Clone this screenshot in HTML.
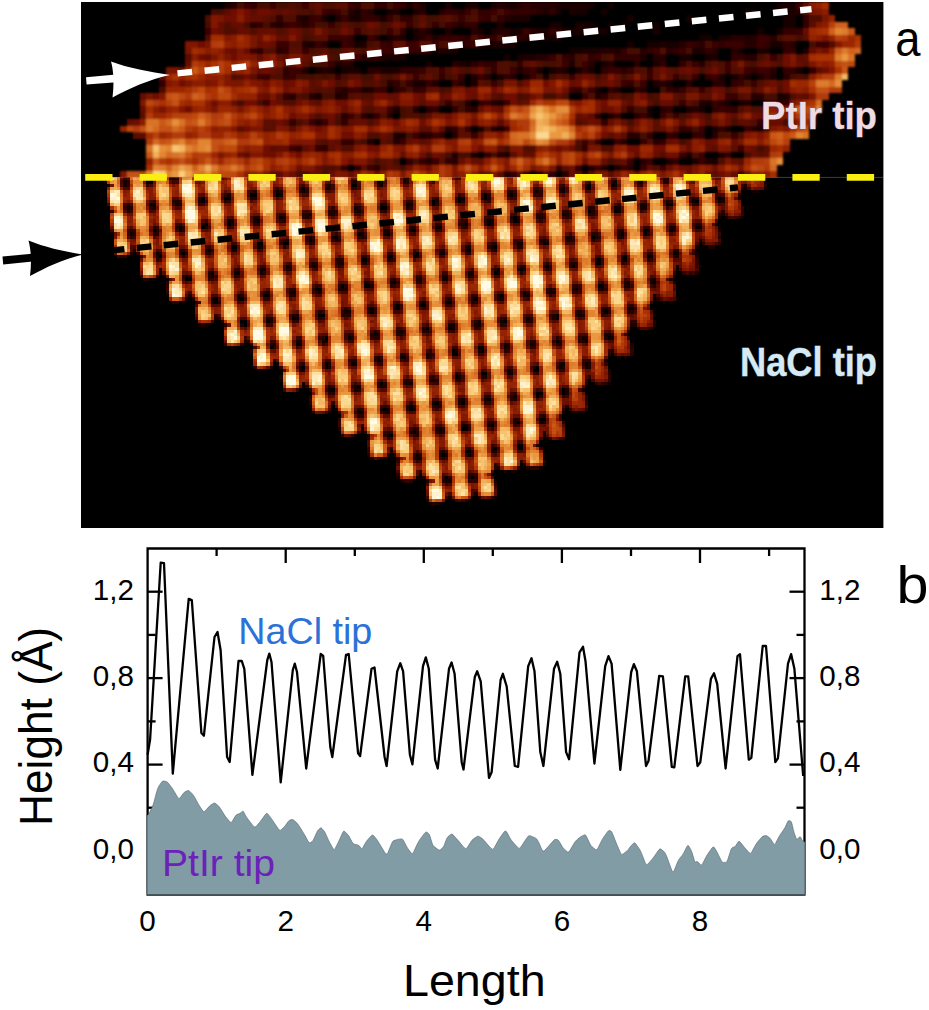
<!DOCTYPE html><html><head><meta charset="utf-8"><title>fig</title>
<style>html,body{margin:0;padding:0;background:#fff}svg{display:block}text{font-family:"Liberation Sans",sans-serif}</style></head><body>
<svg width="929" height="1010" viewBox="0 0 929 1010">
<rect width="929" height="1010" fill="#fff"/>
<rect x="81" y="2" width="802.4" height="526" fill="#000"/>
<defs><filter id="bl" x="-5%" y="-10%" width="110%" height="120%"><feGaussianBlur stdDeviation="1.1"/></filter><clipPath id="cp"><rect x="81" y="2" width="802.4" height="175.4"/></clipPath></defs>
<g clip-path="url(#cp)"><g filter="url(#bl)">
<g transform="translate(81 2) scale(6.5)" shape-rendering="crispEdges" fill="none" stroke-width="1">
<path stroke="#130100" d="M22 0.5h1M50 0.5h1M59 0.5h1M66 0.5h1M78 0.5h1M81 0.5h1M107 0.5h1M109 0.5h1M42 1.5h1M47 1.5h1M73 1.5h1M76 1.5h2M80 1.5h1M102 1.5h2M107 1.5h2M37 2.5h1M42 2.5h1M46 2.5h1M84 2.5h1M93 2.5h1M108 2.5h2M72 3.5h2M76 3.5h3M81 3.5h1M83 3.5h1M88 3.5h1M108 3.5h2M53 4.5h1M61 4.5h1M66 4.5h1M75 4.5h1M78 4.5h3M88 4.5h1M104 4.5h1M107 4.5h1M47 5.5h1M51 5.5h1M70 5.5h3M95 5.5h2M98 5.5h2M35 6.5h1M42 6.5h1M62 6.5h1M65 6.5h2M84 6.5h1M87 6.5h2M90 6.5h2M106 6.5h2M54 7.5h1M75 7.5h2M101 7.5h1M105 7.5h1M47 8.5h1M49 8.5h1M65 8.5h1M67 8.5h1M92 8.5h2M96 8.5h1M39 9.5h1M53 9.5h1M59 9.5h1M80 9.5h1M36 10.5h1M38 10.5h1M40 10.5h1M42 10.5h1M72 10.5h1M74 10.5h1M76 10.5h1M78 10.5h1M110 10.5h1M64 11.5h1M68 11.5h1M71 11.5h1M100 11.5h1M102 11.5h1M104 11.5h1M106 11.5h1M51 12.5h2M90 12.5h1M43 13.5h1M79 13.5h1M36 14.5h1M64 15.5h1M96 15.5h1M99 15.5h1M101 15.5h1M48 16.5h1M87 16.5h1M95 16.5h1M44 17.5h1M87 17.5h1M64 19.5h1M99 19.5h1M104 19.5h1M48 20.5h1M60 23.5h1M93 23.5h1M97 24.5h1M57 27.5h2M61 27.5h1M93 27.5h1"/>
<path stroke="#1d0200" d="M52 0.5h1M56 0.5h1M60 0.5h1M63 0.5h1M65 0.5h1M73 0.5h5M108 0.5h1M48 1.5h1M51 1.5h1M71 1.5h1M75 1.5h1M109 1.5h1M34 2.5h1M39 2.5h1M41 2.5h1M66 2.5h3M30 3.5h1M58 3.5h1M64 3.5h1M51 4.5h1M56 4.5h1M63 4.5h1M67 4.5h1M70 4.5h2M74 4.5h1M76 4.5h2M49 5.5h1M54 5.5h1M66 5.5h1M69 5.5h1M73 5.5h1M102 5.5h1M34 6.5h1M43 6.5h1M63 6.5h2M89 6.5h1M55 7.5h3M77 7.5h3M82 7.5h1M94 7.5h2M104 7.5h1M111 7.5h1M46 8.5h1M48 8.5h1M68 8.5h2M86 8.5h1M97 8.5h1M41 9.5h1M58 9.5h1M75 9.5h1M88 9.5h1M34 10.5h1M41 10.5h1M46 10.5h3M67 10.5h1M70 10.5h1M60 11.5h1M66 11.5h1M98 11.5h1M54 12.5h1M60 12.5h1M88 12.5h1M44 13.5h1M82 13.5h1M86 13.5h1M39 14.5h1M79 14.5h1M107 14.5h2M59 15.5h1M63 15.5h1M95 15.5h1M102 15.5h1M51 16.5h1M93 16.5h1M81 17.5h1M36 18.5h1M61 19.5h1M97 19.5h1M49 20.5h1M52 20.5h1M44 21.5h1M57 23.5h1M65 23.5h1M98 23.5h1M53 24.5h1M90 24.5h1M94 24.5h1M96 24.5h1M78 25.5h1M80 25.5h1M82 25.5h1M65 26.5h1M70 26.5h1M62 27.5h1M65 27.5h1M94 27.5h1"/>
<path stroke="#270300" d="M23 0.5h1M64 0.5h1M67 0.5h1M69 0.5h4M41 1.5h1M44 1.5h1M52 1.5h1M55 1.5h1M58 1.5h1M70 1.5h1M110 1.5h1M33 2.5h1M65 2.5h1M26 3.5h1M29 3.5h1M34 3.5h1M52 4.5h1M60 4.5h1M64 4.5h2M69 4.5h1M73 4.5h1M45 5.5h1M48 5.5h1M52 5.5h1M59 5.5h1M68 5.5h1M100 5.5h2M103 5.5h1M106 5.5h1M37 6.5h1M58 6.5h1M61 6.5h1M92 6.5h1M95 6.5h1M102 6.5h2M109 6.5h1M27 7.5h1M30 7.5h1M80 7.5h2M86 7.5h1M90 7.5h1M97 7.5h1M100 7.5h1M43 8.5h1M70 8.5h2M75 8.5h1M88 8.5h2M102 8.5h2M40 9.5h1M57 9.5h1M60 9.5h1M78 9.5h1M81 9.5h1M85 9.5h1M95 9.5h1M31 10.5h1M37 10.5h1M44 10.5h2M73 10.5h1M83 10.5h1M106 10.5h1M62 11.5h1M108 11.5h1M47 12.5h1M58 12.5h1M89 12.5h1M93 12.5h1M97 12.5h2M40 13.5h1M48 13.5h1M91 13.5h1M32 14.5h1M35 14.5h1M40 14.5h1M103 14.5h2M98 15.5h1M107 15.5h1M53 16.5h1M60 16.5h1M89 16.5h1M94 16.5h1M40 17.5h1M43 17.5h1M47 17.5h1M79 17.5h1M85 17.5h1M56 19.5h1M63 19.5h1M103 19.5h1M53 20.5h1M57 20.5h1M84 20.5h2M91 20.5h1M97 20.5h1M48 21.5h1M83 21.5h1M88 21.5h1M64 23.5h1M57 24.5h1M86 24.5h1M42 25.5h1M45 25.5h1M84 25.5h1M74 26.5h1M77 26.5h1M96 27.5h1M100 27.5h1"/>
<path stroke="#300300" d="M26 0.5h1M42 0.5h1M45 0.5h2M49 0.5h1M51 0.5h1M68 0.5h1M38 1.5h1M43 1.5h1M56 1.5h2M61 1.5h2M66 1.5h4M72 1.5h1M30 2.5h1M35 2.5h1M43 2.5h3M49 2.5h2M62 2.5h1M64 2.5h1M111 2.5h1M27 3.5h1M31 3.5h1M33 3.5h1M54 3.5h1M57 3.5h1M59 3.5h2M111 3.5h1M49 4.5h1M72 4.5h1M108 4.5h2M41 5.5h1M55 5.5h2M58 5.5h1M62 5.5h2M65 5.5h1M67 5.5h1M41 6.5h1M47 6.5h1M59 6.5h1M94 6.5h1M98 6.5h1M105 6.5h1M108 6.5h1M31 7.5h1M51 7.5h1M53 7.5h1M83 7.5h1M87 7.5h1M91 7.5h1M96 7.5h1M108 7.5h2M44 8.5h2M74 8.5h1M78 8.5h1M82 8.5h4M100 8.5h2M62 9.5h2M67 9.5h1M89 9.5h1M92 9.5h1M49 10.5h3M63 10.5h1M68 10.5h1M77 10.5h1M80 10.5h1M87 10.5h1M103 10.5h1M108 10.5h2M112 10.5h1M31 11.5h1M55 11.5h1M65 11.5h1M96 11.5h1M101 11.5h1M105 11.5h1M12 12.5h1M48 12.5h1M50 12.5h1M53 12.5h1M84 12.5h1M100 12.5h1M39 13.5h1M51 13.5h1M76 13.5h1M81 13.5h1M85 13.5h1M90 13.5h1M31 14.5h1M80 14.5h1M56 15.5h1M61 15.5h1M108 15.5h1M54 16.5h1M57 16.5h1M59 16.5h1M84 16.5h1M90 16.5h1M97 16.5h1M99 16.5h2M45 17.5h1M82 17.5h1M32 18.5h1M40 18.5h1M80 18.5h1M104 18.5h1M57 19.5h1M92 19.5h1M98 19.5h1M55 20.5h1M87 20.5h1M90 20.5h1M94 20.5h2M40 21.5h2M79 21.5h1M89 21.5h1M33 22.5h1M36 22.5h2M77 22.5h1M62 23.5h1M99 23.5h1M50 24.5h1M52 24.5h1M56 24.5h1M91 24.5h1M40 25.5h1M76 25.5h1M66 26.5h1M68 26.5h1M72 26.5h1M66 27.5h1"/>
<path stroke="#3a0400" d="M25 0.5h1M29 0.5h1M34 0.5h1M41 0.5h1M48 0.5h1M110 0.5h1M37 1.5h1M39 1.5h1M59 1.5h1M63 1.5h1M65 1.5h1M36 2.5h1M40 2.5h1M47 2.5h1M58 2.5h1M61 2.5h1M32 3.5h1M35 3.5h1M38 3.5h1M50 3.5h1M56 3.5h1M19 4.5h1M42 4.5h1M47 4.5h1M68 4.5h1M110 4.5h1M38 5.5h3M44 5.5h1M53 5.5h1M57 5.5h1M61 5.5h1M104 5.5h2M30 6.5h2M36 6.5h1M40 6.5h1M46 6.5h1M50 6.5h2M54 6.5h1M60 6.5h1M93 6.5h1M97 6.5h1M99 6.5h3M104 6.5h1M113 6.5h2M26 7.5h1M34 7.5h1M46 7.5h2M50 7.5h1M52 7.5h1M88 7.5h1M92 7.5h1M42 8.5h1M72 8.5h1M79 8.5h1M106 8.5h1M38 9.5h1M61 9.5h1M74 9.5h1M77 9.5h1M94 9.5h1M99 9.5h1M32 10.5h2M52 10.5h1M55 10.5h1M66 10.5h1M69 10.5h1M81 10.5h2M84 10.5h1M99 10.5h1M102 10.5h1M104 10.5h2M27 11.5h2M32 11.5h1M39 11.5h1M51 11.5h1M58 11.5h1M61 11.5h1M69 11.5h1M75 11.5h1M87 11.5h1M91 11.5h1M94 11.5h1M97 11.5h1M57 12.5h1M63 12.5h1M83 12.5h1M86 12.5h1M101 12.5h1M103 12.5h1M41 13.5h2M45 13.5h2M49 13.5h1M52 13.5h1M75 13.5h1M78 13.5h1M92 13.5h1M95 13.5h1M77 14.5h1M99 14.5h2M28 15.5h1M62 15.5h1M65 15.5h1M92 15.5h1M97 15.5h1M105 15.5h2M47 16.5h1M98 16.5h1M41 17.5h1M86 17.5h1M89 17.5h1M91 17.5h1M35 18.5h1M37 18.5h1M59 19.5h1M65 19.5h1M93 19.5h1M95 19.5h1M102 19.5h1M51 20.5h1M54 20.5h1M60 20.5h1M100 20.5h1M49 21.5h1M77 21.5h1M82 21.5h1M86 21.5h1M32 22.5h1M101 22.5h1M92 23.5h1M95 23.5h1M54 24.5h1M84 24.5h1M87 24.5h1M95 24.5h1M44 25.5h1M73 25.5h1M79 25.5h1M83 25.5h1M86 25.5h1M89 25.5h1M101 26.5h1M53 27.5h1M60 27.5h1M99 27.5h1M102 27.5h1"/>
<path stroke="#450700" d="M24 0.5h1M27 0.5h2M30 0.5h2M33 0.5h1M47 0.5h1M20 1.5h2M35 1.5h1M40 1.5h1M60 1.5h1M64 1.5h1M48 2.5h1M51 2.5h1M53 2.5h2M57 2.5h1M59 2.5h1M63 2.5h1M19 3.5h1M25 3.5h1M28 3.5h1M36 3.5h2M39 3.5h1M42 3.5h1M46 3.5h1M51 3.5h1M53 3.5h1M55 3.5h1M46 4.5h1M34 5.5h1M60 5.5h1M64 5.5h1M107 5.5h1M110 5.5h1M44 6.5h1M55 6.5h1M96 6.5h1M112 6.5h1M35 7.5h1M38 7.5h2M43 7.5h1M48 7.5h1M84 7.5h2M93 7.5h1M39 8.5h1M76 8.5h1M80 8.5h1M104 8.5h1M107 8.5h1M35 9.5h3M66 9.5h1M71 9.5h2M76 9.5h1M93 9.5h1M96 9.5h1M103 9.5h1M59 10.5h1M62 10.5h1M95 10.5h1M33 11.5h3M37 11.5h1M40 11.5h1M43 11.5h2M47 11.5h1M56 11.5h1M70 11.5h1M72 11.5h1M79 11.5h1M83 11.5h1M92 11.5h1M109 11.5h1M111 11.5h1M46 12.5h1M49 12.5h1M64 12.5h1M102 12.5h1M12 13.5h1M50 13.5h1M55 13.5h1M89 13.5h1M99 13.5h1M34 14.5h1M37 14.5h2M67 14.5h1M71 14.5h2M83 14.5h1M87 14.5h1M105 14.5h2M24 15.5h1M27 15.5h1M58 15.5h1M88 15.5h1M94 15.5h1M49 16.5h1M58 16.5h1M85 16.5h2M49 17.5h1M52 17.5h1M92 17.5h1M96 17.5h1M33 18.5h1M39 18.5h1M84 18.5h1M100 18.5h1M108 18.5h1M94 19.5h1M105 19.5h1M50 20.5h1M86 20.5h1M43 21.5h1M92 21.5h1M65 22.5h1M76 22.5h1M104 22.5h1M53 23.5h1M56 23.5h1M58 23.5h2M63 23.5h1M94 23.5h1M102 23.5h1M45 24.5h1M48 24.5h1M51 24.5h1M81 24.5h1M49 25.5h1M33 26.5h2M37 26.5h1M64 27.5h1M89 27.5h1M95 27.5h1"/>
<path stroke="#4f0900" d="M32 0.5h1M37 0.5h2M43 0.5h2M33 1.5h2M111 1.5h1M19 2.5h1M29 2.5h1M31 2.5h2M55 2.5h1M60 2.5h1M112 2.5h2M22 3.5h1M41 3.5h1M43 3.5h1M47 3.5h1M22 4.5h2M26 4.5h1M30 4.5h1M34 4.5h1M38 4.5h2M43 4.5h1M45 4.5h1M48 4.5h1M19 5.5h1M35 5.5h1M32 6.5h2M45 6.5h1M53 6.5h1M56 6.5h2M115 6.5h1M28 7.5h2M36 7.5h1M42 7.5h1M49 7.5h1M89 7.5h1M38 8.5h1M73 8.5h1M77 8.5h1M81 8.5h1M64 9.5h2M70 9.5h1M73 9.5h1M98 9.5h1M102 9.5h1M107 9.5h1M53 10.5h2M56 10.5h1M58 10.5h1M64 10.5h2M85 10.5h2M91 10.5h1M98 10.5h1M100 10.5h1M23 11.5h1M29 11.5h2M36 11.5h1M38 11.5h1M46 11.5h1M52 11.5h1M54 11.5h1M57 11.5h1M74 11.5h1M93 11.5h1M110 11.5h1M39 12.5h1M43 12.5h2M62 12.5h1M67 12.5h1M85 12.5h1M104 12.5h1M36 13.5h1M38 13.5h1M56 13.5h1M77 13.5h1M93 13.5h1M96 13.5h1M103 13.5h1M107 13.5h1M33 14.5h1M41 14.5h1M43 14.5h2M64 14.5h1M68 14.5h1M74 14.5h1M78 14.5h1M81 14.5h1M84 14.5h1M88 14.5h1M92 14.5h1M101 14.5h1M109 14.5h1M31 15.5h2M55 15.5h1M57 15.5h1M91 15.5h1M44 16.5h1M50 16.5h1M83 16.5h1M101 16.5h1M103 16.5h2M36 17.5h1M39 17.5h1M42 17.5h1M46 17.5h1M50 17.5h2M90 17.5h1M93 17.5h1M44 18.5h1M76 18.5h1M96 18.5h1M103 18.5h1M105 18.5h1M62 19.5h1M44 20.5h2M98 20.5h2M101 20.5h1M37 21.5h1M42 21.5h1M47 21.5h1M76 21.5h1M87 21.5h1M40 22.5h2M68 22.5h2M80 22.5h2M89 23.5h1M98 24.5h1M37 25.5h2M46 25.5h1M88 25.5h1M71 26.5h1M76 26.5h1M78 26.5h1M54 27.5h1M56 27.5h1M59 27.5h1M63 27.5h1M69 27.5h1"/>
<path stroke="#5a0c00" d="M35 0.5h1M39 0.5h2M111 0.5h1M22 1.5h1M26 1.5h1M30 1.5h1M32 1.5h1M36 1.5h1M28 2.5h1M52 2.5h1M56 2.5h1M40 3.5h1M49 3.5h1M112 3.5h1M31 4.5h1M35 4.5h1M41 4.5h1M44 4.5h1M36 5.5h2M108 5.5h2M111 5.5h1M48 6.5h2M52 6.5h1M32 7.5h2M37 7.5h1M40 7.5h1M16 8.5h1M31 8.5h1M35 8.5h1M40 8.5h2M105 8.5h1M110 8.5h1M31 9.5h1M34 9.5h1M68 9.5h1M97 9.5h1M100 9.5h1M106 9.5h1M111 9.5h1M30 10.5h1M60 10.5h1M88 10.5h1M90 10.5h1M94 10.5h1M96 10.5h1M101 10.5h1M113 10.5h1M12 11.5h1M24 11.5h1M26 11.5h1M41 11.5h2M48 11.5h1M50 11.5h1M73 11.5h1M76 11.5h1M80 11.5h1M84 11.5h1M86 11.5h1M88 11.5h1M90 11.5h1M35 12.5h1M40 12.5h1M45 12.5h1M61 12.5h1M79 12.5h1M82 12.5h1M107 12.5h1M35 13.5h1M37 13.5h1M53 13.5h1M94 13.5h1M100 13.5h1M30 14.5h1M42 14.5h1M63 14.5h1M82 14.5h1M91 14.5h1M95 14.5h2M102 14.5h1M111 14.5h1M36 15.5h1M52 15.5h1M67 15.5h1M84 15.5h1M87 15.5h1M93 15.5h1M43 16.5h1M9 17.5h1M53 17.5h1M78 17.5h1M95 17.5h1M100 17.5h1M28 18.5h2M31 18.5h1M34 18.5h1M41 18.5h1M64 18.5h1M77 18.5h1M88 18.5h1M92 18.5h1M101 18.5h2M24 19.5h1M28 19.5h2M32 19.5h1M52 19.5h2M55 19.5h1M58 19.5h1M88 19.5h1M91 19.5h1M8 20.5h2M47 20.5h1M58 20.5h2M81 20.5h1M83 20.5h1M36 21.5h1M39 21.5h1M46 21.5h1M52 21.5h1M78 21.5h1M93 21.5h1M29 22.5h1M34 22.5h1M38 22.5h1M64 22.5h1M97 22.5h1M100 22.5h1M105 22.5h1M25 23.5h1M66 23.5h1M104 23.5h1M46 24.5h1M55 24.5h1M82 24.5h1M101 24.5h1M39 25.5h1M43 25.5h1M48 25.5h1M74 25.5h1M87 25.5h1M29 26.5h2M64 26.5h1M67 26.5h1M81 26.5h1M97 26.5h1M55 27.5h1M90 27.5h1M92 27.5h1"/>
<path stroke="#650f00" d="M36 0.5h1M29 1.5h1M31 1.5h1M26 2.5h2M21 3.5h1M23 3.5h2M45 3.5h1M52 3.5h1M21 4.5h1M24 4.5h2M27 4.5h3M33 4.5h1M37 4.5h1M111 4.5h1M30 5.5h2M33 5.5h1M27 6.5h1M29 6.5h1M23 7.5h1M25 7.5h1M41 7.5h1M44 7.5h2M112 7.5h1M19 8.5h1M27 8.5h1M30 8.5h1M34 8.5h1M36 8.5h1M111 8.5h1M16 9.5h1M32 9.5h1M69 9.5h1M104 9.5h1M110 9.5h1M15 10.5h1M27 10.5h1M29 10.5h1M57 10.5h1M92 10.5h1M53 11.5h1M78 11.5h1M82 11.5h1M31 12.5h1M36 12.5h1M75 12.5h1M80 12.5h1M105 12.5h1M54 13.5h1M59 13.5h1M98 13.5h1M104 13.5h1M9 14.5h1M28 14.5h1M47 14.5h2M52 14.5h1M55 14.5h1M60 14.5h1M73 14.5h1M110 14.5h1M23 15.5h1M30 15.5h1M35 15.5h1M44 15.5h1M48 15.5h1M68 15.5h1M89 15.5h2M9 16.5h1M40 16.5h1M45 16.5h2M61 16.5h1M64 16.5h1M80 16.5h1M102 16.5h1M35 17.5h1M37 17.5h1M76 17.5h1M104 17.5h1M7 18.5h1M38 18.5h1M42 18.5h2M45 18.5h1M79 18.5h1M81 18.5h1M83 18.5h1M97 18.5h1M99 18.5h1M106 18.5h2M84 19.5h1M89 19.5h1M46 20.5h1M61 20.5h1M38 21.5h1M50 21.5h1M53 21.5h1M90 21.5h1M96 21.5h1M100 21.5h1M30 22.5h2M93 22.5h1M96 22.5h1M103 22.5h1M49 23.5h1M55 23.5h1M68 23.5h2M85 23.5h1M88 23.5h1M103 23.5h1M105 23.5h1M44 24.5h1M47 24.5h1M58 24.5h1M60 24.5h2M80 24.5h1M83 24.5h1M100 24.5h1M36 25.5h1M47 25.5h1M90 25.5h1M93 25.5h1M36 26.5h1M38 26.5h1M41 26.5h1M61 26.5h2M75 26.5h1M93 26.5h1M100 26.5h1M102 26.5h1"/>
<path stroke="#6f1100" d="M23 1.5h1M25 1.5h1M27 1.5h2M22 2.5h2M25 2.5h1M44 3.5h1M48 3.5h1M20 4.5h1M32 4.5h1M40 4.5h1M27 5.5h1M18 6.5h1M28 6.5h1M22 7.5h1M114 7.5h1M18 8.5h1M23 8.5h1M108 8.5h1M105 9.5h1M108 9.5h1M28 10.5h1M61 10.5h1M89 10.5h1M93 10.5h1M97 10.5h1M114 10.5h1M25 11.5h1M45 11.5h1M77 11.5h1M15 12.5h1M28 12.5h1M32 12.5h1M38 12.5h1M42 12.5h1M68 12.5h1M71 12.5h1M76 12.5h1M81 12.5h1M106 12.5h1M108 12.5h1M31 13.5h1M34 13.5h1M60 13.5h1M63 13.5h1M74 13.5h1M97 13.5h1M108 13.5h1M11 14.5h1M27 14.5h1M45 14.5h2M51 14.5h1M56 14.5h1M59 14.5h1M65 14.5h2M69 14.5h1M86 14.5h1M98 14.5h1M20 15.5h1M25 15.5h2M29 15.5h1M33 15.5h1M39 15.5h2M43 15.5h1M51 15.5h1M53 15.5h2M66 15.5h1M80 15.5h1M83 15.5h1M16 16.5h1M63 16.5h1M81 16.5h1M32 17.5h1M38 17.5h1M56 17.5h1M77 17.5h1M94 17.5h1M99 17.5h1M103 17.5h1M8 18.5h1M30 18.5h1M48 18.5h1M52 18.5h1M60 18.5h1M78 18.5h1M85 18.5h1M95 18.5h1M109 18.5h1M25 19.5h1M36 19.5h1M40 20.5h2M80 20.5h1M82 20.5h1M51 21.5h1M91 21.5h1M97 21.5h1M28 22.5h1M35 22.5h1M39 22.5h1M44 22.5h2M61 22.5h1M73 22.5h1M75 22.5h1M84 22.5h2M88 22.5h2M102 22.5h1M24 23.5h1M28 23.5h2M33 23.5h1M52 23.5h1M54 23.5h1M90 23.5h2M41 24.5h1M77 24.5h1M33 25.5h1M50 25.5h1M53 25.5h1M75 25.5h1M92 25.5h1M97 25.5h1M32 26.5h1M35 26.5h1M45 26.5h1M85 26.5h1M96 26.5h1M98 26.5h1M67 27.5h2M70 27.5h1M85 27.5h1M91 27.5h1"/>
<path stroke="#7a1400" d="M112 1.5h1M21 2.5h1M114 2.5h1M36 4.5h1M26 5.5h1M114 5.5h1M19 6.5h1M26 6.5h1M16 7.5h1M24 7.5h1M113 7.5h1M20 8.5h1M22 8.5h1M26 8.5h1M28 8.5h1M32 8.5h2M37 8.5h1M30 9.5h1M33 9.5h1M101 9.5h1M109 9.5h1M112 9.5h1M13 10.5h2M26 10.5h1M49 11.5h1M89 11.5h1M16 12.5h1M19 12.5h1M23 12.5h2M27 12.5h1M37 12.5h1M41 12.5h1M65 12.5h2M78 12.5h1M32 13.5h1M57 13.5h1M71 13.5h2M101 13.5h2M106 13.5h1M10 14.5h1M29 14.5h1M62 14.5h1M70 14.5h1M85 14.5h1M93 14.5h2M97 14.5h1M112 14.5h1M34 15.5h1M47 15.5h1M79 15.5h1M109 15.5h1M12 16.5h1M20 16.5h1M24 16.5h1M41 16.5h1M79 16.5h1M82 16.5h1M33 17.5h1M54 17.5h2M60 17.5h1M97 17.5h1M101 17.5h1M56 18.5h1M82 18.5h1M87 18.5h1M89 18.5h1M98 18.5h1M26 19.5h2M31 19.5h1M33 19.5h1M37 19.5h1M40 19.5h1M48 19.5h1M85 19.5h1M87 19.5h1M90 19.5h1M104 20.5h1M33 21.5h1M101 21.5h1M49 22.5h1M66 22.5h1M72 22.5h1M74 22.5h1M78 22.5h2M92 22.5h1M99 22.5h1M21 23.5h1M67 23.5h1M81 23.5h1M99 24.5h1M57 25.5h1M69 25.5h1M72 25.5h1M94 25.5h1M101 25.5h1M28 26.5h1M31 26.5h1M40 26.5h1M57 26.5h1M80 26.5h1M82 26.5h1M89 26.5h1M99 26.5h1M49 27.5h2M52 27.5h1M73 27.5h1M81 27.5h1M86 27.5h1M88 27.5h1"/>
<path stroke="#821901" d="M24 1.5h1M113 1.5h1M20 2.5h1M20 3.5h1M113 3.5h1M22 5.5h1M29 5.5h1M32 5.5h1M16 6.5h2M116 6.5h1M24 8.5h2M109 8.5h1M115 10.5h1M22 11.5h1M81 11.5h1M85 11.5h1M13 12.5h1M20 12.5h1M22 12.5h1M26 12.5h1M30 12.5h1M34 12.5h1M72 12.5h1M28 13.5h1M33 13.5h1M58 13.5h1M64 13.5h1M67 13.5h1M12 14.5h1M89 14.5h2M9 15.5h1M37 15.5h1M49 15.5h2M76 15.5h1M85 15.5h1M15 16.5h1M28 16.5h1M32 16.5h1M36 16.5h1M39 16.5h1M62 16.5h1M105 16.5h1M107 16.5h2M34 17.5h1M57 17.5h1M108 17.5h1M47 18.5h1M63 18.5h1M65 18.5h1M91 18.5h1M93 18.5h1M112 18.5h1M23 19.5h1M30 19.5h1M35 19.5h1M41 19.5h1M44 19.5h1M49 19.5h1M51 19.5h1M54 19.5h1M80 19.5h1M106 19.5h1M108 19.5h1M36 20.5h2M43 20.5h1M64 20.5h1M102 20.5h1M32 21.5h1M34 21.5h2M56 21.5h2M95 21.5h1M42 22.5h1M48 22.5h1M53 22.5h1M57 22.5h1M60 22.5h1M67 22.5h1M98 22.5h1M26 23.5h2M30 23.5h1M32 23.5h1M37 23.5h1M45 23.5h1M84 23.5h1M37 24.5h1M40 24.5h1M42 24.5h2M59 24.5h1M65 24.5h1M34 25.5h2M52 25.5h1M65 25.5h1M91 25.5h1M6 26.5h1M39 26.5h1M42 26.5h1M49 26.5h1M63 26.5h1M79 26.5h1M94 26.5h1M25 27.5h2M29 27.5h1M33 27.5h1M51 27.5h1M103 27.5h1"/>
<path stroke="#8b1e02" d="M112 0.5h1M114 1.5h1M24 2.5h1M114 3.5h1M23 5.5h1M113 5.5h1M23 6.5h1M19 7.5h1M21 7.5h1M17 8.5h1M29 8.5h1M27 9.5h1M114 9.5h1M23 10.5h1M19 11.5h2M112 11.5h1M14 12.5h1M17 12.5h2M29 12.5h1M33 12.5h1M74 12.5h1M27 13.5h1M68 13.5h1M73 13.5h1M105 13.5h1M109 13.5h1M111 13.5h1M49 14.5h2M58 14.5h1M61 14.5h1M19 15.5h1M21 15.5h2M38 15.5h1M41 15.5h1M45 15.5h1M75 15.5h1M86 15.5h1M110 15.5h1M11 16.5h1M19 16.5h1M31 16.5h1M37 16.5h1M42 16.5h1M106 16.5h1M28 17.5h1M64 17.5h1M98 17.5h1M9 18.5h1M25 18.5h1M27 18.5h1M46 18.5h1M49 18.5h1M53 18.5h1M57 18.5h1M59 18.5h1M61 18.5h1M86 18.5h1M110 18.5h1M20 19.5h1M50 19.5h1M107 19.5h1M42 20.5h1M103 20.5h1M54 21.5h1M60 21.5h1M94 21.5h1M104 21.5h1M25 22.5h1M43 22.5h1M52 22.5h1M62 22.5h2M70 22.5h1M82 22.5h1M94 22.5h1M40 23.5h2M44 23.5h1M48 23.5h1M50 23.5h1M77 23.5h1M87 23.5h1M62 24.5h1M29 25.5h1M61 25.5h1M70 25.5h1M96 25.5h1M98 25.5h1M25 26.5h1M46 26.5h1M53 26.5h1M58 26.5h1M60 26.5h1M84 26.5h1M92 26.5h1M105 26.5h1M21 27.5h1M30 27.5h1M41 27.5h1M45 27.5h1M74 27.5h1M77 27.5h1M82 27.5h1M87 27.5h1"/>
<path stroke="#932303" d="M113 0.5h1M115 2.5h1M25 5.5h1M28 5.5h1M112 5.5h1M115 5.5h1M22 6.5h1M25 6.5h1M20 7.5h1M115 7.5h1M21 8.5h1M23 9.5h1M26 9.5h1M28 9.5h2M113 9.5h1M115 9.5h1M16 10.5h1M24 10.5h1M15 11.5h1M21 11.5h1M25 12.5h1M77 12.5h1M30 13.5h1M110 13.5h1M24 14.5h3M57 14.5h1M81 15.5h2M13 16.5h1M17 16.5h1M23 16.5h1M25 16.5h1M27 16.5h1M29 16.5h1M33 16.5h1M35 16.5h1M38 16.5h1M29 17.5h1M31 17.5h1M59 17.5h1M102 17.5h1M105 17.5h1M107 17.5h1M24 18.5h1M62 18.5h1M94 18.5h1M6 19.5h1M21 19.5h2M34 19.5h1M39 19.5h1M45 19.5h1M81 19.5h1M83 19.5h1M86 19.5h1M16 20.5h1M24 20.5h1M28 20.5h1M32 20.5h1M39 20.5h1M62 20.5h2M79 20.5h1M105 20.5h1M28 21.5h1M61 21.5h1M98 21.5h1M26 22.5h2M46 22.5h1M56 22.5h1M71 22.5h1M83 22.5h1M95 22.5h1M108 22.5h1M22 23.5h1M34 23.5h1M36 23.5h1M51 23.5h1M73 23.5h1M80 23.5h1M86 23.5h1M10 24.5h1M33 24.5h1M38 24.5h1M64 24.5h1M73 24.5h1M78 24.5h2M32 25.5h1M51 25.5h1M54 25.5h1M95 25.5h1M26 26.5h1M44 26.5h1M86 26.5h1M88 26.5h1M90 26.5h1M95 26.5h1M103 26.5h2M22 27.5h1M27 27.5h2M34 27.5h1M37 27.5h1M42 27.5h1M46 27.5h1M71 27.5h1M78 27.5h1"/>
<path stroke="#9b2804" d="M112 4.5h1M118 5.5h1M24 6.5h1M117 6.5h2M18 7.5h1M19 9.5h1M25 10.5h1M13 11.5h1M18 11.5h1M21 12.5h1M69 12.5h2M110 12.5h2M13 13.5h3M23 13.5h1M61 13.5h2M66 13.5h1M53 14.5h1M16 15.5h1M42 15.5h1M46 15.5h1M69 15.5h1M77 15.5h1M14 16.5h1M18 16.5h1M21 16.5h2M76 16.5h1M11 17.5h2M58 17.5h1M109 17.5h1M26 18.5h1M51 18.5h1M55 18.5h1M75 18.5h1M90 18.5h1M111 18.5h1M47 19.5h1M66 19.5h1M12 20.5h1M17 20.5h1M20 20.5h2M25 20.5h1M29 20.5h1M33 20.5h1M29 21.5h2M55 21.5h1M75 21.5h1M99 21.5h1M24 22.5h1M86 22.5h2M106 22.5h1M20 23.5h1M23 23.5h1M31 23.5h1M35 23.5h1M21 24.5h1M25 24.5h1M29 24.5h1M36 24.5h1M76 24.5h1M102 24.5h1M30 25.5h1M66 25.5h1M71 25.5h1M100 25.5h1M27 26.5h1M54 26.5h1M83 26.5h1M23 27.5h2M31 27.5h2M48 27.5h1M104 27.5h2"/>
<path stroke="#a42d05" d="M114 0.5h1M113 4.5h1M20 5.5h2M24 5.5h1M17 7.5h1M112 8.5h1M24 9.5h1M19 10.5h1M22 10.5h1M16 11.5h1M73 12.5h1M109 12.5h1M16 13.5h1M19 13.5h1M24 13.5h1M29 13.5h1M65 13.5h1M70 13.5h1M23 14.5h1M54 14.5h1M15 15.5h1M78 15.5h1M111 15.5h1M10 16.5h1M26 16.5h1M34 16.5h1M65 16.5h1M78 16.5h1M24 17.5h1M27 17.5h1M30 17.5h1M61 17.5h1M106 17.5h1M50 18.5h1M66 18.5h1M38 19.5h1M42 19.5h2M76 19.5h1M109 19.5h1M10 20.5h1M13 20.5h1M27 20.5h1M38 20.5h1M65 20.5h1M77 20.5h1M31 21.5h1M64 21.5h1M102 21.5h2M105 21.5h1M47 22.5h1M50 22.5h1M58 22.5h2M90 22.5h2M107 22.5h1M38 23.5h1M42 23.5h1M46 23.5h2M72 23.5h1M76 23.5h1M82 23.5h1M17 24.5h1M39 24.5h1M69 24.5h1M56 25.5h1M68 25.5h1M43 26.5h1M50 26.5h1M56 26.5h1M59 26.5h1M106 26.5h1M18 27.5h1M38 27.5h1M72 27.5h1M84 27.5h1"/>
<path stroke="#ac3206" d="M114 4.5h1M119 5.5h1M113 8.5h3M18 9.5h1M20 9.5h1M22 9.5h1M116 10.5h1M14 11.5h1M17 11.5h1M113 11.5h1M20 13.5h1M25 13.5h1M69 13.5h1M112 13.5h1M20 14.5h1M12 15.5h1M17 15.5h2M71 15.5h2M112 15.5h1M30 16.5h1M77 16.5h1M109 16.5h1M13 17.5h1M63 17.5h1M75 17.5h1M23 18.5h1M54 18.5h1M58 18.5h1M17 19.5h1M19 19.5h1M46 19.5h1M67 19.5h1M23 20.5h1M31 20.5h1M34 20.5h2M39 23.5h1M43 23.5h1M70 23.5h1M13 24.5h1M28 24.5h1M32 24.5h1M34 24.5h1M63 24.5h1M10 25.5h1M28 25.5h1M31 25.5h1M58 25.5h1M60 25.5h1M62 25.5h1M64 25.5h1M99 25.5h1M102 25.5h1M24 26.5h1M48 26.5h1M52 26.5h1M87 26.5h1M91 26.5h1M6 27.5h1M17 27.5h1M20 27.5h1M36 27.5h1M47 27.5h1M83 27.5h1"/>
<path stroke="#b23a09" d="M117 5.5h1M20 6.5h1M119 6.5h1M17 9.5h1M20 10.5h1M17 13.5h1M26 13.5h1M115 13.5h2M16 14.5h1M19 14.5h1M113 14.5h2M11 15.5h1M10 17.5h1M20 17.5h1M23 17.5h1M25 17.5h1M110 17.5h3M67 18.5h2M8 19.5h1M16 19.5h1M68 19.5h1M77 19.5h1M79 19.5h1M82 19.5h1M14 20.5h2M18 20.5h2M22 20.5h1M30 20.5h1M76 20.5h1M10 21.5h1M24 21.5h2M58 21.5h1M65 21.5h1M73 21.5h2M51 22.5h1M54 22.5h2M17 23.5h1M78 23.5h1M83 23.5h1M106 23.5h1M12 24.5h1M16 24.5h1M20 24.5h1M24 24.5h1M30 24.5h1M68 24.5h1M103 24.5h2M25 25.5h1M55 25.5h1M105 25.5h1M47 26.5h1M55 26.5h1M19 27.5h1M35 27.5h1M40 27.5h1M44 27.5h1M75 27.5h2M80 27.5h1M106 27.5h1"/>
<path stroke="#b8410d" d="M115 3.5h1M116 5.5h1M21 6.5h1M21 9.5h1M25 9.5h1M18 10.5h1M21 10.5h1M114 11.5h2M112 12.5h1M22 13.5h1M13 15.5h1M70 15.5h1M67 16.5h1M75 16.5h1M14 17.5h3M21 17.5h1M65 17.5h1M20 18.5h1M18 19.5h1M110 19.5h1M11 20.5h1M26 20.5h1M78 20.5h1M59 21.5h1M108 21.5h1M21 22.5h1M18 23.5h2M71 23.5h1M74 23.5h1M107 23.5h1M14 24.5h1M18 24.5h1M22 24.5h1M26 24.5h1M31 24.5h1M35 24.5h1M66 24.5h1M74 24.5h1M105 24.5h1"/>
<path stroke="#be4910" d="M116 9.5h1M118 9.5h1M18 13.5h1M15 14.5h1M21 14.5h2M10 15.5h1M73 15.5h2M111 16.5h2M17 17.5h1M26 17.5h1M62 17.5h1M21 18.5h1M7 19.5h1M108 20.5h1M26 21.5h1M68 21.5h1M106 21.5h1M22 22.5h2M75 23.5h1M79 23.5h1M23 24.5h1M27 24.5h1M72 24.5h1M75 24.5h1M26 25.5h1M67 25.5h1M104 25.5h1M9 26.5h1M21 26.5h3M51 26.5h1M39 27.5h1M43 27.5h1M79 27.5h1"/>
<path stroke="#c45113" d="M117 9.5h1M21 13.5h1M113 13.5h2M13 14.5h1M14 15.5h1M66 16.5h1M68 16.5h1M19 17.5h1M16 18.5h1M22 18.5h1M74 18.5h1M9 19.5h1M12 19.5h2M78 19.5h1M111 19.5h1M12 21.5h1M20 21.5h2M27 21.5h1M62 21.5h1M72 21.5h1M20 22.5h1M15 24.5h1M59 25.5h1M103 25.5h1M7 26.5h2"/>
<path stroke="#ca5817" d="M118 4.5h1M17 10.5h1M117 10.5h1M14 14.5h1M18 14.5h1M22 17.5h1M12 18.5h1M17 18.5h1M19 18.5h1M15 19.5h1M106 20.5h1M109 20.5h1M13 21.5h1M16 21.5h1M63 21.5h1M107 21.5h1M10 23.5h1M16 23.5h1M11 24.5h1M19 24.5h1M70 24.5h1M21 25.5h1M27 25.5h1M63 25.5h1M14 27.5h1M16 27.5h1"/>
<path stroke="#d0601a" d="M116 3.5h2M115 4.5h1M116 7.5h1M118 7.5h1M17 14.5h1M110 16.5h1M18 17.5h1M68 17.5h1M73 18.5h1M107 20.5h1M17 21.5h1M22 21.5h1M66 21.5h1M69 21.5h1M67 24.5h1M13 25.5h1M17 25.5h1M22 25.5h1M24 25.5h1M20 26.5h1M13 27.5h1"/>
<path stroke="#d46920" d="M119 7.5h1M115 12.5h1M113 15.5h1M67 17.5h1M74 17.5h1M13 18.5h1M69 18.5h1M11 19.5h1M14 19.5h1M75 19.5h1M66 20.5h1M11 21.5h1M23 21.5h1M67 21.5h1M13 23.5h1M106 25.5h1"/>
<path stroke="#d97327" d="M118 8.5h1M72 16.5h1M10 18.5h2M15 18.5h1M69 19.5h1M67 20.5h2M111 20.5h1M14 21.5h1M10 22.5h1M17 22.5h1M14 23.5h1M71 24.5h1M106 24.5h1M18 26.5h1M15 27.5h1"/>
<path stroke="#dd7c2d" d="M117 4.5h1M117 7.5h1M116 8.5h1M116 11.5h1M113 12.5h2M66 17.5h1M73 17.5h1M18 18.5h1M72 18.5h1M10 19.5h1M15 23.5h1M12 25.5h1M20 25.5h1M23 25.5h1M17 26.5h1M10 27.5h1"/>
<path stroke="#e18533" d="M116 4.5h1M113 16.5h1M75 20.5h1M110 20.5h1M15 21.5h1M18 21.5h2M71 21.5h1M13 22.5h1M16 22.5h1M18 22.5h1M12 23.5h1M11 25.5h1M14 25.5h1M18 25.5h1M10 26.5h1M13 26.5h1M9 27.5h1"/>
<path stroke="#e68f3a" d="M116 12.5h1M69 16.5h1M71 16.5h1M73 16.5h2M14 18.5h1M74 19.5h1M69 20.5h1M70 21.5h1M12 22.5h1M19 22.5h1M107 24.5h1M16 25.5h1M19 26.5h1M12 27.5h1"/>
<path stroke="#ea9840" d="M117 8.5h1M72 17.5h1M73 19.5h1M72 20.5h2M14 26.5h1M7 27.5h1"/>
<path stroke="#eda34c" d="M69 17.5h1M71 18.5h1M15 25.5h1M16 26.5h1M8 27.5h1M11 27.5h1"/>
<path stroke="#f1ae58" d="M70 16.5h1M71 17.5h1M70 18.5h1M72 19.5h1M74 20.5h1M11 23.5h1M19 25.5h1"/>
<path stroke="#f4b864" d="M117 11.5h1M70 19.5h1M15 22.5h1"/>
<path stroke="#f7c370" d="M70 17.5h1M71 19.5h1M11 22.5h1M14 22.5h1"/>
<path stroke="#face7c" d="M12 26.5h1M15 26.5h1"/>
<path stroke="#fcd78f" d="M70 20.5h2M11 26.5h1"/>
</g>
</g></g>
<g transform="translate(81 177) scale(3.25)" shape-rendering="crispEdges" fill="none" stroke-width="1">
<path stroke="#130100" d="M28 0.5h1M171 0.5h2M180 0.5h1M7 1.5h1M13 1.5h1M92 1.5h1M99 1.5h1M164 1.5h1M172 1.5h1M210 1.5h1M8 2.5h1M13 2.5h1M92 2.5h1M164 2.5h1M148 3.5h1M155 3.5h1M204 3.5h1M210 3.5h1M60 4.5h1M68 4.5h1M140 4.5h1M148 4.5h1M206 4.5h3M45 5.5h1M61 5.5h1M188 6.5h1M197 6.5h1M202 6.5h1M188 7.5h1M196 7.5h1M29 8.5h1M92 8.5h1M101 8.5h1M172 8.5h2M14 9.5h1M22 9.5h1M84 9.5h1M164 9.5h2M172 9.5h2M85 10.5h1M165 10.5h1M70 11.5h1M148 11.5h1M53 12.5h1M196 12.5h1M198 12.5h1M203 12.5h1M46 13.5h1M53 13.5h1M126 13.5h1M134 13.5h1M126 14.5h1M109 15.5h1M181 15.5h2M196 15.5h1M93 16.5h2M174 16.5h1M196 16.5h1M15 17.5h1M86 17.5h1M93 17.5h1M70 18.5h1M77 18.5h1M149 18.5h2M142 19.5h1M134 20.5h2M143 20.5h1M55 21.5h1M119 21.5h1M126 21.5h1M189 21.5h1M46 22.5h1M23 23.5h1M110 23.5h2M183 23.5h1M189 23.5h1M94 24.5h1M103 24.5h1M94 25.5h1M158 25.5h1M166 25.5h1M80 26.5h1M71 27.5h1M135 27.5h1M190 27.5h1M55 28.5h2M183 28.5h1M24 29.5h1M47 29.5h1M55 29.5h1M119 29.5h2M128 29.5h1M40 30.5h1M111 30.5h2M119 30.5h1M182 30.5h1M21 31.5h2M104 31.5h1M111 31.5h2M176 31.5h1M87 32.5h1M95 32.5h1M175 32.5h1M168 33.5h1M80 34.5h1M144 34.5h1M152 34.5h1M160 34.5h1M64 35.5h1M73 35.5h1M144 35.5h2M26 36.5h1M48 36.5h1M136 36.5h2M176 36.5h1M32 37.5h1M40 37.5h1M48 37.5h1M129 37.5h1M183 37.5h1M31 38.5h1M105 38.5h1M179 38.5h1M181 38.5h1M104 39.5h1M88 40.5h1M168 40.5h1M81 41.5h2M146 42.5h1M153 42.5h1M176 42.5h1M57 43.5h2M66 43.5h1M146 43.5h1M122 44.5h1M129 44.5h1M36 45.5h1M38 45.5h1M113 45.5h2M122 45.5h1M114 46.5h1M98 47.5h1M90 48.5h1M161 48.5h2M83 49.5h1M154 49.5h1M163 49.5h1M66 50.5h2M74 50.5h2M155 50.5h1M59 51.5h1M130 51.5h2M138 51.5h1M46 52.5h1M130 52.5h1M52 53.5h1M115 53.5h1M122 53.5h1M52 54.5h1M106 54.5h1M91 55.5h1M98 55.5h1M165 55.5h1M167 55.5h1M161 56.5h1M60 57.5h1M84 57.5h1M147 57.5h2M67 58.5h1M155 58.5h1M54 59.5h1M67 59.5h2M131 60.5h2M116 61.5h1M61 62.5h1M107 62.5h2M68 63.5h1M101 63.5h1M162 63.5h1M92 64.5h1M76 65.5h1M84 65.5h1M154 65.5h1M133 67.5h1M117 68.5h1M124 68.5h1M108 69.5h1M70 70.5h1M78 71.5h1M94 71.5h1M102 71.5h1M76 72.5h1M86 72.5h1M94 72.5h1M148 72.5h1M151 72.5h1M153 72.5h2M141 75.5h1M117 76.5h2M125 76.5h1M86 77.5h1M110 78.5h1M84 79.5h1M94 79.5h1M142 79.5h1M143 80.5h1M126 83.5h1M126 84.5h1M88 85.5h1M103 85.5h1M112 85.5h1M119 85.5h1M142 85.5h1M89 86.5h1M93 86.5h1M103 86.5h1M128 89.5h1M141 89.5h1M132 90.5h2M97 92.5h1M103 92.5h1M98 93.5h1M112 93.5h2M127 93.5h1M113 98.5h1M127 98.5h1M106 99.5h1M107 100.5h1M110 100.5h1"/>
<path stroke="#1d0200" d="M21 0.5h1M27 0.5h1M35 0.5h1M99 0.5h2M107 0.5h2M179 0.5h1M187 0.5h2M84 1.5h1M171 1.5h1M179 1.5h1M76 2.5h1M91 2.5h1M155 2.5h1M204 2.5h1M76 3.5h1M147 3.5h1M203 3.5h1M61 4.5h1M132 4.5h1M139 4.5h1M147 4.5h1M131 5.5h1M202 5.5h1M52 6.5h2M125 6.5h1M29 7.5h1M36 7.5h1M44 7.5h1M109 7.5h1M117 7.5h1M180 7.5h1M197 7.5h1M15 9.5h1M85 9.5h1M100 9.5h1M156 9.5h1M14 10.5h1M77 10.5h1M84 10.5h1M157 10.5h1M69 11.5h1M76 11.5h2M140 11.5h2M149 11.5h1M197 11.5h1M54 12.5h1M62 12.5h1M69 12.5h1M132 12.5h1M134 12.5h1M141 12.5h1M118 13.5h1M37 14.5h1M46 14.5h1M117 14.5h1M189 14.5h2M29 15.5h1M31 15.5h1M38 15.5h1M101 15.5h2M23 16.5h1M165 16.5h2M182 16.5h1M165 17.5h1M86 18.5h1M158 18.5h1M165 18.5h2M63 19.5h1M71 19.5h1M78 19.5h1M141 19.5h1M149 19.5h2M190 19.5h1M70 20.5h1M118 21.5h1M134 21.5h2M193 21.5h2M16 22.5h1M38 22.5h1M47 22.5h1M110 22.5h2M127 22.5h1M183 22.5h1M15 23.5h1M24 23.5h1M30 23.5h1M102 23.5h1M23 24.5h1M166 24.5h1M182 24.5h2M189 24.5h1M78 25.5h2M95 25.5h1M174 25.5h1M71 26.5h1M79 26.5h1M87 26.5h1M150 26.5h3M64 27.5h1M72 27.5h1M142 27.5h1M24 28.5h1M63 28.5h2M136 28.5h1M143 28.5h1M39 29.5h1M189 29.5h1M33 30.5h1M39 30.5h1M47 30.5h1M120 30.5h1M96 31.5h1M103 31.5h1M175 31.5h1M181 31.5h1M88 32.5h1M104 32.5h1M167 32.5h1M182 32.5h1M89 33.5h1M167 33.5h1M79 34.5h1M81 34.5h1M159 34.5h1M57 35.5h1M33 36.5h1M49 36.5h1M64 36.5h2M128 36.5h1M34 37.5h1M113 37.5h1M120 37.5h1M128 37.5h1M177 37.5h1M35 38.5h1M40 38.5h1M104 38.5h1M120 38.5h1M96 40.5h1M160 40.5h2M153 41.5h1M65 42.5h2M145 42.5h1M154 42.5h1M41 43.5h1M73 43.5h1M138 43.5h1M145 43.5h1M58 44.5h1M137 44.5h1M176 44.5h1M37 45.5h1M49 45.5h1M121 45.5h1M169 45.5h2M176 45.5h1M105 46.5h1M171 46.5h1M175 46.5h1M90 47.5h1M97 47.5h1M105 47.5h2M89 48.5h1M91 48.5h1M98 48.5h1M155 49.5h1M161 49.5h1M50 50.5h1M139 50.5h1M147 50.5h1M154 50.5h1M52 51.5h1M58 51.5h1M139 51.5h1M147 51.5h1M169 51.5h1M131 52.5h1M163 53.5h1M98 54.5h1M107 54.5h1M106 55.5h1M83 56.5h2M92 56.5h1M76 57.5h1M156 57.5h1M58 58.5h1M76 58.5h1M139 58.5h1M148 58.5h1M156 58.5h1M132 59.5h1M162 59.5h1M115 60.5h1M61 61.5h1M123 61.5h2M100 62.5h1M116 62.5h1M100 63.5h1M76 64.5h1M84 64.5h1M93 64.5h1M70 65.5h1M85 65.5h1M149 65.5h1M149 66.5h1M70 67.5h1M132 67.5h1M116 68.5h1M133 68.5h1M116 69.5h1M100 70.5h1M109 70.5h2M149 70.5h1M85 71.5h1M92 71.5h1M71 72.5h1M93 72.5h1M152 72.5h1M142 73.5h1M133 74.5h1M126 75.5h1M133 75.5h1M142 75.5h1M79 77.5h1M102 77.5h1M109 77.5h1M111 77.5h1M94 78.5h1M101 78.5h1M142 78.5h1M88 79.5h1M88 80.5h1M140 82.5h1M95 84.5h1M111 84.5h1M127 84.5h1M96 85.5h1M104 85.5h1M110 85.5h1M92 86.5h1M97 86.5h1M102 86.5h1M136 88.5h1M142 88.5h1M137 89.5h1M130 90.5h1M105 92.5h1M119 92.5h1M106 93.5h1M121 97.5h1M122 98.5h1M109 100.5h1"/>
<path stroke="#270300" d="M29 0.5h1M91 0.5h1M210 0.5h1M14 1.5h1M83 1.5h1M100 1.5h1M163 1.5h1M180 1.5h1M14 2.5h1M75 2.5h1M210 2.5h1M67 3.5h1M83 3.5h1M53 4.5h1M67 4.5h1M69 4.5h1M131 4.5h1M125 5.5h1M133 5.5h1M36 6.5h1M109 6.5h1M123 6.5h1M189 6.5h1M195 6.5h1M28 7.5h1M181 7.5h1M14 8.5h1M30 8.5h1M93 8.5h1M109 8.5h1M189 8.5h1M21 9.5h1M101 9.5h1M157 9.5h1M76 10.5h1M78 10.5h1M93 10.5h1M148 10.5h2M197 10.5h1M203 10.5h1M68 11.5h1M156 11.5h2M140 12.5h1M149 12.5h1M202 12.5h1M62 13.5h1M124 13.5h1M30 14.5h1M54 14.5h1M109 14.5h2M22 15.5h1M117 15.5h2M15 16.5h1M31 16.5h1M109 16.5h1M16 17.5h1M22 17.5h2M157 17.5h2M174 17.5h1M85 18.5h1M196 18.5h1M62 19.5h1M79 19.5h1M151 19.5h1M157 19.5h1M126 20.5h2M62 21.5h1M30 22.5h2M126 22.5h1M182 22.5h1M17 23.5h1M32 23.5h1M38 23.5h2M119 23.5h1M174 23.5h2M31 24.5h1M86 24.5h2M23 25.5h1M80 25.5h1M72 26.5h1M86 26.5h1M143 26.5h1M79 27.5h1M136 27.5h1M144 27.5h1M150 27.5h1M48 28.5h1M127 28.5h1M134 28.5h1M56 29.5h1M135 29.5h1M187 29.5h1M23 30.5h1M31 30.5h1M103 30.5h2M19 31.5h2M26 32.5h1M79 33.5h1M81 33.5h1M95 33.5h1M152 33.5h1M176 33.5h1M64 34.5h2M145 34.5h1M151 34.5h1M72 35.5h1M137 35.5h1M143 35.5h1M152 35.5h1M120 36.5h1M144 36.5h1M28 38.5h2M42 38.5h1M121 38.5h1M96 39.5h1M169 39.5h1M81 40.5h1M73 41.5h1M88 41.5h1M152 41.5h1M160 41.5h1M162 41.5h1M168 41.5h2M80 42.5h3M152 42.5h1M42 43.5h1M130 43.5h1M43 44.5h1M121 44.5h1M138 44.5h1M44 45.5h1M129 45.5h1M121 46.5h1M168 47.5h1M82 48.5h1M97 48.5h1M74 49.5h1M90 49.5h2M146 49.5h1M51 50.5h1M138 50.5h1M146 51.5h1M59 52.5h1M138 52.5h2M169 52.5h1M107 53.5h1M130 53.5h1M99 54.5h1M162 54.5h1M169 54.5h1M90 55.5h1M107 55.5h1M59 56.5h1M90 56.5h1M68 57.5h1M53 58.5h1M162 60.5h1M108 61.5h1M99 62.5h1M109 62.5h1M115 62.5h1M91 63.5h1M93 63.5h1M99 63.5h1M155 63.5h1M161 63.5h1M69 64.5h1M76 66.5h2M125 67.5h1M141 67.5h1M155 67.5h1M132 68.5h1M155 68.5h1M70 69.5h1M77 69.5h1M102 70.5h1M108 70.5h1M86 71.5h1M100 71.5h1M155 71.5h1M79 72.5h1M85 73.5h2M134 74.5h1M125 75.5h1M86 76.5h1M87 78.5h1M103 78.5h1M109 78.5h1M111 78.5h1M80 79.5h1M103 79.5h1M94 80.5h1M119 83.5h1M110 84.5h1M94 85.5h1M111 86.5h1M135 87.5h1M127 89.5h1M104 90.5h1M97 91.5h1M119 91.5h2M113 92.5h1M121 92.5h1M99 93.5h1M101 93.5h1M111 93.5h1M118 99.5h1M108 100.5h1"/>
<path stroke="#300300" d="M36 0.5h1M92 0.5h1M115 0.5h1M20 2.5h1M148 2.5h1M172 2.5h1M203 2.5h1M60 3.5h1M69 3.5h1M84 3.5h1M139 3.5h2M59 4.5h1M141 4.5h1M44 5.5h1M116 5.5h1M123 5.5h1M139 5.5h3M195 5.5h1M115 6.5h1M132 6.5h1M22 7.5h1M30 7.5h1M45 7.5h1M100 7.5h2M125 7.5h1M36 8.5h1M165 8.5h1M188 8.5h1M13 9.5h1M77 9.5h1M180 9.5h1M203 9.5h1M9 10.5h1M92 10.5h1M61 11.5h2M196 11.5h1M203 11.5h1M68 12.5h1M70 12.5h1M125 12.5h1M142 12.5h1M61 13.5h1M117 13.5h1M132 13.5h1M141 13.5h1M53 14.5h1M116 14.5h1M124 14.5h1M23 15.5h1M45 15.5h1M173 15.5h2M16 16.5h1M110 16.5h1M78 17.5h1M15 18.5h1M69 18.5h1M71 18.5h1M79 18.5h1M87 18.5h1M151 18.5h1M159 18.5h1M69 19.5h1M77 19.5h1M143 19.5h1M61 20.5h1M71 20.5h1M141 20.5h1M191 20.5h1M196 20.5h1M39 21.5h1M125 21.5h1M40 22.5h1M94 23.5h2M118 23.5h1M12 24.5h2M18 24.5h1M88 25.5h1M175 25.5h1M189 25.5h1M78 26.5h1M166 26.5h1M189 26.5h1M70 27.5h1M152 27.5h1M47 28.5h1M144 28.5h1M182 29.5h1M185 29.5h1M18 30.5h1M41 30.5h1M48 30.5h1M39 31.5h2M95 31.5h1M97 32.5h1M103 32.5h1M160 32.5h1M26 33.5h1M72 33.5h1M96 33.5h1M151 33.5h1M71 34.5h1M143 34.5h1M153 34.5h1M161 34.5h1M26 35.5h1M56 35.5h1M151 35.5h1M121 36.5h1M56 37.5h2M112 37.5h1M175 38.5h1M112 39.5h2M90 40.5h1M105 40.5h1M170 40.5h1M80 41.5h1M90 41.5h1M41 42.5h1M144 42.5h1M160 42.5h1M74 43.5h1M129 43.5h1M65 44.5h2M169 44.5h2M130 45.5h1M97 46.5h1M122 46.5h1M99 47.5h1M114 47.5h1M83 48.5h1M163 48.5h1M167 48.5h1M73 49.5h1M89 49.5h1M153 49.5h1M168 49.5h1M145 50.5h1M153 50.5h1M44 51.5h1M49 51.5h1M74 51.5h1M115 52.5h1M131 53.5h1M162 53.5h1M169 53.5h1M108 54.5h1M92 55.5h1M82 56.5h1M99 56.5h1M155 56.5h2M91 57.5h2M154 57.5h1M161 57.5h1M61 58.5h1M147 59.5h2M116 60.5h1M140 60.5h1M107 61.5h1M156 61.5h1M162 61.5h1M101 62.5h1M162 62.5h1M158 63.5h1M160 63.5h1M77 64.5h1M83 64.5h1M91 64.5h1M133 66.5h1M124 67.5h1M148 67.5h1M70 68.5h1M101 69.5h1M110 69.5h1M124 69.5h2M155 69.5h1M93 70.5h1M148 71.5h1M150 71.5h1M141 73.5h1M79 74.5h1M148 75.5h1M133 76.5h1M103 77.5h1M119 77.5h1M126 77.5h1M93 78.5h1M95 78.5h1M93 79.5h1M102 79.5h1M144 80.5h1M148 80.5h1M126 82.5h1M88 83.5h1M95 83.5h1M141 83.5h1M88 84.5h1M120 84.5h1M102 85.5h1M118 85.5h1M120 85.5h1M97 87.5h1M103 87.5h1M142 87.5h1M127 88.5h1M134 89.5h1M138 89.5h3M121 91.5h1M111 92.5h1M119 93.5h3M127 94.5h1M126 98.5h1"/>
<path stroke="#3a0400" d="M13 0.5h1M116 0.5h1M28 1.5h1M108 1.5h1M156 1.5h1M68 2.5h1M77 2.5h1M147 2.5h1M171 2.5h1M77 3.5h1M163 3.5h2M205 3.5h1M52 4.5h1M133 4.5h1M59 5.5h1M196 5.5h1M108 6.5h1M133 6.5h1M187 6.5h1M38 7.5h1M115 7.5h1M124 7.5h1M187 7.5h1M8 8.5h1M13 8.5h1M28 8.5h1M37 8.5h1M15 10.5h1M69 10.5h1M86 10.5h1M172 10.5h1M78 11.5h1M85 11.5h1M133 11.5h1M142 11.5h1M150 11.5h1M124 12.5h1M126 12.5h1M148 12.5h1M150 12.5h1M199 12.5h1M201 12.5h1M38 13.5h1M29 14.5h1M46 15.5h1M9 16.5h1M14 16.5h1M29 16.5h1M86 16.5h1M189 16.5h2M14 17.5h1M102 17.5h1M150 17.5h1M196 17.5h1M16 18.5h1M61 19.5h1M133 19.5h3M158 19.5h1M46 20.5h2M133 20.5h1M38 21.5h1M54 22.5h2M102 22.5h1M188 23.5h1M11 24.5h1M110 24.5h2M159 24.5h1M24 25.5h1M96 25.5h1M160 25.5h1M64 26.5h1M70 26.5h1M160 26.5h1M167 26.5h1M55 27.5h2M80 27.5h1M189 27.5h1M72 28.5h1M120 28.5h1M184 28.5h1M111 29.5h2M188 29.5h1M127 30.5h2M31 31.5h1M167 31.5h1M89 32.5h1M73 33.5h1M153 33.5h1M161 33.5h1M169 33.5h1M175 33.5h1M26 34.5h1M71 35.5h1M153 35.5h1M137 37.5h1M97 38.5h1M98 39.5h1M168 39.5h1M98 40.5h1M162 40.5h1M74 41.5h1M96 41.5h2M154 41.5h1M137 42.5h1M161 42.5h1M35 43.5h1M153 43.5h1M57 45.5h2M106 45.5h1M98 46.5h1M174 46.5h1M91 47.5h1M107 47.5h1M113 47.5h1M81 48.5h1M99 48.5h1M50 49.5h1M66 49.5h2M81 49.5h1M58 50.5h2M82 50.5h2M66 52.5h1M114 52.5h1M122 54.5h2M100 55.5h1M75 56.5h2M98 56.5h1M100 56.5h1M154 56.5h1M67 57.5h1M132 58.5h1M146 58.5h1M123 59.5h1M139 60.5h1M117 61.5h1M155 62.5h1M84 63.5h1M108 63.5h2M62 65.5h1M66 65.5h1M75 65.5h1M140 65.5h1M132 66.5h1M149 67.5h1M92 70.5h1M94 70.5h1M117 70.5h1M109 71.5h1M75 72.5h1M84 72.5h1M92 72.5h1M147 73.5h1M147 74.5h1M79 75.5h1M79 76.5h1M110 76.5h1M119 76.5h1M134 76.5h1M101 77.5h1M85 78.5h1M83 79.5h1M95 80.5h1M147 80.5h1M134 81.5h1M118 83.5h1M128 83.5h1M112 84.5h1M135 84.5h1M91 86.5h1M110 86.5h1M112 86.5h1M100 93.5h1M112 94.5h1M106 98.5h1M112 98.5h1M115 99.5h1M117 99.5h1"/>
<path stroke="#450700" d="M12 1.5h1M29 1.5h1M93 1.5h1M21 2.5h1M85 2.5h1M13 3.5h2M85 3.5h1M141 3.5h1M149 3.5h1M51 4.5h1M76 4.5h1M149 4.5h1M155 4.5h2M51 5.5h1M68 5.5h2M117 5.5h1M197 5.5h1M60 6.5h1M131 6.5h1M21 7.5h1M173 7.5h1M179 7.5h1M195 7.5h1M15 8.5h1M84 8.5h1M164 8.5h1M196 8.5h1M29 9.5h1M94 9.5h1M21 10.5h1M68 10.5h1M150 10.5h1M158 10.5h1M60 11.5h1M84 11.5h1M132 11.5h1M158 11.5h1M198 11.5h1M46 12.5h1M60 12.5h1M200 12.5h1M116 13.5h1M195 13.5h1M133 14.5h2M181 14.5h1M188 14.5h1M39 15.5h1M93 15.5h2M85 16.5h1M77 17.5h1M87 17.5h1M95 17.5h1M101 17.5h1M159 17.5h1M181 17.5h1M94 18.5h1M142 18.5h1M55 19.5h1M159 19.5h1M196 19.5h1M125 20.5h1M149 20.5h3M189 20.5h1M195 20.5h1M16 21.5h1M63 21.5h1M23 22.5h1M32 22.5h1M188 22.5h1M40 23.5h1M32 24.5h1M104 24.5h1M158 24.5h1M102 25.5h1M150 25.5h2M63 26.5h1M88 26.5h1M142 26.5h1M62 27.5h1M78 27.5h1M134 27.5h1M158 27.5h2M62 28.5h1M71 28.5h1M126 28.5h1M189 28.5h1M136 29.5h1M186 29.5h1M175 30.5h1M41 31.5h1M168 31.5h1M32 32.5h1M159 32.5h1M177 32.5h1M97 33.5h1M88 34.5h2M167 34.5h2M182 34.5h1M33 35.5h1M49 35.5h1M80 35.5h2M135 35.5h1M40 36.5h2M73 36.5h1M145 36.5h1M177 36.5h1M42 37.5h1M50 37.5h1M136 37.5h1M178 37.5h1M182 37.5h1M36 38.5h1M48 38.5h2M96 38.5h1M35 39.5h1M89 39.5h1M80 40.5h1M82 40.5h1M104 40.5h1M170 41.5h1M64 42.5h1M72 42.5h1M138 42.5h1M49 43.5h2M81 43.5h1M136 43.5h1M144 43.5h1M40 44.5h1M172 46.5h2M89 47.5h1M162 47.5h1M106 48.5h1M153 48.5h3M98 49.5h1M147 49.5h1M162 50.5h2M75 51.5h1M123 51.5h1M53 52.5h1M106 53.5h1M164 54.5h1M108 55.5h1M82 57.5h1M146 57.5h1M131 58.5h1M138 58.5h1M154 58.5h1M124 59.5h1M131 61.5h1M92 62.5h1M117 62.5h1M157 62.5h1M107 63.5h1M159 63.5h1M100 64.5h1M141 65.5h1M147 65.5h1M153 65.5h1M147 66.5h1M108 68.5h2M140 68.5h1M118 69.5h1M116 70.5h1M155 70.5h1M101 72.5h1M117 75.5h1M127 75.5h1M109 76.5h1M127 76.5h1M125 77.5h1M110 79.5h1M141 80.5h1M135 81.5h1M127 82.5h1M103 84.5h1M134 84.5h1M127 85.5h1M104 87.5h1M97 90.5h1M126 90.5h1M106 94.5h1M113 94.5h1M127 95.5h1M120 96.5h1M113 97.5h1M120 97.5h1M116 99.5h1"/>
<path stroke="#4f0900" d="M7 0.5h1M14 0.5h1M43 0.5h1M163 0.5h1M178 0.5h1M186 0.5h1M76 1.5h1M85 1.5h1M107 1.5h1M155 1.5h1M12 2.5h1M67 2.5h1M99 2.5h2M59 3.5h1M61 3.5h1M75 4.5h1M37 5.5h1M148 5.5h1M28 6.5h2M43 6.5h1M52 7.5h1M93 7.5h1M85 8.5h1M116 8.5h2M197 8.5h1M30 9.5h1M76 9.5h1M86 9.5h1M181 9.5h1M13 10.5h1M22 10.5h1M70 10.5h1M141 10.5h1M166 10.5h1M173 10.5h1M45 12.5h1M52 12.5h1M77 12.5h1M157 12.5h1M37 13.5h1M60 13.5h1M140 13.5h1M142 13.5h1M189 13.5h2M182 14.5h1M194 14.5h1M15 15.5h1M126 15.5h1M188 15.5h1M38 16.5h1M79 17.5h1M167 17.5h1M14 18.5h1M22 18.5h1M93 18.5h1M141 18.5h1M191 19.5h1M69 20.5h1M119 20.5h1M15 21.5h1M53 21.5h1M133 21.5h1M15 22.5h1M24 22.5h1M103 22.5h1M109 22.5h1M117 22.5h1M167 23.5h1M30 24.5h1M79 24.5h1M88 24.5h1M96 24.5h1M168 25.5h1M182 25.5h2M144 26.5h1M127 27.5h1M40 28.5h1M54 28.5h1M142 28.5h1M63 29.5h1M118 29.5h1M55 30.5h1M176 30.5h1M87 31.5h2M97 31.5h1M119 31.5h1M180 31.5h1M79 32.5h2M112 32.5h1M169 32.5h1M71 33.5h1M182 33.5h1M57 34.5h1M63 34.5h1M87 34.5h1M55 35.5h1M63 35.5h1M128 35.5h2M32 36.5h1M55 36.5h1M72 36.5h1M127 36.5h1M135 36.5h1M64 37.5h1M105 37.5h1M127 37.5h1M181 37.5h1M114 38.5h1M129 38.5h1M40 39.5h2M88 39.5h1M106 39.5h1M120 39.5h1M106 40.5h1M72 41.5h1M98 41.5h1M175 41.5h1M42 42.5h1M57 42.5h1M89 42.5h2M136 42.5h1M162 42.5h1M64 43.5h1M154 43.5h1M73 44.5h1M128 44.5h1M136 44.5h1M145 44.5h1M51 45.5h1M105 45.5h1M115 45.5h1M50 46.5h1M107 46.5h1M115 46.5h1M161 47.5h1M74 48.5h2M73 50.5h1M137 50.5h1M122 51.5h1M129 51.5h1M137 51.5h1M145 51.5h1M155 51.5h1M67 52.5h1M147 52.5h1M124 53.5h1M100 54.5h1M116 54.5h1M114 55.5h2M74 57.5h1M140 57.5h1M66 58.5h1M74 58.5h1M83 58.5h2M130 59.5h1M100 61.5h1M109 61.5h1M132 61.5h1M155 61.5h1M123 62.5h1M85 63.5h1M75 64.5h1M101 64.5h1M148 64.5h2M154 64.5h1M83 65.5h1M92 65.5h2M139 66.5h1M76 67.5h1M116 67.5h2M118 68.5h1M126 68.5h1M148 70.5h1M76 71.5h1M84 71.5h1M108 71.5h1M102 72.5h1M125 74.5h2M140 74.5h1M118 75.5h1M148 76.5h1M101 79.5h1M143 79.5h1M88 81.5h1M88 82.5h1M128 84.5h1M90 86.5h1M97 88.5h1M128 88.5h1M103 90.5h1M119 90.5h1M103 91.5h1M111 91.5h1M126 92.5h1M121 96.5h1"/>
<path stroke="#5a0c00" d="M83 0.5h1M106 0.5h1M164 0.5h1M195 0.5h2M27 1.5h1M75 1.5h1M188 1.5h1M93 2.5h1M165 2.5h1M91 3.5h1M157 3.5h1M209 3.5h1M44 4.5h1M77 4.5h1M123 4.5h2M36 5.5h1M43 5.5h1M38 6.5h1M61 6.5h1M180 6.5h1M201 6.5h1M92 7.5h1M107 7.5h1M172 7.5h1M20 8.5h1M179 8.5h1M109 9.5h1M166 9.5h1M197 9.5h1M196 10.5h1M86 11.5h1M164 11.5h2M52 13.5h1M109 13.5h2M31 14.5h1M39 14.5h1M47 14.5h1M101 14.5h1M108 15.5h1M125 15.5h1M180 15.5h1M195 15.5h1M21 16.5h1M37 16.5h1M95 16.5h1M103 16.5h1M158 16.5h1M30 17.5h1M149 17.5h1M175 17.5h1M182 17.5h1M63 18.5h1M173 18.5h1M190 18.5h1M54 19.5h1M85 19.5h2M53 20.5h1M118 20.5h1M194 20.5h1M40 21.5h1M48 21.5h1M111 21.5h1M117 21.5h1M142 21.5h1M134 22.5h1M22 23.5h1M46 23.5h2M104 23.5h1M112 23.5h1M181 23.5h1M184 23.5h1M39 24.5h1M168 24.5h1M70 25.5h2M152 25.5h1M176 25.5h1M184 25.5h1M168 26.5h1M48 27.5h1M160 27.5h1M184 27.5h1M119 28.5h1M151 28.5h2M182 28.5h1M25 29.5h1M32 29.5h1M41 29.5h1M49 29.5h1M64 29.5h1M126 29.5h1M49 30.5h1M56 30.5h1M27 31.5h1M105 31.5h1M113 31.5h1M120 31.5h1M33 32.5h1M81 32.5h1M105 32.5h1M111 32.5h1M144 33.5h1M177 33.5h1M136 34.5h1M176 34.5h1M79 35.5h1M160 35.5h1M112 36.5h2M182 36.5h1M119 37.5h1M180 37.5h1M106 38.5h1M128 38.5h1M42 39.5h1M114 39.5h1M121 39.5h1M153 40.5h1M174 40.5h1M66 41.5h1M145 41.5h2M35 42.5h1M58 42.5h1M169 42.5h1M72 43.5h1M128 43.5h1M51 44.5h1M59 44.5h1M74 44.5h1M113 44.5h2M120 44.5h1M146 44.5h1M120 45.5h1M123 45.5h1M137 45.5h2M99 46.5h1M81 47.5h2M73 48.5h1M105 48.5h1M107 48.5h1M145 49.5h1M65 50.5h1M90 50.5h1M154 51.5h1M129 52.5h1M146 52.5h1M163 52.5h1M59 53.5h1M116 53.5h1M166 54.5h1M168 54.5h1M83 55.5h2M161 55.5h1M90 57.5h1M139 57.5h1M57 58.5h1M62 59.5h1M75 59.5h2M138 59.5h1M155 59.5h2M125 60.5h1M125 61.5h1M91 62.5h1M83 63.5h1M116 63.5h1M84 66.5h1M124 66.5h2M77 67.5h1M131 67.5h1M100 69.5h1M126 69.5h1M132 69.5h1M110 71.5h1M154 71.5h1M74 72.5h1M93 73.5h2M143 74.5h1M135 75.5h1M102 76.5h1M142 76.5h1M94 77.5h1M117 78.5h2M82 79.5h1M111 79.5h1M102 80.5h1M146 80.5h1M94 83.5h1M120 83.5h1M136 83.5h1M136 84.5h1M126 85.5h1M102 87.5h1M112 91.5h1M127 96.5h1M127 97.5h1M125 98.5h1"/>
<path stroke="#650f00" d="M12 0.5h1M19 0.5h1M37 0.5h1M44 0.5h1M84 0.5h1M98 0.5h1M114 0.5h1M170 0.5h1M36 1.5h1M162 1.5h1M170 1.5h1M187 1.5h1M140 2.5h1M157 2.5h1M131 3.5h1M207 3.5h2M125 4.5h1M67 5.5h1M115 5.5h1M147 5.5h1M188 5.5h1M46 6.5h1M51 6.5h1M181 6.5h1M53 7.5h1M99 7.5h1M123 7.5h1M38 8.5h1M45 8.5h1M99 8.5h1M107 8.5h1M157 8.5h1M171 8.5h1M108 9.5h1M149 9.5h1M158 9.5h1M163 9.5h1M94 10.5h1M100 10.5h1M14 11.5h2M53 11.5h2M125 11.5h1M202 11.5h1M118 12.5h1M156 12.5h1M149 13.5h1M188 13.5h1M22 14.5h1M44 14.5h1M61 14.5h1M102 14.5h1M132 14.5h1M14 15.5h1M21 15.5h1M116 15.5h1M165 15.5h2M191 15.5h1M24 16.5h1M39 16.5h1M117 16.5h1M157 16.5h1M172 16.5h1M175 16.5h1M180 16.5h1M10 17.5h1M31 17.5h1M23 18.5h1M62 18.5h1M143 18.5h1M167 18.5h1M174 18.5h1M87 19.5h1M165 19.5h1M189 19.5h1M78 20.5h1M192 20.5h2M30 21.5h2M45 21.5h1M56 21.5h1M70 21.5h1M110 21.5h1M143 21.5h1M48 22.5h1M125 22.5h1M174 22.5h2M10 23.5h1M87 23.5h1M109 23.5h1M166 23.5h1M173 23.5h1M187 23.5h1M22 24.5h1M173 24.5h1M176 24.5h1M184 24.5h1M18 25.5h1M72 25.5h1M103 25.5h1M143 25.5h1M62 26.5h1M95 26.5h1M135 26.5h1M175 26.5h1M184 26.5h1M54 27.5h1M87 27.5h1M128 27.5h1M39 28.5h1M79 28.5h1M31 29.5h1M46 29.5h1M54 29.5h1M57 29.5h1M104 29.5h1M144 29.5h1M95 30.5h2M110 30.5h1M113 30.5h1M118 30.5h1M47 31.5h2M174 31.5h1M177 31.5h1M31 32.5h1M40 32.5h1M152 32.5h1M104 33.5h1M169 34.5h1M175 34.5h1M177 34.5h1M48 35.5h1M159 35.5h1M161 35.5h1M182 35.5h1M50 36.5h1M152 36.5h1M65 37.5h1M104 37.5h1M179 37.5h1M89 38.5h1M90 39.5h1M161 39.5h1M170 39.5h1M152 40.5h1M65 41.5h1M144 41.5h1M129 42.5h2M168 42.5h1M175 42.5h1M82 43.5h1M122 43.5h1M152 43.5h1M169 43.5h1M175 43.5h1M175 45.5h1M49 46.5h1M129 46.5h2M168 46.5h1M83 47.5h1M115 47.5h1M51 49.5h1M99 49.5h1M81 50.5h1M130 50.5h1M161 50.5h1M65 51.5h1M163 51.5h1M60 52.5h1M107 52.5h1M121 52.5h1M124 52.5h1M137 52.5h1M58 53.5h1M91 54.5h1M130 54.5h1M167 54.5h1M116 55.5h1M154 55.5h2M60 56.5h1M107 56.5h1M147 56.5h2M117 60.5h1M133 60.5h1M155 60.5h2M93 62.5h1M124 62.5h1M161 62.5h1M76 63.5h1M99 64.5h1M147 64.5h1M139 65.5h1M85 66.5h1M154 66.5h1M139 67.5h1M134 68.5h1M141 68.5h1M93 69.5h1M102 69.5h1M149 69.5h1M78 70.5h1M85 70.5h1M118 70.5h1M125 70.5h1M150 70.5h1M151 71.5h1M153 71.5h1M73 72.5h1M100 72.5h1M84 73.5h1M133 73.5h2M143 75.5h1M111 76.5h1M141 76.5h1M93 77.5h1M95 77.5h1M127 77.5h1M81 79.5h1M103 80.5h1M94 81.5h1M136 82.5h1M110 83.5h2M111 87.5h1M136 87.5h1M120 90.5h1M106 97.5h1M112 97.5h1M123 98.5h1"/>
<path stroke="#6f1100" d="M90 0.5h1M109 0.5h1M124 0.5h1M203 0.5h2M22 1.5h1M35 1.5h1M90 1.5h1M101 1.5h1M115 1.5h1M173 1.5h1M204 1.5h1M9 2.5h1M59 2.5h1M69 2.5h1M139 2.5h1M205 2.5h1M52 3.5h1M92 3.5h1M132 3.5h1M45 4.5h1M83 4.5h2M196 4.5h1M202 4.5h1M187 5.5h1M100 6.5h2M140 6.5h2M20 7.5h1M132 7.5h2M165 7.5h1M202 7.5h1M44 8.5h1M94 8.5h1M102 8.5h1M124 8.5h1M174 8.5h1M187 8.5h1M23 9.5h1M28 9.5h1M78 9.5h1M91 9.5h1M148 9.5h1M188 9.5h1M101 10.5h1M140 10.5h1M93 11.5h1M134 11.5h1M76 12.5h1M78 12.5h1M85 12.5h1M117 12.5h1M158 12.5h1M44 13.5h1M47 13.5h1M55 13.5h1M69 13.5h2M62 14.5h1M108 14.5h1M119 14.5h1M180 14.5h1M9 15.5h1M53 15.5h2M103 15.5h1M172 15.5h1M77 16.5h1M87 16.5h1M100 16.5h1M111 16.5h1M118 16.5h1M188 16.5h1M191 16.5h1M195 16.5h1M109 17.5h1M189 17.5h2M61 18.5h1M95 18.5h1M189 18.5h1M191 18.5h1M16 19.5h1M126 19.5h1M166 19.5h1M79 20.5h1M157 20.5h1M61 21.5h1M150 21.5h1M158 21.5h1M95 22.5h1M135 22.5h1M181 22.5h1M55 23.5h1M86 23.5h1M96 23.5h1M126 23.5h2M25 24.5h1M40 24.5h1M78 24.5h1M80 24.5h1M160 24.5h1M181 24.5h1M31 25.5h1M56 26.5h1M94 26.5h1M174 26.5h1M182 26.5h2M47 27.5h1M86 27.5h1M88 27.5h1M167 27.5h1M182 27.5h1M57 28.5h1M80 28.5h1M150 28.5h1M187 28.5h2M18 29.5h1M33 29.5h1M134 29.5h1M143 29.5h1M176 29.5h1M105 30.5h1M121 30.5h1M159 31.5h1M72 32.5h1M151 32.5h1M161 32.5h1M181 32.5h1M103 33.5h1M56 34.5h1M135 34.5h1M137 34.5h1M32 35.5h1M88 35.5h1M127 35.5h1M177 35.5h1M47 36.5h1M58 36.5h1M63 36.5h1M119 36.5h1M143 36.5h1M114 37.5h1M122 37.5h1M56 38.5h1M80 38.5h1M111 38.5h1M119 38.5h1M122 38.5h1M168 38.5h1M80 39.5h1M160 39.5h1M174 39.5h1M73 40.5h2M112 40.5h2M88 42.5h1M170 42.5h1M59 43.5h1M121 43.5h1M170 43.5h1M56 44.5h1M106 44.5h1M144 44.5h1M45 45.5h1M65 45.5h1M97 45.5h1M171 45.5h1M174 45.5h1M89 46.5h1M112 46.5h1M163 47.5h1M146 48.5h1M97 49.5h1M106 49.5h1M138 49.5h1M44 50.5h1M91 50.5h1M131 50.5h1M57 51.5h1M73 51.5h1M115 51.5h1M162 51.5h1M168 52.5h1M99 53.5h1M108 53.5h1M138 53.5h2M90 54.5h1M124 54.5h1M165 54.5h1M82 55.5h1M123 55.5h1M67 56.5h1M74 56.5h1M66 57.5h1M99 57.5h2M138 57.5h1M69 58.5h1M82 58.5h1M130 58.5h1M161 58.5h1M116 59.5h1M133 59.5h1M146 59.5h1M67 60.5h1M107 60.5h2M122 60.5h1M147 60.5h1M99 61.5h1M157 61.5h1M69 63.5h1M115 63.5h1M67 64.5h1M91 65.5h1M132 65.5h1M75 66.5h1M150 66.5h1M134 67.5h1M123 68.5h1M148 68.5h2M133 69.5h1M148 69.5h1M76 70.5h1M84 70.5h1M124 70.5h1M117 71.5h1M72 72.5h1M141 72.5h2M85 74.5h2M110 75.5h1M132 75.5h1M85 76.5h1M143 77.5h1M148 77.5h1M119 78.5h1M126 78.5h1M143 78.5h1M109 79.5h1M93 80.5h1M145 80.5h1M95 81.5h1M118 82.5h1M139 82.5h1M94 84.5h1M96 84.5h1M102 84.5h1M104 84.5h1M128 85.5h1M118 86.5h3M112 87.5h1M104 88.5h1M97 89.5h1M107 93.5h1M111 94.5h1M106 96.5h1M114 98.5h1M124 98.5h1"/>
<path stroke="#7a1400" d="M67 0.5h1M101 0.5h1M123 0.5h1M194 0.5h1M209 0.5h1M19 1.5h1M37 1.5h1M67 1.5h2M98 1.5h1M147 1.5h1M165 1.5h1M178 1.5h1M195 1.5h1M203 1.5h1M28 2.5h1M60 2.5h1M107 2.5h1M149 2.5h1M154 2.5h1M162 2.5h1M179 2.5h2M20 3.5h1M53 3.5h1M133 3.5h1M165 3.5h1M171 3.5h1M206 3.5h1M157 4.5h1M84 5.5h1M92 5.5h1M149 5.5h1M30 6.5h1M85 6.5h1M107 6.5h1M156 6.5h1M179 6.5h1M14 7.5h1M43 7.5h1M46 7.5h1M157 7.5h1M110 8.5h1M115 8.5h1M125 8.5h1M156 8.5h1M182 8.5h1M20 9.5h1M102 9.5h1M117 9.5h1M124 9.5h1M155 9.5h1M171 9.5h1M174 9.5h1M189 9.5h1M196 9.5h1M202 9.5h1M60 10.5h2M116 10.5h1M132 10.5h1M142 10.5h1M163 10.5h1M180 10.5h1M198 10.5h1M22 11.5h1M52 11.5h1M126 11.5h1M201 11.5h1M116 12.5h1M22 13.5h1M29 13.5h1M23 14.5h1M52 14.5h1M141 14.5h1M157 14.5h1M165 14.5h1M85 15.5h2M111 15.5h1M133 15.5h1M157 15.5h1M45 16.5h1M78 16.5h1M142 16.5h1M183 16.5h1M21 17.5h1M70 17.5h1M110 17.5h1M142 17.5h1M151 17.5h1M156 17.5h1M164 17.5h1M195 17.5h1M10 18.5h1M133 18.5h2M195 18.5h1M15 19.5h1M23 19.5h1M46 19.5h1M53 19.5h1M127 19.5h1M15 20.5h1M23 20.5h1M39 20.5h1M77 20.5h1M158 20.5h1M166 20.5h1M71 21.5h1M141 21.5h1M151 21.5h1M182 21.5h1M45 22.5h1M94 22.5h1M112 22.5h1M150 22.5h1M158 22.5h2M48 23.5h1M54 23.5h1M78 23.5h1M101 23.5h1M158 23.5h2M176 23.5h1M19 24.5h1M38 24.5h1M46 24.5h1M55 24.5h1M118 24.5h1M150 24.5h2M165 24.5h1M32 25.5h1M47 25.5h1M55 25.5h1M104 25.5h1M142 25.5h1M157 25.5h1M188 25.5h1M23 26.5h1M47 26.5h1M55 26.5h1M134 26.5h1M188 26.5h1M175 27.5h1M187 27.5h2M46 28.5h1M49 28.5h1M88 28.5h1M118 28.5h1M159 28.5h1M185 28.5h1M79 29.5h2M87 29.5h2M103 29.5h1M26 30.5h1M80 30.5h1M88 30.5h1M135 30.5h1M168 30.5h1M79 31.5h1M110 31.5h1M127 31.5h1M160 31.5h1M41 32.5h1M166 32.5h1M65 33.5h1M143 33.5h1M49 34.5h1M96 34.5h1M89 35.5h1M120 35.5h2M176 35.5h1M34 36.5h1M42 36.5h1M71 36.5h1M80 36.5h2M153 36.5h1M178 36.5h1M31 37.5h1M47 37.5h1M80 37.5h2M111 37.5h1M145 37.5h1M175 37.5h1M50 38.5h1M57 38.5h1M81 38.5h1M169 38.5h1M49 39.5h1M72 39.5h1M81 39.5h1M72 40.5h1M154 40.5h1M173 40.5h1M35 41.5h1M105 41.5h1M137 41.5h1M97 42.5h1M56 43.5h1M67 43.5h1M161 43.5h2M89 44.5h1M175 44.5h1M74 45.5h1M81 45.5h1M90 46.5h1M162 46.5h1M122 47.5h1M145 48.5h1M166 48.5h1M58 49.5h1M106 50.5h2M168 50.5h1M60 51.5h1M68 51.5h1M114 51.5h1M140 51.5h1M168 51.5h1M132 52.5h1M162 52.5h1M98 53.5h1M113 53.5h1M164 53.5h1M92 54.5h1M131 54.5h1M139 54.5h1M122 55.5h1M68 56.5h1M106 56.5h1M108 56.5h1M146 56.5h1M131 57.5h1M160 57.5h1M77 58.5h1M91 58.5h2M123 58.5h2M115 59.5h1M68 60.5h1M76 60.5h1M130 60.5h1M148 60.5h1M157 60.5h1M161 60.5h1M114 61.5h1M122 61.5h1M83 62.5h2M125 62.5h1M132 62.5h1M158 62.5h3M77 63.5h1M117 63.5h1M65 65.5h1M78 65.5h1M116 65.5h2M133 65.5h1M71 66.5h1M109 67.5h1M142 67.5h1M76 68.5h1M101 68.5h1M110 68.5h1M150 69.5h1M86 70.5h1M152 71.5h1M140 73.5h1M109 74.5h1M132 74.5h1M146 74.5h1M101 75.5h1M119 75.5h1M140 75.5h1M101 76.5h1M103 76.5h1M135 76.5h1M133 77.5h2M141 77.5h2M141 78.5h1M148 78.5h1M118 79.5h1M141 79.5h1M110 80.5h1M102 81.5h1M126 81.5h2M119 82.5h1M128 82.5h1M133 82.5h1M102 83.5h1M98 86.5h1M119 87.5h1M103 88.5h1M121 90.5h1M113 91.5h1M125 91.5h1M120 94.5h1M112 95.5h2M120 95.5h1M111 99.5h1"/>
<path stroke="#821901" d="M22 0.5h1M59 0.5h1M68 0.5h1M93 0.5h1M59 1.5h1M82 1.5h1M116 1.5h1M148 1.5h1M209 1.5h1M22 2.5h1M36 2.5h1M51 2.5h2M115 2.5h2M170 2.5h1M209 2.5h1M21 3.5h1M44 3.5h1M93 3.5h1M100 3.5h1M115 3.5h1M124 3.5h1M172 3.5h1M13 4.5h1M21 4.5h1M85 4.5h1M92 4.5h1M115 4.5h1M163 4.5h2M195 4.5h1M21 5.5h1M46 5.5h1M76 5.5h2M85 5.5h1M108 5.5h2M156 5.5h1M189 5.5h1M21 6.5h2M54 6.5h1M59 6.5h1M68 6.5h1M76 6.5h2M84 6.5h1M93 6.5h1M157 6.5h1M8 7.5h1M60 7.5h1M77 7.5h1M102 7.5h1M110 7.5h1M148 7.5h1M164 7.5h1M198 7.5h1M53 8.5h1M60 8.5h1M76 8.5h2M86 8.5h1M91 8.5h1M133 8.5h1M163 8.5h1M195 8.5h1M202 8.5h1M45 9.5h1M52 9.5h1M60 9.5h1M99 9.5h1M116 9.5h1M141 9.5h1M198 9.5h1M45 10.5h1M53 10.5h1M62 10.5h1M109 10.5h1M117 10.5h1M124 10.5h2M133 10.5h1M155 10.5h1M181 10.5h1M189 10.5h1M92 11.5h1M116 11.5h2M124 11.5h1M189 11.5h1M199 11.5h1M15 12.5h1M44 12.5h1M164 12.5h2M14 13.5h2M30 13.5h1M39 13.5h1M148 13.5h1M150 13.5h1M165 13.5h2M85 14.5h2M142 14.5h1M166 14.5h1M173 14.5h2M191 14.5h1M47 15.5h1M100 15.5h1M119 15.5h1M134 15.5h1M142 15.5h1M149 15.5h1M158 15.5h1M46 16.5h1M92 16.5h1M125 16.5h2M134 16.5h1M150 16.5h1M164 16.5h1M167 16.5h1M24 17.5h1M38 17.5h1M54 17.5h1M69 17.5h1M71 17.5h1M103 17.5h1M117 17.5h1M141 17.5h1M39 18.5h1M101 18.5h2M110 18.5h1M126 18.5h1M175 18.5h1M47 19.5h1M118 19.5h1M125 19.5h1M182 19.5h1M192 19.5h1M194 19.5h2M16 20.5h1M38 20.5h1M45 20.5h1M86 20.5h1M110 20.5h2M117 20.5h1M159 20.5h1M23 21.5h1M32 21.5h1M78 21.5h1M87 21.5h1M103 21.5h1M159 21.5h1M183 21.5h1M22 22.5h1M56 22.5h1M62 22.5h1M87 22.5h1M120 22.5h1M167 22.5h1M25 23.5h1M63 23.5h1M150 23.5h1M47 24.5h1M62 24.5h1M71 24.5h1M188 24.5h1M110 25.5h1M165 25.5h1M24 26.5h1M32 26.5h1M40 26.5h1M48 26.5h1M96 26.5h1M136 26.5h1M176 26.5h1M40 27.5h1M119 27.5h1M126 27.5h1M166 27.5h1M31 28.5h1M70 28.5h1M111 28.5h1M168 28.5h1M175 28.5h1M186 28.5h1M71 29.5h1M96 29.5h1M110 29.5h1M129 29.5h1M167 29.5h1M175 29.5h1M46 30.5h1M64 30.5h1M102 30.5h1M126 30.5h1M28 31.5h1M55 31.5h1M80 31.5h1M89 31.5h1M128 31.5h1M151 31.5h1M169 31.5h1M47 32.5h1M71 32.5h1M120 32.5h1M174 32.5h1M32 33.5h1M41 33.5h1M48 33.5h1M64 33.5h1M105 33.5h1M111 33.5h2M41 34.5h1M40 35.5h2M105 35.5h1M88 36.5h1M130 36.5h1M168 36.5h1M175 36.5h1M180 36.5h1M58 37.5h1M88 37.5h1M96 37.5h1M130 37.5h1M135 37.5h1M144 37.5h1M72 38.5h1M88 38.5h1M98 38.5h1M152 38.5h1M48 39.5h1M65 39.5h1M73 39.5h1M152 39.5h1M35 40.5h1M41 40.5h1M65 40.5h1M137 40.5h1M41 41.5h1M58 41.5h1M64 41.5h1M104 41.5h1M106 41.5h1M121 41.5h1M49 42.5h2M75 42.5h1M105 42.5h1M114 42.5h1M75 43.5h1M80 43.5h1M90 43.5h1M105 43.5h1M113 43.5h1M48 44.5h1M64 44.5h1M81 44.5h1M90 44.5h1M98 44.5h1M105 44.5h1M131 44.5h1M153 44.5h1M66 45.5h1M73 45.5h1M82 45.5h1M90 45.5h1M98 45.5h1M112 45.5h1M128 45.5h1M145 45.5h1M153 45.5h1M162 45.5h1M44 46.5h1M51 46.5h1M82 46.5h1M104 46.5h1M123 46.5h1M145 46.5h1M153 46.5h1M161 46.5h1M50 47.5h1M121 47.5h1M146 47.5h1M153 47.5h2M114 48.5h1M122 48.5h1M138 48.5h1M59 49.5h1M65 49.5h1M114 49.5h1M122 49.5h1M139 49.5h1M68 50.5h1M98 50.5h1M48 51.5h1M82 51.5h2M90 51.5h1M106 51.5h2M153 51.5h1M74 52.5h2M106 52.5h1M113 52.5h1M154 52.5h1M66 53.5h2M121 53.5h1M132 53.5h1M155 53.5h1M168 53.5h1M83 54.5h1M75 55.5h1M130 55.5h2M139 55.5h1M131 56.5h1M139 56.5h1M107 57.5h1M123 57.5h1M157 57.5h1M107 58.5h1M115 58.5h2M157 58.5h1M66 59.5h1M69 59.5h1M83 59.5h2M108 59.5h1M125 59.5h1M141 59.5h1M161 59.5h1M84 60.5h1M100 60.5h1M138 60.5h1M76 61.5h1M83 61.5h1M101 61.5h1M139 61.5h1M147 61.5h1M161 61.5h1M76 62.5h1M147 62.5h1M123 63.5h1M140 63.5h1M148 63.5h1M108 64.5h1M116 64.5h2M141 64.5h1M100 65.5h2M150 65.5h1M117 66.5h1M131 66.5h1M142 66.5h1M84 67.5h1M126 67.5h1M147 67.5h1M150 67.5h1M154 67.5h1M84 68.5h1M92 68.5h2M100 68.5h1M150 68.5h1M154 68.5h1M126 70.5h1M118 71.5h1M125 71.5h1M133 71.5h1M109 72.5h1M126 72.5h1M117 73.5h2M125 73.5h2M94 74.5h1M101 74.5h1M117 74.5h2M102 75.5h1M109 75.5h1M94 76.5h1M143 76.5h1M85 77.5h1M87 77.5h1M134 78.5h1M148 79.5h1M111 80.5h1M127 80.5h1M134 80.5h1M110 81.5h2M119 81.5h1M95 82.5h1M102 82.5h2M110 82.5h2M103 83.5h1M133 83.5h1M136 85.5h1M110 87.5h1M111 88.5h1M119 88.5h1M112 89.5h1M119 89.5h2M129 89.5h1M105 91.5h1M108 93.5h1M121 94.5h1M106 95.5h1M121 95.5h1M119 98.5h1"/>
<path stroke="#8b1e02" d="M45 0.5h1M51 0.5h2M60 0.5h1M75 0.5h2M131 0.5h2M148 0.5h1M173 0.5h1M43 1.5h1M51 1.5h1M60 1.5h1M77 1.5h1M124 1.5h1M132 1.5h1M140 1.5h1M196 1.5h1M29 2.5h1M44 2.5h1M61 2.5h1M90 2.5h1M101 2.5h1M108 2.5h1M123 2.5h1M173 2.5h1M187 2.5h1M196 2.5h1M208 2.5h1M8 3.5h1M12 3.5h1M37 3.5h1M45 3.5h1M51 3.5h1M99 3.5h1M108 3.5h1M116 3.5h1M123 3.5h1M154 3.5h1M179 3.5h1M188 3.5h1M195 3.5h1M14 4.5h1M29 4.5h1M37 4.5h1M43 4.5h1M93 4.5h1M108 4.5h1M116 4.5h1M180 4.5h1M188 4.5h1M13 5.5h1M29 5.5h1M54 5.5h1M75 5.5h1M93 5.5h1M100 5.5h1M157 5.5h1M180 5.5h1M92 6.5h1M118 6.5h1M126 6.5h1M148 6.5h2M164 6.5h1M173 6.5h1M198 6.5h1M13 7.5h1M61 7.5h1M84 7.5h2M118 7.5h1M140 7.5h1M149 7.5h1M156 7.5h1M171 7.5h1M23 8.5h1M61 8.5h1M132 8.5h1M140 8.5h1M148 8.5h2M198 8.5h1M36 9.5h2M61 9.5h1M68 9.5h2M125 9.5h1M133 9.5h1M29 10.5h2M108 10.5h1M201 10.5h2M21 11.5h1M45 11.5h2M94 11.5h1M109 11.5h1M118 11.5h1M166 11.5h1M180 11.5h1M14 12.5h1M22 12.5h1M37 12.5h2M86 12.5h1M93 12.5h2M173 12.5h1M189 12.5h1M21 13.5h1M68 13.5h1M86 13.5h1M94 13.5h1M102 13.5h1M108 13.5h1M156 13.5h2M164 13.5h1M173 13.5h1M181 13.5h1M14 14.5h2M55 14.5h1M69 14.5h1M93 14.5h2M111 14.5h1M127 14.5h1M149 14.5h1M158 14.5h1M16 15.5h1M77 15.5h2M95 15.5h1M124 15.5h1M150 15.5h1M175 15.5h1M183 15.5h1M194 15.5h1M53 16.5h1M133 16.5h1M141 16.5h1M149 16.5h1M29 17.5h1M39 17.5h1M84 17.5h1M118 17.5h1M125 17.5h2M133 17.5h1M172 17.5h1M191 17.5h1M38 18.5h1M47 18.5h1M54 18.5h1M109 18.5h1M117 18.5h1M125 18.5h1M135 18.5h1M181 18.5h1M194 18.5h1M30 19.5h2M39 19.5h1M94 19.5h2M102 19.5h1M110 19.5h1M167 19.5h1M174 19.5h1M181 19.5h1M193 19.5h1M22 20.5h1M30 20.5h2M48 20.5h1M56 20.5h1M102 20.5h1M24 21.5h1M79 21.5h1M94 21.5h2M102 21.5h1M109 21.5h1M128 21.5h1M166 21.5h2M175 21.5h1M63 22.5h1M70 22.5h1M78 22.5h1M142 22.5h2M151 22.5h1M184 22.5h1M14 23.5h1M70 23.5h1M79 23.5h1M117 23.5h1M120 23.5h1M151 23.5h1M54 24.5h1M63 24.5h1M70 24.5h1M93 24.5h1M112 24.5h1M119 24.5h1M126 24.5h1M135 24.5h1M142 24.5h1M56 25.5h1M62 25.5h3M111 25.5h1M126 25.5h1M135 25.5h1M144 25.5h1M173 25.5h1M31 26.5h1M39 26.5h1M110 26.5h2M119 26.5h1M127 26.5h1M187 26.5h1M23 27.5h1M39 27.5h1M46 27.5h1M95 27.5h1M103 27.5h1M120 27.5h1M168 27.5h1M174 27.5h1M185 27.5h1M18 28.5h1M32 28.5h1M65 28.5h1M96 28.5h1M112 28.5h1M174 28.5h1M176 28.5h1M23 29.5h1M95 29.5h1M121 29.5h1M151 29.5h1M160 29.5h1M71 30.5h1M79 30.5h1M87 30.5h1M136 30.5h1M143 30.5h1M151 30.5h1M160 30.5h1M167 30.5h1M181 30.5h1M49 31.5h1M63 31.5h1M94 31.5h1M102 31.5h1M136 31.5h1M144 31.5h1M152 31.5h1M39 32.5h1M48 32.5h2M94 32.5h1M113 32.5h1M119 32.5h1M128 32.5h1M153 32.5h1M33 33.5h1M40 33.5h1M49 33.5h1M128 33.5h1M136 33.5h1M145 33.5h1M33 34.5h1M48 34.5h1M55 34.5h1M95 34.5h1M97 34.5h1M104 34.5h1M112 34.5h1M128 34.5h2M58 35.5h1M74 35.5h1M87 35.5h1M112 35.5h2M169 35.5h1M175 35.5h1M180 35.5h2M89 36.5h1M96 36.5h1M105 36.5h1M151 36.5h1M160 36.5h2M169 36.5h1M181 36.5h1M27 37.5h1M39 37.5h1M55 37.5h1M72 37.5h2M89 37.5h1M97 37.5h1M152 37.5h2M160 37.5h1M169 37.5h1M64 38.5h1M73 38.5h1M136 38.5h1M161 38.5h1M56 39.5h1M64 39.5h1M82 39.5h1M103 39.5h1M122 39.5h1M145 39.5h1M153 39.5h1M42 40.5h1M49 40.5h1M114 40.5h1M128 40.5h1M145 40.5h1M42 41.5h1M49 41.5h2M138 41.5h1M98 42.5h1M106 42.5h1M113 42.5h1M121 42.5h2M43 43.5h1M48 43.5h1M97 43.5h2M106 43.5h1M114 43.5h1M82 44.5h1M123 44.5h1M139 44.5h1M154 44.5h1M161 44.5h2M174 44.5h1M107 45.5h1M131 45.5h1M146 45.5h1M154 45.5h1M161 45.5h1M168 45.5h1M58 46.5h1M73 46.5h2M81 46.5h1M120 46.5h1M154 46.5h1M65 47.5h1M74 47.5h2M138 47.5h1M145 47.5h1M113 48.5h1M115 48.5h1M147 48.5h1M107 49.5h1M123 49.5h1M130 49.5h1M137 49.5h1M89 50.5h1M114 50.5h2M122 50.5h2M148 50.5h1M91 51.5h1M98 51.5h1M121 51.5h1M132 51.5h1M57 52.5h1M82 52.5h1M90 52.5h1M98 52.5h2M116 52.5h1M140 52.5h1M145 52.5h1M155 52.5h1M75 53.5h1M83 53.5h1M100 53.5h1M129 53.5h1M154 53.5h1M59 54.5h1M82 54.5h1M113 54.5h1M147 54.5h1M154 54.5h2M138 55.5h1M156 55.5h1M115 56.5h2M123 56.5h1M138 56.5h1M58 57.5h1M98 57.5h1M115 57.5h2M132 57.5h1M56 58.5h1M100 58.5h1M141 58.5h1M91 59.5h1M100 59.5h1M122 59.5h1M149 59.5h1M154 59.5h1M141 60.5h1M67 61.5h1M75 61.5h1M84 61.5h1M140 61.5h1M75 62.5h1M85 62.5h1M131 62.5h1M140 62.5h1M75 63.5h1M124 63.5h1M147 63.5h1M109 64.5h1M124 64.5h2M139 64.5h2M64 65.5h1M86 65.5h1M125 65.5h1M78 66.5h1M92 66.5h2M100 66.5h1M108 66.5h1M85 67.5h1M92 67.5h1M108 67.5h1M123 67.5h1M77 68.5h1M115 68.5h1M131 68.5h1M76 69.5h1M78 69.5h1M92 69.5h1M94 69.5h1M134 69.5h1M132 70.5h2M141 70.5h1M152 70.5h1M116 71.5h1M87 72.5h1M110 72.5h1M117 72.5h1M125 72.5h1M133 72.5h2M80 73.5h1M101 73.5h2M109 73.5h1M132 73.5h1M143 73.5h1M102 74.5h1M110 74.5h1M135 74.5h1M93 75.5h1M124 75.5h1M124 76.5h1M125 78.5h1M96 79.5h1M127 79.5h1M134 79.5h2M135 80.5h1M103 81.5h1M133 81.5h1M94 82.5h1M125 83.5h1M141 84.5h1M134 85.5h2M127 86.5h1M135 86.5h1M120 87.5h1M128 87.5h1M112 88.5h1M120 88.5h1M137 88.5h1M103 89.5h2M133 89.5h1M111 90.5h2M102 92.5h1M113 96.5h1"/>
<path stroke="#932303" d="M139 0.5h2M155 0.5h2M162 0.5h1M181 0.5h1M202 0.5h1M205 0.5h1M44 1.5h1M52 1.5h1M109 1.5h1M123 1.5h1M139 1.5h1M181 1.5h1M186 1.5h1M205 1.5h1M208 1.5h1M82 2.5h1M124 2.5h1M141 2.5h1M188 2.5h1M195 2.5h1M29 3.5h1M36 3.5h1M107 3.5h1M146 3.5h1M180 3.5h1M187 3.5h1M196 3.5h1M20 4.5h1M28 4.5h1M62 4.5h1M100 4.5h1M107 4.5h1M117 4.5h1M172 4.5h1M187 4.5h1M197 4.5h1M14 5.5h1M22 5.5h1M28 5.5h1M38 5.5h1M83 5.5h1M101 5.5h1M107 5.5h1M155 5.5h1M164 5.5h2M171 5.5h2M179 5.5h1M201 5.5h1M8 6.5h1M14 6.5h1M69 6.5h1M139 6.5h1M172 6.5h1M15 7.5h1M68 7.5h1M131 7.5h1M141 7.5h1M190 7.5h1M46 8.5h1M52 8.5h1M118 8.5h1M141 8.5h1M190 8.5h1M44 9.5h1M53 9.5h1M83 9.5h1M132 9.5h1M179 9.5h1M23 10.5h1M38 10.5h1M46 10.5h1M52 10.5h1M83 10.5h1M174 10.5h1M188 10.5h1M29 11.5h2M100 11.5h2M108 11.5h1M172 11.5h2M188 11.5h1M200 11.5h1M23 12.5h1M30 12.5h1M55 12.5h1M84 12.5h1M100 12.5h1M102 12.5h1M109 12.5h1M166 12.5h1M172 12.5h1M180 12.5h2M188 12.5h1M77 13.5h1M85 13.5h1M93 13.5h1M101 13.5h1M119 13.5h1M127 13.5h1M158 13.5h1M180 13.5h1M182 13.5h1M21 14.5h1M36 14.5h1M100 14.5h1M150 14.5h1M61 15.5h1M69 15.5h2M141 15.5h1M164 15.5h1M47 16.5h1M54 16.5h1M108 16.5h1M159 16.5h1M194 16.5h1M46 17.5h2M53 17.5h1M62 17.5h1M92 17.5h1M134 17.5h1M194 17.5h1M24 18.5h1M30 18.5h2M45 18.5h2M53 18.5h1M55 18.5h1M118 18.5h1M156 18.5h1M182 18.5h1M22 19.5h1M38 19.5h1M93 19.5h1M119 19.5h1M95 20.5h1M103 20.5h1M167 20.5h1M173 20.5h3M181 20.5h3M86 21.5h1M149 21.5h1M174 21.5h1M17 22.5h1M53 22.5h1M71 22.5h1M79 22.5h1M86 22.5h1M101 22.5h1M128 22.5h1M133 22.5h1M166 22.5h1M187 22.5h1M62 23.5h1M71 23.5h1M134 23.5h2M142 23.5h1M48 24.5h1M101 24.5h1M127 24.5h1M134 24.5h1M25 25.5h1M39 25.5h2M48 25.5h1M54 25.5h1M118 25.5h2M127 25.5h1M54 26.5h1M103 26.5h1M126 26.5h1M128 26.5h1M185 26.5h1M32 27.5h1M57 27.5h1M65 27.5h1M73 27.5h1M94 27.5h1M96 27.5h1M111 27.5h2M186 27.5h1M23 28.5h1M25 28.5h1M78 28.5h1M87 28.5h1M103 28.5h2M110 28.5h1M167 28.5h1M62 29.5h1M72 29.5h1M142 29.5h1M152 29.5h1M159 29.5h1M168 29.5h1M63 30.5h1M72 30.5h1M152 30.5h1M159 30.5h1M174 30.5h1M177 30.5h1M56 31.5h1M71 31.5h1M121 31.5h1M143 31.5h1M166 31.5h1M56 32.5h1M63 32.5h2M135 32.5h1M143 32.5h1M47 33.5h1M55 33.5h2M63 33.5h1M119 33.5h1M127 33.5h1M158 33.5h1M166 33.5h1M32 34.5h1M40 34.5h1M74 34.5h1M111 34.5h1M119 34.5h2M127 34.5h1M47 35.5h1M50 35.5h1M66 35.5h1M96 35.5h1M119 35.5h1M168 35.5h1M66 36.5h1M97 36.5h1M104 36.5h1M111 36.5h1M138 36.5h1M179 36.5h1M161 37.5h1M39 38.5h1M65 38.5h1M103 38.5h1M137 38.5h1M145 38.5h1M160 38.5h1M57 39.5h1M95 39.5h1M111 39.5h1M128 39.5h2M136 39.5h1M40 40.5h1M48 40.5h1M50 40.5h1M57 40.5h1M120 40.5h2M129 40.5h1M144 40.5h1M167 40.5h1M57 41.5h1M83 41.5h1M112 41.5h2M128 41.5h1M136 41.5h1M56 42.5h1M67 42.5h1M96 42.5h1M128 42.5h1M89 43.5h1M120 43.5h1M139 43.5h1M160 43.5h1M36 44.5h1M67 44.5h1M97 44.5h1M112 44.5h1M115 44.5h1M168 44.5h1M171 44.5h1M59 45.5h1M89 45.5h1M173 45.5h1M137 46.5h2M146 46.5h1M58 47.5h1M73 47.5h1M123 47.5h1M129 47.5h2M50 48.5h1M66 48.5h2M123 48.5h1M129 48.5h2M137 48.5h1M44 49.5h1M76 49.5h1M84 49.5h1M113 49.5h1M115 49.5h1M131 49.5h1M57 50.5h1M76 50.5h1M99 50.5h1M113 50.5h1M129 50.5h1M99 51.5h1M148 51.5h1M161 51.5h1M65 52.5h1M68 52.5h1M91 52.5h1M164 52.5h1M167 52.5h1M60 53.5h1M74 53.5h1M90 53.5h1M146 53.5h2M167 53.5h1M58 54.5h1M67 54.5h1M74 54.5h1M138 54.5h1M146 54.5h1M74 55.5h1M124 55.5h1M146 55.5h2M66 56.5h1M114 56.5h1M122 56.5h1M132 56.5h1M160 56.5h1M77 57.5h1M108 57.5h1M130 57.5h1M108 58.5h1M149 58.5h1M74 59.5h1M77 59.5h1M99 59.5h1M107 59.5h1M157 59.5h1M75 60.5h1M83 60.5h1M91 60.5h1M99 60.5h1M109 60.5h1M114 60.5h1M160 60.5h1M68 61.5h1M91 61.5h2M133 61.5h1M148 61.5h1M160 61.5h1M67 62.5h1M69 62.5h1M77 62.5h1M148 62.5h1M67 63.5h1M125 63.5h1M132 63.5h2M107 64.5h1M131 64.5h2M63 65.5h1M108 65.5h2M124 65.5h1M101 66.5h1M109 66.5h1M116 66.5h1M153 66.5h1M93 67.5h1M100 67.5h2M118 67.5h1M85 68.5h1M84 69.5h2M115 69.5h1M140 69.5h2M154 69.5h1M140 70.5h1M151 70.5h1M154 70.5h1M71 71.5h1M134 71.5h1M80 72.5h1M108 72.5h1M118 72.5h1M87 73.5h1M92 73.5h1M110 73.5h1M146 73.5h1M93 74.5h1M85 75.5h2M94 75.5h1M93 76.5h1M108 77.5h1M127 78.5h1M89 79.5h1M119 79.5h1M125 79.5h2M101 80.5h1M118 80.5h2M126 80.5h1M118 81.5h1M125 82.5h1M112 83.5h1M125 84.5h1M99 86.5h1M126 86.5h1M128 86.5h1M134 86.5h1M136 86.5h1M127 87.5h1M134 88.5h1M111 89.5h1M119 94.5h1M112 96.5h1"/>
<path stroke="#9b2804" d="M85 0.5h1M122 0.5h1M147 0.5h1M189 0.5h1M131 1.5h1M154 1.5h1M157 1.5h1M202 1.5h1M207 1.5h1M27 2.5h1M37 2.5h1M43 2.5h1M131 2.5h2M146 2.5h1M28 3.5h1M43 3.5h1M66 3.5h1M101 3.5h1M162 3.5h1M202 3.5h1M36 4.5h1M91 4.5h1M99 4.5h1M109 4.5h1M171 4.5h1M179 4.5h1M91 5.5h1M99 5.5h1M163 5.5h1M13 6.5h1M155 6.5h1M163 6.5h1M165 6.5h1M69 7.5h1M76 7.5h1M91 7.5h1M94 7.5h1M126 7.5h1M155 7.5h1M163 7.5h1M182 7.5h1M68 8.5h2M155 8.5h1M166 8.5h1M38 9.5h1M46 9.5h1M110 9.5h1M140 9.5h1M150 9.5h1M201 9.5h1M37 10.5h1M54 10.5h1M102 10.5h1M118 10.5h1M199 10.5h1M13 11.5h1M37 11.5h2M44 11.5h1M102 11.5h1M110 11.5h1M155 11.5h1M181 11.5h1M21 12.5h1M29 12.5h1M63 12.5h1M92 12.5h1M101 12.5h1M108 12.5h1M110 12.5h1M190 12.5h1M23 13.5h1M78 13.5h1M92 13.5h1M135 13.5h1M9 14.5h1M60 14.5h1M70 14.5h1M77 14.5h2M140 14.5h1M24 15.5h1M36 15.5h1M62 15.5h1M92 15.5h1M61 16.5h2M69 16.5h2M119 16.5h1M37 17.5h1M45 17.5h1M61 17.5h1M111 17.5h1M143 17.5h1M183 17.5h1M103 18.5h1M148 18.5h1M164 18.5h1M192 18.5h1M14 19.5h1M101 19.5h1M109 19.5h1M111 19.5h1M117 19.5h1M173 19.5h1M175 19.5h1M87 20.5h1M94 20.5h1M109 20.5h1M22 21.5h1M120 21.5h1M173 21.5h1M181 21.5h1M188 21.5h1M37 22.5h1M104 22.5h1M157 22.5h1M173 22.5h1M56 23.5h1M143 23.5h1M168 23.5h1M85 24.5h1M109 24.5h1M143 24.5h1M187 24.5h1M30 25.5h1M46 25.5h1M134 25.5h1M46 26.5h1M102 26.5h1M149 26.5h1M157 26.5h1M24 27.5h1M31 27.5h1M104 27.5h1M118 27.5h1M176 27.5h1M41 28.5h1M95 28.5h1M129 28.5h1M158 28.5h1M160 28.5h1M38 29.5h1M113 29.5h1M174 29.5h1M129 30.5h1M144 30.5h1M64 31.5h1M72 31.5h1M81 31.5h1M135 31.5h1M55 32.5h1M73 32.5h1M86 32.5h1M127 32.5h1M136 32.5h1M144 32.5h1M57 33.5h1M113 33.5h1M120 33.5h2M135 33.5h1M181 33.5h1M47 34.5h1M103 34.5h1M105 34.5h1M113 34.5h1M121 34.5h1M181 34.5h1M97 35.5h1M104 35.5h1M167 35.5h1M178 35.5h1M35 37.5h1M106 37.5h1M168 37.5h1M58 38.5h1M90 38.5h1M130 38.5h1M144 38.5h1M153 38.5h1M50 39.5h1M66 39.5h1M137 39.5h1M144 39.5h1M162 39.5h1M58 40.5h1M64 40.5h1M66 40.5h1M87 40.5h1M122 40.5h1M136 40.5h1M159 40.5h1M75 41.5h1M114 41.5h1M120 41.5h1M122 41.5h1M129 41.5h1M159 41.5h1M51 43.5h1M88 43.5h1M168 43.5h1M39 44.5h1M48 45.5h1M104 45.5h1M172 45.5h1M57 46.5h1M65 46.5h3M83 46.5h1M91 46.5h1M51 47.5h1M66 47.5h1M96 47.5h1M104 47.5h1M137 47.5h1M51 48.5h1M58 48.5h2M65 48.5h1M121 48.5h1M105 49.5h1M164 49.5h1M167 49.5h1M60 50.5h1M97 50.5h1M105 50.5h1M121 50.5h1M140 50.5h1M47 51.5h1M76 51.5h1M83 52.5h1M108 52.5h1M161 52.5h1M82 53.5h1M91 53.5h1M161 53.5h1M60 54.5h1M66 54.5h1M75 54.5h1M105 54.5h1M121 54.5h1M132 54.5h1M59 55.5h2M67 55.5h1M76 55.5h1M148 55.5h1M124 56.5h1M130 56.5h1M140 56.5h1M53 57.5h1M114 57.5h1M124 57.5h1M149 57.5h1M99 58.5h1M133 58.5h1M160 58.5h1M92 59.5h1M160 59.5h1M92 60.5h1M93 61.5h1M159 61.5h1M68 62.5h1M114 62.5h1M139 62.5h1M131 63.5h1M139 63.5h1M149 63.5h1M115 64.5h1M123 64.5h1M133 64.5h1M131 65.5h1M83 66.5h1M123 66.5h1M134 66.5h1M115 67.5h1M153 67.5h1M142 68.5h1M153 68.5h1M107 69.5h1M153 69.5h1M134 70.5h1M153 70.5h1M126 71.5h1M132 71.5h1M140 71.5h3M95 72.5h1M140 72.5h1M100 73.5h1M124 74.5h1M127 74.5h1M116 76.5h1M132 76.5h1M116 77.5h1M104 78.5h1M133 78.5h1M104 79.5h1M117 79.5h1M144 79.5h1M140 81.5h1M104 83.5h1M117 84.5h1M93 85.5h1M97 85.5h1M105 86.5h1M118 87.5h1M134 87.5h1M102 88.5h1M141 88.5h1M113 90.5h1M122 97.5h1"/>
<path stroke="#a42d05" d="M61 0.5h1M82 0.5h1M208 0.5h1M106 1.5h1M35 2.5h1M53 2.5h1M74 2.5h1M98 2.5h1M202 2.5h1M206 2.5h2M22 3.5h1M82 3.5h1M117 3.5h1M125 3.5h1M22 4.5h1M54 4.5h1M101 4.5h1M138 4.5h1M165 4.5h1M189 4.5h1M20 5.5h1M62 5.5h1M173 5.5h1M181 5.5h1M20 6.5h1M35 6.5h1M83 6.5h1M91 6.5h1M99 6.5h1M110 6.5h1M147 6.5h1M171 6.5h1M190 6.5h1M23 7.5h1M35 7.5h1M54 7.5h1M201 7.5h1M78 8.5h1M123 8.5h1M201 8.5h1M9 9.5h1M70 9.5h1M126 9.5h1M182 9.5h1M36 10.5h1M44 10.5h1M91 10.5h1M126 10.5h1M147 10.5h1M171 10.5h1M200 10.5h1M23 11.5h1M147 11.5h1M174 11.5h1M195 11.5h1M174 12.5h1M195 12.5h1M63 13.5h1M84 13.5h1M172 13.5h1M174 13.5h1M92 14.5h1M164 14.5h1M172 14.5h1M44 15.5h1M132 15.5h1M193 15.5h1M116 16.5h1M11 17.5h1M55 17.5h1M63 17.5h1M100 17.5h1M180 17.5h1M37 18.5h1M76 18.5h1M111 18.5h1M119 18.5h1M127 18.5h1M193 18.5h1M24 19.5h1M72 19.5h1M103 19.5h1M148 19.5h1M156 19.5h1M24 20.5h1M40 20.5h1M64 20.5h1M93 20.5h1M128 20.5h1M136 20.5h1M165 20.5h1M37 21.5h1M157 21.5h1M165 21.5h1M10 22.5h1M165 22.5h1M37 23.5h1M88 23.5h1M93 23.5h1M165 23.5h1M56 24.5h1M72 24.5h1M152 24.5h1M157 24.5h1M22 25.5h1M38 25.5h1M85 25.5h1M181 25.5h1M187 25.5h1M18 26.5h1M73 26.5h1M81 26.5h1M104 26.5h1M118 26.5h1M120 26.5h1M186 26.5h1M18 27.5h1M25 27.5h1M102 27.5h1M110 27.5h1M94 28.5h1M137 28.5h1M102 29.5h1M22 30.5h1M38 30.5h1M54 30.5h1M57 30.5h1M57 31.5h1M118 31.5h1M161 31.5h1M57 32.5h1M102 32.5h1M180 32.5h1M82 33.5h1M137 33.5h1M174 33.5h1M180 33.5h1M82 34.5h1M180 34.5h1M111 35.5h1M179 35.5h1M79 36.5h1M159 36.5h1M167 36.5h1M66 37.5h1M127 38.5h1M58 39.5h1M74 39.5h1M87 39.5h1M167 39.5h1M56 40.5h1M146 40.5h1M130 41.5h1M167 41.5h1M174 41.5h1M83 42.5h1M112 42.5h1M120 42.5h1M147 42.5h1M171 43.5h1M174 43.5h1M38 44.5h1M72 44.5h1M173 44.5h1M99 45.5h1M136 45.5h1M59 46.5h1M75 46.5h1M131 46.5h1M49 47.5h1M112 47.5h1M155 47.5h1M49 48.5h1M139 48.5h1M160 48.5h1M121 49.5h1M129 49.5h1M49 50.5h1M52 50.5h1M156 50.5h1M167 50.5h1M45 51.5h1M81 51.5h1M113 51.5h1M167 51.5h1M54 52.5h1M148 52.5h1M105 53.5h1M140 53.5h1M165 53.5h2M76 54.5h1M140 54.5h1M161 54.5h1M58 55.5h1M66 55.5h1M68 55.5h1M97 55.5h1M132 55.5h1M69 57.5h1M85 57.5h1M122 57.5h1M55 58.5h1M90 58.5h1M122 58.5h1M117 59.5h1M69 60.5h1M146 60.5h1M154 60.5h1M77 61.5h1M85 61.5h1M130 61.5h1M141 61.5h1M158 61.5h1M106 62.5h1M133 62.5h1M141 62.5h1M149 62.5h1M141 63.5h1M62 64.5h1M78 64.5h1M71 65.5h1M99 65.5h1M115 65.5h1M75 67.5h1M78 68.5h1M94 68.5h1M102 68.5h1M139 68.5h1M123 69.5h1M142 69.5h1M151 69.5h2M142 70.5h1M87 71.5h1M95 71.5h1M124 71.5h1M116 72.5h1M124 72.5h1M132 72.5h1M147 72.5h1M111 75.5h1M147 75.5h1M95 76.5h1M147 76.5h1M135 77.5h1M80 78.5h1M135 78.5h1M89 80.5h1M96 80.5h1M109 80.5h1M125 80.5h1M133 80.5h1M93 81.5h1M136 81.5h1M104 82.5h1M120 82.5h1M133 84.5h1M89 85.5h1M117 85.5h1M126 87.5h1M98 92.5h1M106 92.5h1M118 92.5h1M111 95.5h1"/>
<path stroke="#ac3206" d="M34 0.5h1M66 0.5h1M117 0.5h1M165 0.5h1M53 1.5h1M61 1.5h1M15 2.5h1M19 2.5h1M45 2.5h1M66 2.5h1M109 2.5h1M117 2.5h1M74 3.5h1M109 3.5h1M138 3.5h1M189 3.5h1M130 4.5h1M8 5.5h1M126 5.5h1M62 6.5h1M67 6.5h1M75 6.5h1M200 6.5h1M51 7.5h1M83 7.5h1M62 8.5h1M83 8.5h1M158 8.5h1M54 9.5h1M147 9.5h1M195 9.5h1M20 10.5h1M28 10.5h1M75 10.5h1M110 10.5h1M134 10.5h1M139 11.5h1M147 12.5h1M182 12.5h1M31 13.5h1M36 13.5h1M100 13.5h1M16 14.5h1M148 14.5h1M156 14.5h1M55 15.5h1M140 15.5h1M156 15.5h1M55 16.5h1M63 16.5h1M79 16.5h1M84 16.5h1M156 16.5h1M193 17.5h1M84 18.5h1M183 18.5h1M45 19.5h1M64 19.5h1M152 19.5h1M183 19.5h1M72 20.5h1M85 20.5h1M101 20.5h1M10 21.5h1M69 21.5h1M85 21.5h1M136 21.5h1M61 22.5h1M149 22.5h1M45 23.5h1M157 23.5h1M64 24.5h1M185 24.5h2M77 25.5h1M93 25.5h1M112 25.5h1M128 25.5h1M149 25.5h1M25 26.5h1M38 26.5h1M77 26.5h1M112 26.5h1M73 28.5h1M86 28.5h1M166 28.5h1M105 29.5h1M158 29.5h1M166 29.5h1M94 30.5h1M97 30.5h1M134 30.5h1M34 31.5h1M86 31.5h1M121 32.5h1M158 32.5h1M178 32.5h1M31 33.5h1M39 33.5h1M86 33.5h1M129 33.5h1M39 34.5h1M66 34.5h1M78 34.5h1M158 34.5h1M95 35.5h1M138 35.5h1M39 36.5h1M74 36.5h1M95 36.5h1M122 36.5h1M63 37.5h1M87 37.5h1M143 37.5h1M66 38.5h1M74 38.5h1M82 38.5h1M95 38.5h1M119 39.5h1M130 39.5h1M95 40.5h1M40 41.5h1M87 41.5h1M173 41.5h1M104 42.5h1M155 42.5h1M174 42.5h1M96 43.5h1M104 43.5h1M112 43.5h1M131 43.5h1M147 43.5h1M173 43.5h1M37 44.5h1M75 44.5h1M80 44.5h1M152 44.5h1M56 45.5h1M67 45.5h1M75 45.5h1M83 45.5h1M139 45.5h1M144 45.5h1M57 47.5h1M59 47.5h1M67 47.5h1M88 47.5h1M131 47.5h1M160 47.5h1M167 47.5h1M57 48.5h1M88 48.5h1M96 48.5h1M131 48.5h1M57 49.5h1M68 49.5h1M164 50.5h1M97 51.5h1M124 51.5h1M164 51.5h1M105 52.5h1M153 52.5h1M92 53.5h1M137 53.5h1M68 54.5h1M84 54.5h1M148 54.5h1M140 55.5h1M53 56.5h1M58 56.5h1M85 56.5h1M93 56.5h1M157 56.5h1M106 57.5h1M153 57.5h1M54 58.5h1M98 58.5h1M114 59.5h1M159 60.5h1M69 61.5h1M106 61.5h1M149 61.5h1M94 63.5h1M154 63.5h1M86 64.5h1M94 64.5h1M123 65.5h1M142 65.5h1M126 66.5h1M78 67.5h1M147 68.5h1M86 69.5h1M99 70.5h1M107 70.5h1M103 71.5h1M81 72.5h1M95 75.5h1M116 75.5h1M87 76.5h1M108 76.5h1M96 78.5h1M100 78.5h1M144 78.5h1M133 79.5h1M146 79.5h1M101 81.5h1M109 81.5h1M125 81.5h1M96 83.5h1M117 83.5h1M113 85.5h1M105 87.5h1M126 89.5h1M105 90.5h1M118 91.5h1M114 92.5h1M114 93.5h1M107 99.5h1"/>
<path stroke="#b23a09" d="M26 0.5h1M30 0.5h1M53 0.5h1M138 0.5h1M45 1.5h1M69 1.5h1M74 1.5h1M114 1.5h1M117 1.5h1M149 1.5h1M194 1.5h1M206 1.5h1M173 3.5h1M181 3.5h1M58 4.5h1M66 4.5h1M146 4.5h1M173 4.5h1M35 5.5h1M118 5.5h1M130 5.5h1M134 5.5h1M200 5.5h1M174 7.5h1M54 8.5h1M126 8.5h1M147 8.5h1M62 9.5h1M107 9.5h1M118 9.5h1M199 9.5h2M182 10.5h1M190 10.5h1M195 10.5h1M67 11.5h1M79 11.5h1M163 11.5h1M182 11.5h1M190 11.5h1M127 12.5h1M131 12.5h1M139 12.5h1M9 13.5h1M76 13.5h1M123 13.5h1M131 13.5h1M143 13.5h1M103 14.5h1M135 14.5h1M193 14.5h1M28 15.5h1M52 15.5h1M84 15.5h1M87 15.5h1M127 15.5h1M192 15.5h1M148 16.5h1M192 16.5h2M17 17.5h1M119 17.5h1M127 17.5h1M148 17.5h1M192 17.5h1M29 18.5h1M160 18.5h1M56 19.5h1M80 19.5h1M140 19.5h1M37 20.5h1M144 20.5h1M64 21.5h1M77 21.5h1M93 21.5h1M112 21.5h1M64 23.5h1M80 23.5h1M85 23.5h1M125 23.5h1M128 23.5h1M149 23.5h1M128 24.5h1M144 24.5h1M120 25.5h1M186 25.5h1M165 26.5h1M81 27.5h1M149 27.5h1M33 28.5h1M38 28.5h1M102 28.5h1M65 29.5h1M70 29.5h1M86 29.5h1M94 29.5h1M137 29.5h1M150 29.5h1M73 30.5h1M81 30.5h1M38 31.5h1M73 31.5h1M34 32.5h1M65 32.5h1M110 32.5h1M129 32.5h1M137 32.5h1M145 32.5h1M179 32.5h1M78 33.5h1M90 33.5h1M150 33.5h1M178 33.5h1M150 34.5h1M178 34.5h1M103 35.5h1M82 36.5h1M87 36.5h1M71 37.5h1M103 37.5h1M159 37.5h1M167 37.5h1M47 38.5h1M170 38.5h1M154 39.5h1M159 39.5h1M173 39.5h1M79 40.5h1M91 40.5h1M103 40.5h1M130 40.5h1M171 40.5h1M48 41.5h1M56 41.5h1M79 41.5h1M91 41.5h1M155 41.5h1M171 41.5h1M59 42.5h1M171 42.5h1M40 43.5h1M83 43.5h1M155 43.5h1M44 44.5h1M88 44.5h1M172 44.5h1M163 46.5h1M139 47.5h1M147 47.5h1M92 48.5h1M49 49.5h1M152 49.5h1M156 49.5h1M160 49.5h1M166 49.5h1M84 50.5h1M46 51.5h1M89 51.5h1M105 51.5h1M166 51.5h1M165 52.5h2M68 53.5h1M84 53.5h1M97 54.5h1M156 54.5h1M105 55.5h1M113 55.5h1M77 56.5h1M61 57.5h1M93 57.5h1M159 57.5h1M85 58.5h1M114 58.5h1M159 58.5h1M63 59.5h1M158 59.5h2M149 60.5h1M154 61.5h1M98 62.5h1M154 62.5h1M98 63.5h1M70 64.5h1M94 65.5h1M107 65.5h1M86 66.5h1M91 66.5h1M99 66.5h1M152 66.5h1M94 67.5h1M110 67.5h1M152 67.5h1M86 68.5h1M107 68.5h1M99 69.5h1M103 70.5h1M115 70.5h1M75 71.5h1M79 71.5h1M95 73.5h1M135 73.5h1M84 74.5h1M87 74.5h1M100 74.5h1M103 74.5h1M108 74.5h1M119 74.5h1M87 75.5h1M103 75.5h1M146 75.5h1M100 77.5h1M144 77.5h1M84 78.5h1M108 78.5h1M112 78.5h1M146 78.5h1M90 79.5h1M147 79.5h1M104 80.5h1M117 80.5h1M96 81.5h1M128 81.5h1M96 82.5h1M109 82.5h1M109 83.5h1M140 83.5h1M109 84.5h1M121 84.5h1M105 85.5h1M109 85.5h1M121 85.5h1M141 85.5h1M101 86.5h1M110 88.5h1M126 88.5h1M140 88.5h1M121 89.5h1M132 89.5h1M119 95.5h1M119 96.5h1M114 97.5h1"/>
<path stroke="#b8410d" d="M42 0.5h1M69 0.5h1M146 0.5h1M206 0.5h2M8 1.5h1M66 1.5h1M189 1.5h1M125 2.5h1M178 2.5h1M35 3.5h1M62 3.5h1M70 3.5h1M78 3.5h1M197 3.5h1M8 4.5h1M35 4.5h1M70 4.5h1M181 4.5h1M30 5.5h1M122 5.5h1M194 5.5h1M198 5.5h1M15 6.5h1M27 7.5h1M67 7.5h1M147 7.5h1M199 7.5h2M27 8.5h1M131 8.5h1M200 8.5h1M16 9.5h1M134 9.5h1M187 9.5h1M190 9.5h1M10 10.5h1M16 10.5h1M67 10.5h1M9 11.5h1M36 11.5h1M71 11.5h1M75 11.5h1M47 12.5h1M71 12.5h1M123 12.5h1M135 12.5h1M143 12.5h1M16 13.5h1M28 14.5h1M76 14.5h1M148 15.5h1M167 15.5h1M140 16.5h1M143 16.5h1M76 17.5h1M135 17.5h1M188 17.5h1M92 18.5h1M172 18.5h1M76 19.5h1M144 19.5h1M32 20.5h1M132 20.5h1M140 20.5h1M17 21.5h1M101 21.5h1M25 22.5h1M64 22.5h1M80 22.5h1M93 22.5h1M141 22.5h1M176 22.5h1M33 23.5h1M72 23.5h1M152 23.5h1M160 23.5h1M185 23.5h1M33 24.5h1M120 24.5h1M136 25.5h1M185 25.5h1M85 26.5h1M153 26.5h1M38 27.5h1M49 27.5h1M141 27.5h1M145 27.5h1M153 27.5h1M121 28.5h1M145 28.5h1M78 29.5h1M181 29.5h1M65 30.5h1M89 30.5h1M158 30.5h1M166 30.5h1M180 30.5h1M65 31.5h1M129 31.5h1M153 31.5h1M74 33.5h1M94 33.5h1M58 34.5h1M34 35.5h1M39 35.5h1M42 35.5h1M82 35.5h1M146 35.5h1M154 35.5h1M103 36.5h1M114 36.5h1M146 36.5h1M30 37.5h1M74 37.5h1M79 37.5h1M82 37.5h1M90 37.5h1M138 37.5h1M79 38.5h1M87 38.5h1M135 38.5h1M174 38.5h1M146 39.5h1M83 40.5h1M138 40.5h1M151 41.5h1M163 41.5h1M40 42.5h1M48 42.5h1M143 42.5h1M173 42.5h1M172 43.5h1M83 44.5h1M104 44.5h1M147 44.5h1M160 44.5h1M91 45.5h1M147 45.5h1M48 46.5h1M96 46.5h1M128 46.5h1M147 46.5h1M155 46.5h1M44 48.5h1M84 48.5h1M100 48.5h1M164 48.5h1M92 49.5h1M148 49.5h1M166 50.5h1M156 51.5h1M76 52.5h1M100 52.5h1M76 53.5h1M97 53.5h1M148 53.5h1M153 53.5h1M153 56.5h1M159 56.5h1M158 57.5h1M62 58.5h1M106 58.5h1M82 59.5h1M77 60.5h1M106 60.5h1M158 60.5h1M106 63.5h1M153 64.5h1M107 66.5h1M115 66.5h1M86 67.5h1M151 68.5h2M131 69.5h1M147 69.5h1M99 71.5h1M108 73.5h1M116 73.5h1M124 73.5h1M95 74.5h1M144 74.5h1M144 75.5h1M144 76.5h1M146 76.5h1M104 77.5h1M124 77.5h1M147 77.5h1M88 78.5h1M147 78.5h1M145 79.5h1M104 81.5h1M112 81.5h1M112 82.5h1M113 84.5h1M101 85.5h1M125 85.5h1M109 86.5h1M113 86.5h1M105 88.5h1M118 88.5h1M105 89.5h1M124 91.5h1M110 92.5h1M122 92.5h1M125 92.5h1M126 93.5h1M114 94.5h1"/>
<path stroke="#be4910" d="M50 0.5h1M58 0.5h1M74 0.5h1M77 0.5h1M130 0.5h1M154 0.5h1M197 0.5h1M15 1.5h1M30 1.5h1M122 1.5h1M146 1.5h1M114 2.5h1M133 2.5h1M181 2.5h1M194 2.5h1M197 2.5h1M27 3.5h1M134 4.5h1M142 4.5h1M154 4.5h1M58 5.5h1M27 6.5h1M102 6.5h1M122 6.5h1M134 6.5h1M194 6.5h1M199 6.5h1M59 7.5h1M62 7.5h1M139 7.5h1M194 7.5h1M31 8.5h1M35 8.5h1M67 8.5h1M70 8.5h1M139 8.5h1M150 8.5h1M87 9.5h1M115 9.5h1M123 9.5h1M131 9.5h1M142 9.5h1M131 10.5h1M16 11.5h1M28 11.5h1M63 11.5h1M83 11.5h1M151 11.5h1M39 12.5h1M191 13.5h1M194 13.5h1M63 14.5h1M68 14.5h1M84 14.5h1M123 14.5h1M143 14.5h1M183 14.5h1M32 15.5h1M60 15.5h1M71 15.5h1M151 15.5h1M17 16.5h1M28 16.5h1M32 16.5h1M71 16.5h1M127 16.5h1M132 16.5h1M135 16.5h1M151 16.5h1M17 18.5h1M80 18.5h1M140 18.5h1M188 18.5h1M37 19.5h1M188 19.5h1M60 20.5h1M120 20.5h1M148 20.5h1M152 20.5h1M188 20.5h1M29 22.5h1M33 22.5h1M41 22.5h1M69 22.5h1M72 22.5h1M77 22.5h1M85 22.5h1M96 22.5h1M13 23.5h1M29 23.5h1M53 23.5h1M186 23.5h1M136 24.5h1M149 24.5h1M81 25.5h1M161 25.5h1M69 26.5h1M161 26.5h1M181 26.5h1M33 27.5h1M77 27.5h1M137 27.5h1M157 27.5h1M181 27.5h1M89 29.5h1M177 29.5h1M21 30.5h1M34 30.5h1M42 30.5h1M78 30.5h1M86 30.5h1M169 30.5h1M30 31.5h1M158 31.5h1M178 31.5h2M154 33.5h1M179 33.5h1M70 34.5h1M86 34.5h1M90 34.5h1M142 34.5h1M146 34.5h1M154 34.5h1M162 34.5h1M179 34.5h1M130 35.5h1M95 37.5h1M151 37.5h1M167 38.5h1M39 39.5h1M138 39.5h1M151 40.5h1M71 42.5h1M79 42.5h1M139 42.5h1M151 42.5h1M159 42.5h1M172 42.5h1M123 43.5h1M107 44.5h1M64 45.5h1M72 45.5h1M80 45.5h1M88 45.5h1M152 45.5h1M160 45.5h1M139 46.5h1M44 47.5h1M108 47.5h1M80 48.5h1M72 49.5h1M80 49.5h1M88 49.5h1M144 50.5h1M152 50.5h1M53 51.5h1M100 51.5h1M108 51.5h1M84 52.5h1M92 52.5h1M97 52.5h1M53 53.5h1M57 53.5h1M156 53.5h1M129 54.5h1M101 55.5h1M89 56.5h1M97 56.5h1M141 57.5h1M125 58.5h1M90 59.5h1M98 59.5h1M106 59.5h1M101 60.5h1M122 62.5h1M90 63.5h1M102 63.5h1M82 64.5h1M102 64.5h1M150 64.5h1M152 65.5h1M151 66.5h1M107 67.5h1M151 67.5h1M119 69.5h1M71 70.5h1M95 70.5h1M111 70.5h1M91 71.5h1M103 72.5h1M92 74.5h1M111 74.5h1M116 74.5h1M145 74.5h1M100 75.5h1M140 76.5h1M112 77.5h1M146 77.5h1M117 81.5h1M101 82.5h1M137 83.5h1M141 86.5h1M113 87.5h1M113 88.5h1M121 88.5h1M139 88.5h1M102 89.5h1M110 89.5h1M113 89.5h1M118 89.5h1M118 90.5h1M122 91.5h1M101 92.5h1M118 93.5h1M122 93.5h1M111 96.5h1"/>
<path stroke="#c45113" d="M125 1.5h1M130 1.5h1M197 1.5h1M78 2.5h1M189 2.5h1M15 3.5h1M58 3.5h1M90 3.5h1M27 4.5h1M78 4.5h1M122 4.5h1M15 5.5h1M138 5.5h1M142 5.5h1M114 6.5h1M130 6.5h1M86 7.5h1M134 7.5h1M150 7.5h1M16 8.5h1M51 8.5h1M75 8.5h1M134 8.5h1M199 8.5h1M75 9.5h1M79 10.5h1M87 10.5h1M99 10.5h1M115 10.5h1M123 10.5h1M139 10.5h1M55 11.5h1M59 11.5h1M123 11.5h1M131 11.5h1M143 11.5h1M9 12.5h1M28 12.5h1M36 12.5h1M59 12.5h1M79 12.5h1M87 13.5h1M111 13.5h1M87 14.5h1M95 14.5h1M115 14.5h1M159 14.5h1M192 14.5h1M63 15.5h1M79 15.5h1M143 15.5h1M159 15.5h1M13 16.5h1M124 16.5h1M88 17.5h1M108 17.5h1M124 17.5h1M21 18.5h1M68 18.5h1M72 18.5h1M88 18.5h1M152 18.5h1M29 19.5h1M60 19.5h1M68 19.5h1M132 19.5h1M136 19.5h1M160 19.5h1M14 20.5h1M17 20.5h1M29 20.5h1M80 20.5h1M124 20.5h1M72 21.5h1M80 21.5h1M124 21.5h1M144 21.5h1M136 22.5h1M152 22.5h1M18 23.5h1M41 23.5h1M61 23.5h1M133 23.5h1M136 23.5h1M144 23.5h1M77 24.5h1M101 25.5h1M169 25.5h1M22 26.5h1M57 26.5h1M65 26.5h1M89 26.5h1M141 26.5h1M145 26.5h1M41 27.5h1M61 27.5h1M133 27.5h1M81 28.5h1M153 28.5h1M181 28.5h1M73 29.5h1M81 29.5h1M97 29.5h1M19 30.5h1M30 30.5h1M137 30.5h1M150 30.5h1M161 30.5h1M46 31.5h1M78 31.5h1M78 32.5h1M90 32.5h1M162 33.5h1M34 34.5h1M42 34.5h1M70 35.5h1M90 35.5h1M150 35.5h1M90 36.5h1M43 37.5h1M154 37.5h1M43 38.5h1M55 38.5h1M63 38.5h1M71 38.5h1M138 38.5h1M146 38.5h1M151 38.5h1M154 38.5h1M159 38.5h1M162 38.5h1M99 40.5h1M67 41.5h1M95 41.5h1M99 41.5h1M172 41.5h1M43 42.5h1M87 42.5h1M91 42.5h1M163 42.5h1M115 43.5h1M96 44.5h1M99 44.5h1M96 45.5h1M155 45.5h1M163 45.5h1M80 46.5h1M88 46.5h1M80 47.5h1M100 47.5h1M120 47.5h1M76 48.5h1M104 48.5h1M100 49.5h1M92 51.5h1M116 51.5h1M165 51.5h1M73 52.5h1M81 52.5h1M89 52.5h1M156 52.5h1M145 53.5h1M145 54.5h1M153 54.5h1M89 55.5h1M93 55.5h1M109 55.5h1M81 56.5h1M101 56.5h1M81 57.5h1M145 57.5h1M93 58.5h1M153 58.5h1M158 58.5h1M66 60.5h1M74 60.5h1M85 60.5h1M93 60.5h1M98 61.5h1M110 61.5h1M118 61.5h1M110 62.5h1M118 62.5h1M86 63.5h1M110 63.5h1M72 65.5h1M146 65.5h1M151 65.5h1M72 66.5h1M110 66.5h1M102 67.5h1M75 68.5h1M91 70.5h1M147 70.5h1M111 71.5h1M147 71.5h1M103 73.5h1M127 73.5h1M108 75.5h1M145 75.5h1M128 76.5h1M80 77.5h1M120 77.5h1M132 77.5h1M145 77.5h1M92 78.5h1M145 78.5h1M92 79.5h1M100 79.5h1M117 82.5h1M129 84.5h1M121 86.5h1M98 87.5h1M137 87.5h1M129 88.5h1M131 89.5h1M102 90.5h1M102 91.5h1M110 91.5h1M110 93.5h1M122 95.5h1M122 96.5h1M119 97.5h1M118 98.5h1M109 99.5h2"/>
<path stroke="#ca5817" d="M125 0.5h1M26 1.5h1M58 1.5h1M94 1.5h1M133 1.5h1M138 1.5h1M58 2.5h1M106 2.5h1M122 2.5h1M186 2.5h1M170 3.5h1M194 3.5h1M12 4.5h1M46 4.5h1M74 4.5h1M150 4.5h1M194 4.5h1M27 5.5h1M70 5.5h1M114 5.5h1M86 6.5h1M186 6.5h1M70 7.5h1M75 7.5h1M78 7.5h1M158 7.5h1M186 7.5h1M43 8.5h1M59 8.5h1M142 8.5h1M31 9.5h1M59 9.5h1M139 9.5h1M59 10.5h1M159 10.5h1M179 10.5h1M159 11.5h1M171 11.5h1M13 12.5h1M31 12.5h1M119 12.5h1M151 12.5h1M59 13.5h1M71 13.5h1M115 13.5h1M139 13.5h1M79 14.5h1M40 15.5h1M76 15.5h1M135 15.5h1M116 17.5h1M132 17.5h1M140 17.5h1M160 17.5h1M32 18.5h1M144 18.5h1M10 19.5h1M17 19.5h1M32 19.5h1M40 19.5h1M84 19.5h1M164 19.5h1M10 20.5h1M156 20.5h1M14 21.5h1M104 21.5h1M132 21.5h1M152 21.5h1M160 21.5h1M88 22.5h1M144 22.5h1M160 22.5h1M168 22.5h1M186 22.5h1M77 23.5h1M141 23.5h1M117 24.5h1M177 24.5h1M89 25.5h1M109 25.5h1M141 25.5h1M153 25.5h1M30 26.5h1M33 26.5h1M41 26.5h1M173 26.5h1M133 28.5h1M42 29.5h1M50 29.5h1M145 29.5h1M169 29.5h1M50 30.5h1M142 30.5h1M153 30.5h1M42 31.5h1M126 31.5h1M137 31.5h1M142 31.5h1M145 31.5h1M27 32.5h1M82 32.5h1M106 32.5h1M118 32.5h1M150 32.5h1M170 33.5h1M166 34.5h1M78 35.5h1M134 35.5h1M142 35.5h1M106 36.5h1M51 37.5h1M98 37.5h1M162 37.5h1M43 39.5h1M79 39.5h1M91 39.5h1M99 39.5h1M127 39.5h1M171 39.5h1M111 40.5h1M172 40.5h1M43 41.5h1M71 41.5h1M167 42.5h1M91 44.5h1M155 44.5h1M116 46.5h1M144 46.5h1M152 46.5h1M160 46.5h1M92 47.5h1M152 48.5h1M156 48.5h1M144 49.5h1M165 49.5h1M80 50.5h1M132 50.5h1M84 51.5h1M136 51.5h1M109 54.5h1M137 54.5h1M53 55.5h1M121 55.5h1M153 55.5h1M149 56.5h1M85 59.5h1M93 59.5h1M101 59.5h1M109 59.5h1M82 60.5h1M90 60.5h1M98 60.5h1M138 61.5h1M146 61.5h1M102 62.5h1M130 62.5h1M62 63.5h1M78 63.5h1M82 63.5h1M114 63.5h1M98 64.5h1M110 64.5h1M82 65.5h1M110 65.5h1M118 65.5h1M134 65.5h1M94 66.5h1M118 66.5h1M83 67.5h1M91 67.5h1M99 67.5h1M111 69.5h1M83 71.5h1M83 72.5h1M91 72.5h1M143 72.5h1M145 73.5h1M92 75.5h1M128 75.5h1M100 76.5h1M120 76.5h1M145 76.5h1M108 79.5h1M112 79.5h1M128 80.5h1M136 80.5h1M120 81.5h1M93 82.5h1M93 83.5h1M101 83.5h1M105 84.5h1M101 87.5h1M121 87.5h1M130 89.5h1M110 90.5h1M99 92.5h2M124 92.5h1M114 95.5h1M114 96.5h1M111 97.5h1M126 97.5h1M117 98.5h1"/>
<path stroke="#d0601a" d="M141 0.5h1M157 0.5h1M177 0.5h1M185 0.5h1M193 0.5h1M11 1.5h1M141 1.5h1M86 2.5h1M130 2.5h1M138 2.5h1M86 3.5h1M114 3.5h1M130 3.5h1M142 3.5h1M150 3.5h1M158 3.5h1M178 3.5h1M186 3.5h1M15 4.5h1M30 4.5h1M38 4.5h1M82 4.5h1M162 4.5h1M50 5.5h1M66 5.5h1M78 5.5h1M110 5.5h1M146 5.5h1M190 5.5h1M23 6.5h1M78 6.5h1M182 6.5h1M31 7.5h1M39 7.5h1M114 7.5h1M166 7.5h1M178 7.5h1M12 8.5h1M12 9.5h1M187 10.5h1M20 11.5h1M31 11.5h1M87 11.5h1M91 11.5h1M16 12.5h1M67 12.5h1M155 12.5h1M159 12.5h1M163 12.5h1M28 13.5h1M151 13.5h1M159 13.5h1M193 13.5h1M24 14.5h1M71 14.5h1M151 14.5h1M175 14.5h1M187 14.5h1M115 15.5h1M179 15.5h1M187 15.5h1M36 16.5h1M44 16.5h1M76 16.5h1M13 17.5h1M32 17.5h1M80 17.5h1M168 17.5h1M100 18.5h1M132 18.5h1M48 19.5h1M124 19.5h1M52 20.5h1M160 20.5h1M29 21.5h1M44 21.5h1M96 21.5h1M176 21.5h1M184 21.5h1M187 21.5h1M49 22.5h1M124 22.5h1M180 23.5h1M29 24.5h1M41 24.5h1M53 24.5h1M133 24.5h1M141 24.5h1M19 25.5h1M33 25.5h1M41 25.5h1M69 25.5h1M73 25.5h1M30 27.5h1M53 27.5h1M69 27.5h1M129 27.5h1M161 27.5h1M53 28.5h1M61 28.5h1M89 28.5h1M105 28.5h1M141 28.5h1M30 29.5h1M45 29.5h1M20 30.5h1M62 30.5h1M70 30.5h1M54 31.5h1M150 31.5h1M54 32.5h1M170 32.5h1M34 33.5h1M70 33.5h1M31 34.5h1M50 34.5h1M62 34.5h1M106 35.5h1M31 36.5h1M134 36.5h1M154 36.5h1M162 36.5h1M28 37.5h2M118 37.5h1M146 37.5h1M107 38.5h1M115 38.5h1M47 39.5h1M107 39.5h1M115 39.5h1M71 40.5h1M119 40.5h1M163 40.5h1M103 41.5h1M143 41.5h1M147 41.5h1M51 42.5h1M63 42.5h1M71 43.5h1M91 43.5h1M99 43.5h1M107 43.5h1M143 43.5h1M163 44.5h1M116 45.5h1M72 46.5h1M100 46.5h1M108 46.5h1M136 46.5h1M167 46.5h1M84 47.5h1M144 47.5h1M152 47.5h1M166 47.5h1M108 48.5h1M112 48.5h1M165 48.5h1M96 49.5h1M72 50.5h1M92 50.5h1M100 50.5h1M108 50.5h1M160 50.5h1M165 50.5h1M144 51.5h1M65 53.5h1M109 53.5h1M117 53.5h1M89 54.5h1M85 55.5h1M137 55.5h1M160 55.5h1M158 56.5h1M101 57.5h1M133 57.5h1M117 58.5h1M137 58.5h1M145 58.5h1M137 59.5h1M126 61.5h1M90 62.5h1M90 64.5h1M118 64.5h1M74 65.5h1M102 66.5h1M71 67.5h1M99 68.5h1M119 68.5h1M127 68.5h1M71 69.5h1M87 70.5h1M107 71.5h1M119 72.5h1M81 73.5h1M111 73.5h1M119 73.5h1M96 77.5h1M128 77.5h1M116 78.5h1M120 78.5h1M92 80.5h1M112 80.5h1M120 80.5h1M140 80.5h1M129 83.5h1M139 83.5h1M89 84.5h1M93 84.5h1M101 84.5h1M91 85.5h2M117 86.5h1M137 86.5h1M141 87.5h1M138 88.5h1M122 94.5h1M111 98.5h1"/>
<path stroke="#d46920" d="M38 0.5h1M97 0.5h1M133 0.5h1M149 0.5h1M42 1.5h1M50 1.5h1M86 1.5h1M50 2.5h1M94 2.5h1M19 3.5h1M30 3.5h1M54 3.5h1M98 3.5h1M50 4.5h1M126 4.5h1M201 4.5h1M42 5.5h1M150 5.5h1M199 5.5h1M39 6.5h1M42 6.5h1M50 6.5h1M94 6.5h1M142 6.5h1M174 6.5h1M122 7.5h1M142 7.5h1M178 8.5h1M10 9.5h1M27 9.5h1M51 9.5h1M67 9.5h1M95 9.5h1M107 10.5h1M151 10.5h1M160 10.5h1M39 11.5h1M115 11.5h1M127 11.5h1M115 12.5h1M13 13.5h1M43 13.5h1M51 13.5h1M103 13.5h1M40 14.5h1M167 14.5h1M13 15.5h1M68 15.5h1M20 16.5h1M60 16.5h1M104 16.5h1M179 16.5h1M96 17.5h1M11 18.5h1M13 18.5h1M40 18.5h1M116 18.5h1M161 18.5h1M168 18.5h1M180 18.5h1M88 19.5h1M128 19.5h1M25 21.5h1M41 21.5h1M49 21.5h1M52 21.5h1M60 21.5h1M88 21.5h1M108 22.5h1M12 23.5h1M69 23.5h1M177 23.5h1M45 24.5h1M61 24.5h1M69 24.5h1M81 24.5h1M97 24.5h1M105 24.5h1M125 24.5h1M133 25.5h1M49 26.5h1M61 26.5h1M93 26.5h1M133 26.5h1M169 26.5h1M89 27.5h1M97 28.5h1M169 28.5h1M34 29.5h1M125 29.5h1M133 29.5h1M161 29.5h1M180 29.5h1M109 30.5h1M145 30.5h1M179 30.5h1M62 31.5h1M106 31.5h1M134 31.5h1M98 32.5h1M50 33.5h1M142 33.5h1M138 34.5h1M170 34.5h1M62 35.5h1M162 35.5h1M54 36.5h1M62 36.5h1M98 36.5h1M170 36.5h1M170 37.5h1M174 37.5h1M143 38.5h1M71 39.5h1M151 39.5h1M43 40.5h1M75 40.5h1M107 40.5h1M78 42.5h1M99 42.5h1M131 42.5h1M79 43.5h1M135 43.5h1M163 43.5h1M127 44.5h1M116 47.5h1M128 47.5h1M164 47.5h1M72 48.5h1M140 49.5h1M124 50.5h1M136 50.5h1M152 51.5h1M136 52.5h1M81 53.5h1M89 53.5h1M53 54.5h1M101 54.5h1M117 54.5h1M117 55.5h1M73 57.5h1M117 57.5h1M125 57.5h1M137 57.5h1M63 58.5h1M109 58.5h1M145 59.5h1M62 60.5h1M121 60.5h1M82 62.5h1M94 62.5h1M146 62.5h1M118 63.5h1M74 64.5h1M126 64.5h1M146 64.5h1M126 65.5h1M146 66.5h1M83 68.5h1M91 68.5h1M119 70.5h1M123 70.5h1M111 72.5h1M144 73.5h1M84 75.5h1M104 76.5h1M112 76.5h1M140 77.5h1M83 78.5h1M140 79.5h1M137 82.5h1M121 83.5h1M137 84.5h1M133 85.5h1M98 91.5h1M114 91.5h1M107 94.5h1M110 94.5h1M126 94.5h1M115 98.5h1M108 99.5h1"/>
<path stroke="#d97327" d="M15 0.5h1M94 0.5h1M34 1.5h1M97 1.5h1M11 2.5h1M30 2.5h1M70 2.5h1M158 2.5h1M166 2.5h1M94 3.5h1M106 3.5h1M122 3.5h1M63 4.5h2M12 5.5h1M55 5.5h1M57 5.5h1M94 5.5h1M154 5.5h1M186 5.5h1M70 6.5h1M119 6.5h1M121 6.5h1M150 6.5h1M158 6.5h1M98 7.5h1M106 7.5h1M119 7.5h1M24 8.5h1M95 8.5h1M19 9.5h1M43 9.5h1M159 9.5h1M162 9.5h1M12 10.5h1M95 10.5h1M154 10.5h1M161 10.5h1M167 10.5h1M47 11.5h1M51 11.5h1M119 11.5h1M135 11.5h1M51 12.5h1M56 12.5h1M87 12.5h1M194 12.5h1M56 13.5h1M120 13.5h1M128 13.5h2M167 13.5h1M187 13.5h1M32 14.5h1M43 14.5h1M48 14.5h1M107 14.5h1M120 14.5h1M122 14.5h1M52 16.5h1M88 16.5h1M163 16.5h1M168 16.5h1M171 16.5h1M176 16.5h1M18 17.5h1M161 17.5h3M56 18.5h1M60 18.5h1M64 18.5h1M96 18.5h1M124 18.5h1M154 18.5h1M163 18.5h1M52 19.5h1M153 19.5h2M68 20.5h1M112 20.5h1M57 21.5h1M116 21.5h1M168 21.5h1M14 22.5h1M43 22.5h2M116 22.5h1M180 22.5h1M185 22.5h1M11 23.5h1M21 23.5h1M105 23.5h1M108 23.5h1M179 23.5h1M21 24.5h1M26 24.5h1M37 24.5h1M89 24.5h1M161 24.5h1M169 24.5h1M180 24.5h1M45 25.5h1M53 25.5h1M97 25.5h1M177 25.5h1M165 27.5h1M169 27.5h1M173 27.5h1M45 28.5h1M50 28.5h1M52 28.5h1M113 28.5h1M125 28.5h1M177 28.5h1M52 29.5h2M58 29.5h1M117 29.5h1M153 29.5h1M43 30.5h1M106 30.5h1M117 30.5h1M178 30.5h1M107 31.5h1M109 31.5h1M42 32.5h1M50 32.5h1M162 32.5h1M173 32.5h1M42 33.5h1M66 33.5h1M83 33.5h1M98 33.5h1M102 33.5h1M110 33.5h1M75 34.5h1M77 34.5h1M94 34.5h1M106 34.5h1M134 34.5h1M174 34.5h1M31 35.5h1M54 35.5h1M114 35.5h1M122 35.5h1M158 35.5h1M174 35.5h1M27 36.5h1M118 36.5h1M46 37.5h1M38 38.5h1M51 38.5h1M118 38.5h1M173 38.5h1M36 39.5h1M83 39.5h1M135 39.5h1M143 39.5h1M172 39.5h1M127 40.5h1M59 41.5h1M78 41.5h1M119 41.5h1M77 42.5h1M115 42.5h1M135 42.5h1M68 43.5h1M76 43.5h1M151 43.5h1M119 44.5h1M135 44.5h1M143 44.5h1M52 45.5h1M119 45.5h1M124 45.5h1M56 46.5h1M72 47.5h1M101 47.5h1M103 47.5h1M144 48.5h1M148 48.5h1M60 49.5h1M108 49.5h1M64 50.5h1M116 50.5h1M125 52.5h1M128 52.5h1M73 53.5h1M112 53.5h1M125 53.5h1M81 55.5h1M145 55.5h1M157 55.5h1M159 55.5h1M69 56.5h1M105 56.5h1M109 56.5h1M117 56.5h1M145 56.5h1M89 57.5h1M65 58.5h1M81 58.5h1M101 58.5h1M129 59.5h1M118 60.5h1M126 60.5h1M129 60.5h1M82 61.5h1M90 61.5h1M121 61.5h1M122 63.5h1M66 64.5h1M142 64.5h1M151 64.5h2M102 65.5h1M74 66.5h1M138 66.5h1M135 67.5h1M71 68.5h1M111 68.5h1M75 69.5h1M83 69.5h1M91 69.5h1M103 69.5h1M127 69.5h1M139 69.5h1M75 70.5h1M79 70.5h1M83 70.5h1M73 71.5h1M127 71.5h1M99 72.5h1M127 72.5h1M146 72.5h1M131 75.5h1M84 76.5h1M92 76.5h1M107 77.5h1M99 78.5h1M107 78.5h1M132 78.5h1M140 78.5h1M120 79.5h1M132 82.5h1M138 82.5h1M138 83.5h1M129 85.5h1M129 87.5h1M123 92.5h1"/>
<path stroke="#dd7c2d" d="M11 0.5h1M18 0.5h1M25 0.5h1M105 0.5h1M169 0.5h1M201 0.5h1M23 1.5h1M89 1.5h1M95 1.5h1M102 1.5h1M161 1.5h1M166 1.5h1M38 2.5h1M62 2.5h1M79 2.5h1M81 2.5h1M38 3.5h1M63 3.5h1M65 3.5h1M201 3.5h1M57 4.5h1M65 4.5h1M86 4.5h1M94 4.5h1M110 4.5h1M114 4.5h1M158 4.5h1M178 4.5h1M186 4.5h1M86 5.5h1M12 6.5h1M55 6.5h1M58 6.5h1M193 6.5h1M111 7.5h3M120 7.5h1M130 7.5h1M191 7.5h1M26 8.5h1M39 8.5h1M98 8.5h1M111 8.5h1M162 8.5h1M170 8.5h1M186 8.5h1M79 9.5h1M89 9.5h2M161 9.5h1M167 9.5h1M31 10.5h1M39 10.5h1M63 10.5h1M71 10.5h1M152 10.5h1M162 10.5h1M179 11.5h1M187 11.5h1M57 12.5h1M75 12.5h1M91 12.5h1M111 12.5h1M129 12.5h1M171 12.5h1M48 13.5h1M57 13.5h1M79 13.5h1M95 13.5h1M122 13.5h1M147 13.5h1M183 13.5h1M13 14.5h1M42 14.5h1M51 14.5h1M128 14.5h1M131 14.5h1M20 15.5h1M25 15.5h1M107 15.5h1M112 15.5h1M120 15.5h1M123 15.5h1M25 16.5h1M40 16.5h1M68 16.5h1M96 16.5h1M112 16.5h1M20 17.5h1M25 17.5h1M40 17.5h1M44 17.5h1M68 17.5h1M152 17.5h1M155 17.5h1M176 17.5h1M48 18.5h1M108 18.5h1M155 18.5h1M21 19.5h1M120 19.5h1M146 19.5h2M172 19.5h1M180 19.5h1M21 20.5h1M59 20.5h1M76 20.5h1M88 20.5h1M96 20.5h1M104 20.5h1M164 20.5h1M43 21.5h1M50 21.5h1M58 21.5h1M140 21.5h1M113 22.5h1M26 23.5h1M172 23.5h1M178 23.5h1M153 24.5h1M164 24.5h1M170 24.5h1M172 24.5h1M61 25.5h1M83 25.5h1M105 25.5h1M117 25.5h1M125 25.5h1M154 25.5h2M45 26.5h1M74 26.5h1M76 26.5h1M84 26.5h1M97 26.5h1M109 26.5h1M155 26.5h1M85 27.5h1M30 28.5h1M58 28.5h1M161 28.5h1M26 29.5h1M44 29.5h1M51 29.5h1M45 30.5h1M114 30.5h1M70 31.5h1M98 31.5h1M108 31.5h1M170 31.5h1M173 31.5h1M30 32.5h1M38 32.5h1M46 32.5h1M92 32.5h2M126 32.5h1M142 32.5h1M171 32.5h1M62 33.5h1M76 33.5h2M91 33.5h1M106 33.5h1M84 34.5h2M98 34.5h1M110 34.5h1M114 34.5h1M76 35.5h1M98 35.5h1M46 36.5h1M51 36.5h1M59 36.5h1M126 36.5h1M142 36.5h1M174 36.5h1M36 37.5h1M38 37.5h1M45 37.5h1M59 37.5h1M110 37.5h1M115 37.5h2M126 37.5h1M37 38.5h1M110 38.5h1M117 38.5h1M123 38.5h1M55 39.5h1M63 39.5h1M85 40.5h1M115 40.5h1M135 40.5h1M143 40.5h1M155 40.5h1M166 40.5h1M63 41.5h1M77 41.5h1M84 41.5h3M68 42.5h1M76 42.5h1M119 42.5h1M123 42.5h1M63 43.5h1M119 43.5h1M127 43.5h1M159 43.5h1M47 44.5h1M60 44.5h1M111 45.5h1M117 45.5h1M167 45.5h1M110 46.5h2M124 46.5h1M76 47.5h1M165 47.5h1M68 48.5h1M128 48.5h1M52 49.5h1M104 49.5h1M116 49.5h1M149 50.5h3M64 51.5h1M72 51.5h1M128 51.5h1M141 51.5h1M120 52.5h1M133 52.5h1M119 53.5h2M93 54.5h1M104 54.5h1M111 54.5h2M129 55.5h1M73 56.5h1M113 56.5h1M133 56.5h1M141 56.5h1M65 57.5h1M109 57.5h1M150 57.5h2M73 58.5h1M150 58.5h1M121 59.5h1M134 59.5h1M120 60.5h1M134 60.5h1M74 61.5h1M120 61.5h1M62 62.5h1M78 62.5h1M138 62.5h1M153 63.5h1M90 65.5h1M138 65.5h1M127 67.5h1M130 67.5h1M143 67.5h1M121 68.5h2M95 69.5h1M98 70.5h1M127 70.5h1M131 70.5h1M74 71.5h1M119 71.5h1M135 72.5h1M83 73.5h1M131 74.5h1M120 75.5h1M80 76.5h1M123 76.5h1M130 76.5h2M92 77.5h1M105 77.5h1M82 78.5h1M105 78.5h1M97 79.5h1M99 79.5h1M128 79.5h1M136 79.5h1M90 80.5h1M138 81.5h2M89 83.5h1M124 83.5h1M132 83.5h1M97 84.5h1M122 84.5h1M140 84.5h1M106 85.5h1M115 85.5h1M137 85.5h1M106 86.5h1M125 86.5h1M129 86.5h1M122 90.5h1M123 91.5h1M117 92.5h1M118 94.5h1M116 98.5h1"/>
<path stroke="#e18533" d="M95 0.5h1M110 0.5h1M113 0.5h1M190 0.5h1M24 1.5h1M38 1.5h1M88 1.5h1M96 1.5h1M169 1.5h1M174 1.5h1M177 1.5h1M42 2.5h1M50 3.5h1M64 3.5h1M81 3.5h1M134 3.5h1M153 3.5h1M42 4.5h1M90 4.5h1M98 4.5h1M118 4.5h1M198 4.5h1M200 4.5h1M23 5.5h1M56 5.5h1M82 5.5h1M102 5.5h1M127 5.5h3M158 5.5h1M162 5.5h1M31 6.5h1M40 6.5h1M47 6.5h1M98 6.5h1M111 6.5h1M113 6.5h1M127 6.5h1M166 6.5h1M12 7.5h1M40 7.5h1M42 7.5h1M121 7.5h1M192 7.5h2M18 8.5h2M25 8.5h1M90 8.5h1M103 8.5h1M106 8.5h1M114 8.5h1M194 8.5h1M17 9.5h1M88 9.5h1M103 9.5h1M151 9.5h1M170 9.5h1M47 10.5h1M55 10.5h1M81 10.5h1M89 10.5h2M119 10.5h1M143 10.5h1M144 11.5h1M146 11.5h1M152 11.5h1M154 11.5h1M160 11.5h1M162 11.5h1M20 12.5h1M43 12.5h1M83 12.5h1M103 12.5h1M128 12.5h1M130 12.5h1M145 12.5h1M167 12.5h1M179 12.5h1M191 12.5h1M20 13.5h1M24 13.5h1M40 13.5h1M58 13.5h1M121 13.5h1M130 13.5h1M155 13.5h1M163 13.5h1M192 13.5h1M20 14.5h1M56 14.5h1M121 14.5h1M163 14.5h1M17 15.5h1M27 15.5h1M43 15.5h1M99 15.5h1M104 15.5h1M113 15.5h2M121 15.5h1M163 15.5h1M18 16.5h2M26 16.5h1M99 16.5h1M107 16.5h1M177 16.5h1M19 17.5h1M28 17.5h1M52 17.5h1M60 17.5h1M72 17.5h1M83 17.5h1M25 18.5h1M52 18.5h1M83 18.5h1M136 18.5h1M146 18.5h1M153 18.5h1M162 18.5h1M176 18.5h1M96 19.5h1M108 19.5h1M116 19.5h1M155 19.5h1M25 20.5h1M44 20.5h1M51 20.5h1M57 20.5h1M116 20.5h1M129 20.5h1M138 20.5h1M176 20.5h1M51 21.5h1M121 21.5h2M129 21.5h2M148 21.5h1M156 21.5h1M180 21.5h1M186 21.5h1M21 22.5h1M42 22.5h1M121 22.5h3M156 22.5h1M27 23.5h2M42 23.5h1M44 23.5h1M49 23.5h1M106 23.5h1M113 23.5h1M116 23.5h1M20 24.5h1M27 24.5h1M49 24.5h1M57 24.5h1M156 24.5h1M178 24.5h2M49 25.5h1M57 25.5h1M65 25.5h1M82 25.5h1M84 25.5h1M90 25.5h1M156 25.5h1M163 25.5h1M171 25.5h1M75 26.5h1M83 26.5h1M125 26.5h1M137 26.5h1M154 26.5h1M156 26.5h1M22 27.5h1M58 27.5h1M105 27.5h1M113 27.5h1M121 27.5h1M125 27.5h1M154 27.5h1M177 27.5h1M22 28.5h1M42 28.5h1M44 28.5h1M51 28.5h1M60 28.5h1M77 28.5h1M117 28.5h1M149 28.5h1M157 28.5h1M180 28.5h1M43 29.5h1M109 29.5h1M35 30.5h1M37 30.5h1M44 30.5h1M35 31.5h3M50 31.5h1M90 31.5h1M93 31.5h1M101 31.5h1M114 31.5h1M62 32.5h1M74 32.5h1M84 32.5h2M91 32.5h1M134 32.5h1M165 32.5h1M172 32.5h1M54 33.5h1M84 33.5h2M126 33.5h1M155 33.5h3M163 33.5h1M54 34.5h1M76 34.5h1M130 34.5h1M155 34.5h1M157 34.5h1M51 35.5h1M67 35.5h1M75 35.5h1M86 35.5h1M126 35.5h1M166 35.5h1M170 35.5h1M35 36.5h1M43 36.5h1M60 36.5h1M131 36.5h1M37 37.5h1M44 37.5h1M44 38.5h1M99 38.5h1M116 38.5h1M163 39.5h1M39 40.5h1M59 40.5h1M63 40.5h1M78 40.5h1M84 40.5h1M86 40.5h1M51 41.5h1M76 41.5h1M107 41.5h1M115 41.5h1M131 41.5h1M156 41.5h2M164 41.5h1M69 42.5h1M84 42.5h1M107 42.5h1M156 42.5h2M70 43.5h1M77 43.5h1M45 44.5h1M52 44.5h1M68 44.5h1M71 44.5h1M124 44.5h1M167 44.5h1M47 45.5h1M108 45.5h1M118 45.5h1M52 46.5h1M64 46.5h1M76 46.5h1M101 46.5h1M103 46.5h1M109 46.5h1M117 46.5h1M95 47.5h1M102 47.5h1M136 47.5h1M101 48.5h2M116 48.5h1M120 48.5h1M136 48.5h1M140 48.5h1M77 49.5h3M87 49.5h1M124 49.5h1M69 50.5h1M71 50.5h1M77 50.5h1M112 50.5h1M142 50.5h1M69 51.5h1M143 51.5h1M149 51.5h1M117 52.5h1M126 52.5h2M101 53.5h1M111 53.5h1M133 53.5h1M65 54.5h1M73 54.5h1M81 54.5h1M110 54.5h1M61 55.5h1M73 55.5h1M96 55.5h1M61 56.5h1M95 56.5h1M137 56.5h1M78 57.5h1M152 57.5h1M78 58.5h1M129 58.5h1M143 58.5h2M151 58.5h2M65 59.5h1M126 59.5h1M136 59.5h1M153 59.5h1M136 60.5h2M62 61.5h1M111 61.5h3M119 61.5h1M126 62.5h1M96 63.5h1M146 63.5h1M150 63.5h1M79 64.5h1M81 64.5h1M87 64.5h1M130 64.5h1M79 65.5h2M130 66.5h1M128 67.5h1M138 67.5h1M128 68.5h1M130 68.5h1M135 68.5h1M113 69.5h1M120 69.5h3M96 70.5h1M106 70.5h1M139 70.5h1M72 71.5h1M96 71.5h3M115 71.5h1M131 71.5h1M143 71.5h1M82 72.5h1M107 72.5h1M139 73.5h1M80 74.5h1M128 74.5h1M139 74.5h1M123 75.5h1M130 75.5h1M136 75.5h1M139 75.5h1M96 76.5h1M115 76.5h1M129 76.5h1M136 76.5h1M84 77.5h1M106 77.5h1M81 78.5h1M98 78.5h1M106 78.5h1M124 78.5h1M128 78.5h1M91 79.5h1M98 79.5h1M105 79.5h3M100 80.5h1M132 81.5h1M129 82.5h1M113 83.5h1M131 83.5h1M114 84.5h1M124 84.5h1M138 84.5h2M90 85.5h1M108 85.5h1M114 85.5h1M100 86.5h1M99 87.5h2M109 87.5h1M125 90.5h1M115 92.5h1M116 93.5h1M123 97.5h1"/>
<path stroke="#e68f3a" d="M23 0.5h2M31 0.5h2M89 0.5h1M96 0.5h1M102 0.5h1M192 0.5h1M16 1.5h3M25 1.5h1M78 1.5h1M167 1.5h2M23 2.5h1M26 2.5h1M46 2.5h1M54 2.5h1M80 2.5h1M87 2.5h1M89 2.5h1M96 2.5h1M150 2.5h1M153 2.5h1M160 2.5h2M169 2.5h1M42 3.5h1M46 3.5h1M73 3.5h1M79 3.5h2M159 3.5h1M166 3.5h1M19 4.5h1M23 4.5h1M55 4.5h2M170 4.5h1M39 5.5h1M47 5.5h2M63 5.5h1M65 5.5h1M90 5.5h1M174 5.5h1M178 5.5h1M41 6.5h1M106 6.5h1M112 6.5h1M120 6.5h1M128 6.5h2M138 6.5h1M162 6.5h1M178 6.5h1M19 7.5h1M25 7.5h1M47 7.5h1M103 7.5h1M17 8.5h1M87 8.5h1M89 8.5h1M104 8.5h1M112 8.5h2M122 8.5h1M154 8.5h1M175 8.5h1M18 9.5h1M24 9.5h1M35 9.5h1M39 9.5h1M81 9.5h2M154 9.5h1M160 9.5h1M175 9.5h1M178 9.5h1M11 10.5h1M17 10.5h2M43 10.5h1M51 10.5h1M80 10.5h1M82 10.5h1M88 10.5h1M127 10.5h1M146 10.5h1M153 10.5h1M80 11.5h1M95 11.5h1M99 11.5h1M107 11.5h1M145 11.5h1M161 11.5h1M167 11.5h1M58 12.5h1M95 12.5h1M107 12.5h1M137 12.5h2M144 12.5h1M187 12.5h1M49 13.5h1M67 13.5h1M107 13.5h1M114 13.5h1M138 13.5h1M171 13.5h1M175 13.5h1M41 14.5h1M91 14.5h1M112 14.5h3M139 14.5h1M147 14.5h1M179 14.5h1M18 15.5h2M26 15.5h1M41 15.5h1M48 15.5h1M91 15.5h1M122 15.5h1M171 15.5h1M176 15.5h1M10 16.5h1M27 16.5h1M90 16.5h2M120 16.5h1M160 16.5h3M169 16.5h1M12 17.5h1M48 17.5h1M90 17.5h2M104 17.5h1M144 17.5h1M170 17.5h2M44 18.5h1M81 18.5h2M120 18.5h1M147 18.5h1M57 19.5h1M74 19.5h1M92 19.5h1M112 19.5h1M139 19.5h1M145 19.5h1M168 19.5h1M176 19.5h1M58 20.5h1M84 20.5h1M130 20.5h1M137 20.5h1M139 20.5h1M145 20.5h1M153 20.5h1M168 20.5h1M172 20.5h1M180 20.5h1M184 20.5h1M33 21.5h1M42 21.5h1M123 21.5h1M131 21.5h1M164 21.5h1M34 22.5h3M57 22.5h1M115 22.5h1M36 23.5h1M97 23.5h1M100 23.5h1M107 23.5h1M28 24.5h1M73 24.5h1M84 24.5h1M90 24.5h1M92 24.5h1M108 24.5h1M162 24.5h2M171 24.5h1M20 25.5h2M162 25.5h1M164 25.5h1M172 25.5h1M179 25.5h1M53 26.5h1M82 26.5h1M101 26.5h1M117 26.5h1M129 26.5h1M148 26.5h1M177 26.5h1M45 27.5h1M60 27.5h1M66 27.5h1M68 27.5h1M74 27.5h1M93 27.5h1M97 27.5h1M155 27.5h1M43 28.5h1M59 28.5h1M66 28.5h1M69 28.5h1M109 28.5h1M130 28.5h1M165 28.5h1M37 29.5h1M61 29.5h1M122 29.5h1M173 29.5h1M36 30.5h1M107 30.5h2M173 30.5h1M92 31.5h1M70 32.5h1M154 32.5h1M163 32.5h1M38 33.5h1M58 33.5h1M75 33.5h1M92 33.5h2M118 33.5h1M146 33.5h1M165 33.5h1M171 33.5h1M83 34.5h1M118 34.5h1M27 35.5h1M46 35.5h1M52 35.5h2M60 35.5h2M68 35.5h1M77 35.5h1M83 35.5h1M110 35.5h1M45 36.5h1M53 36.5h1M78 36.5h1M110 36.5h1M132 36.5h1M52 37.5h3M107 37.5h1M117 37.5h1M123 37.5h2M75 38.5h1M109 38.5h1M171 38.5h1M37 39.5h2M75 39.5h1M86 39.5h1M94 39.5h1M101 39.5h2M108 39.5h3M67 40.5h1M76 40.5h2M92 40.5h2M101 40.5h2M158 40.5h1M164 40.5h2M70 41.5h1M123 41.5h1M127 41.5h1M135 41.5h1M70 42.5h1M95 42.5h1M103 42.5h1M148 42.5h1M150 42.5h1M158 42.5h1M39 43.5h1M60 43.5h1M69 43.5h1M141 43.5h1M167 43.5h1M116 44.5h1M125 44.5h2M132 44.5h1M125 45.5h3M132 45.5h1M84 46.5h1M118 46.5h2M166 46.5h1M48 47.5h1M68 47.5h1M109 47.5h3M156 47.5h1M52 48.5h1M78 48.5h1M85 48.5h1M87 48.5h1M93 48.5h1M95 48.5h1M103 48.5h1M112 49.5h1M120 49.5h1M132 49.5h1M149 49.5h1M159 49.5h1M70 50.5h1M78 50.5h2M88 50.5h1M141 50.5h1M143 50.5h1M54 51.5h1M56 51.5h1M61 51.5h1M120 51.5h1M133 51.5h2M142 51.5h1M61 52.5h1M112 52.5h1M134 52.5h1M144 52.5h1M110 53.5h1M118 53.5h1M102 54.5h1M125 54.5h1M133 54.5h1M160 54.5h1M77 55.5h1M94 55.5h1M102 55.5h1M110 55.5h1M149 55.5h1M158 55.5h1M94 56.5h1M121 56.5h1M129 56.5h1M79 57.5h2M97 57.5h1M70 58.5h1M72 58.5h1M79 58.5h1M136 58.5h1M118 59.5h1M128 59.5h1M135 59.5h1M142 59.5h3M150 59.5h1M110 60.5h1M113 60.5h1M119 60.5h1M127 60.5h2M135 60.5h1M142 60.5h1M66 61.5h1M78 61.5h1M102 61.5h1M134 61.5h1M111 62.5h1M113 62.5h1M119 62.5h1M70 63.5h1M74 63.5h1M95 63.5h1M126 63.5h1M130 63.5h1M134 63.5h1M138 63.5h1M152 63.5h1M89 64.5h1M95 64.5h1M106 64.5h1M114 64.5h1M134 64.5h1M138 64.5h1M73 65.5h1M81 65.5h1M87 65.5h1M73 66.5h1M79 66.5h1M135 66.5h1M143 66.5h2M122 67.5h1M129 67.5h1M136 67.5h1M146 67.5h1M120 68.5h1M79 69.5h1M114 69.5h1M97 70.5h1M104 70.5h1M143 70.5h1M88 71.5h2M105 71.5h1M146 71.5h1M96 72.5h1M145 72.5h1M82 73.5h1M99 73.5h1M136 74.5h1M80 75.5h1M129 75.5h1M122 76.5h1M88 77.5h1M113 77.5h1M97 78.5h1M136 78.5h1M116 79.5h1M108 80.5h1M92 81.5h1M89 82.5h1M124 82.5h1M130 82.5h1M105 83.5h1M122 83.5h1M130 83.5h1M106 84.5h1M108 84.5h1M116 84.5h1M123 84.5h1M99 85.5h2M107 85.5h1M107 86.5h2M117 87.5h1M124 90.5h1M106 91.5h1M115 91.5h1M116 92.5h1M115 93.5h1M124 97.5h2"/>
<path stroke="#ea9840" d="M33 0.5h1M41 0.5h1M54 0.5h1M62 0.5h1M111 0.5h2M118 0.5h1M166 0.5h1M176 0.5h1M9 1.5h1M54 1.5h1M87 1.5h1M110 1.5h1M158 1.5h1M175 1.5h1M201 1.5h1M10 2.5h1M17 2.5h1M64 2.5h2M88 2.5h1M95 2.5h1M97 2.5h1M152 2.5h1M159 2.5h1M167 2.5h1M174 2.5h1M201 2.5h1M11 3.5h1M57 3.5h1M71 3.5h1M110 3.5h1M143 3.5h3M152 3.5h1M102 4.5h1M106 4.5h1M128 4.5h1M136 4.5h2M153 4.5h1M190 4.5h1M19 5.5h1M49 5.5h1M64 5.5h1M74 5.5h1M98 5.5h1M106 5.5h1M119 5.5h3M135 5.5h1M48 6.5h2M56 6.5h2M82 6.5h1M146 6.5h1M154 6.5h1M191 6.5h2M24 7.5h1M26 7.5h1M41 7.5h1M95 7.5h1M105 7.5h1M127 7.5h1M129 7.5h1M154 7.5h1M82 8.5h1M88 8.5h1M96 8.5h2M105 8.5h1M119 8.5h1M167 8.5h1M177 8.5h1M183 8.5h1M25 9.5h1M47 9.5h1M96 9.5h3M111 9.5h1M152 9.5h2M168 9.5h2M57 11.5h2M81 11.5h1M111 11.5h1M130 11.5h1M153 11.5h1M191 11.5h1M194 11.5h1M24 12.5h1M50 12.5h1M64 12.5h3M120 12.5h1M122 12.5h1M136 12.5h1M146 12.5h1M193 12.5h1M50 13.5h1M91 13.5h1M137 13.5h1M179 13.5h1M49 14.5h1M129 14.5h1M171 14.5h1M105 15.5h1M178 15.5h1M184 15.5h1M80 16.5h1M89 16.5h1M105 16.5h1M115 16.5h1M170 16.5h1M178 16.5h1M184 16.5h1M187 16.5h1M26 17.5h1M56 17.5h1M82 17.5h1M89 17.5h1M169 17.5h1M178 17.5h2M73 18.5h3M128 18.5h1M145 18.5h1M13 19.5h1M25 19.5h1M44 19.5h1M59 19.5h1M73 19.5h1M75 19.5h1M82 19.5h1M104 19.5h1M138 19.5h1M163 19.5h1M41 20.5h1M43 20.5h1M49 20.5h1M131 20.5h1M146 20.5h1M59 21.5h1M108 21.5h1M50 22.5h1M52 22.5h1M105 22.5h1M107 22.5h1M114 22.5h1M132 22.5h1M177 22.5h1M19 23.5h1M34 23.5h2M114 23.5h1M156 23.5h1M164 23.5h1M82 24.5h1M98 24.5h1M100 24.5h1M106 24.5h1M113 24.5h1M154 24.5h1M26 25.5h1M75 25.5h2M92 25.5h1M145 25.5h1M170 25.5h1M178 25.5h1M180 25.5h1M90 26.5h1M105 26.5h1M162 26.5h1M164 26.5h1M59 27.5h1M75 27.5h2M109 27.5h1M138 27.5h1M146 27.5h1M156 27.5h1M26 28.5h1M85 28.5h1M132 28.5h1M173 28.5h1M22 29.5h1M123 29.5h1M131 29.5h1M141 29.5h1M179 29.5h1M29 30.5h1M52 30.5h2M115 30.5h2M122 30.5h1M125 30.5h1M29 31.5h1M43 31.5h1M82 31.5h1M91 31.5h1M100 31.5h1M171 31.5h2M58 32.5h1M83 32.5h1M99 32.5h1M107 32.5h3M46 33.5h1M134 33.5h1M164 33.5h1M172 33.5h1M68 34.5h2M122 34.5h1M156 34.5h1M59 35.5h1M69 35.5h1M84 35.5h1M147 35.5h2M155 35.5h1M38 36.5h1M52 36.5h1M67 36.5h1M70 36.5h1M75 36.5h1M86 36.5h1M150 36.5h1M83 37.5h1M131 37.5h2M134 37.5h1M45 38.5h2M59 38.5h1M91 38.5h1M94 38.5h1M108 38.5h1M59 39.5h1M85 39.5h1M93 39.5h1M100 39.5h1M117 39.5h1M47 40.5h1M51 40.5h1M94 40.5h1M100 40.5h1M123 40.5h1M39 41.5h1M93 41.5h1M111 41.5h1M139 41.5h1M158 41.5h1M165 41.5h2M85 42.5h1M127 42.5h1M149 42.5h1M36 43.5h1M52 43.5h1M55 43.5h1M78 43.5h1M140 43.5h1M46 44.5h1M55 44.5h1M63 44.5h1M117 44.5h2M133 44.5h1M46 45.5h1M68 45.5h1M103 45.5h1M68 46.5h1M102 46.5h1M164 46.5h1M52 47.5h1M64 47.5h1M86 47.5h1M60 48.5h1M79 48.5h1M86 48.5h1M94 48.5h1M124 48.5h1M157 48.5h3M64 49.5h1M71 49.5h1M85 49.5h2M136 49.5h1M150 49.5h2M157 49.5h2M104 50.5h1M128 50.5h1M104 51.5h1M112 51.5h1M135 51.5h1M151 51.5h1M160 51.5h1M69 52.5h1M109 52.5h1M118 52.5h1M135 52.5h1M141 52.5h1M152 52.5h1M127 53.5h2M57 54.5h1M96 54.5h1M103 54.5h1M118 54.5h1M120 54.5h1M149 54.5h1M69 55.5h1M103 55.5h1M111 55.5h1M133 55.5h1M78 56.5h2M96 56.5h1M125 56.5h1M150 56.5h1M57 57.5h1M72 57.5h1M121 57.5h1M129 57.5h1M144 57.5h1M71 58.5h1M121 58.5h1M142 58.5h1M70 59.5h1M120 59.5h1M127 59.5h1M94 61.5h1M128 61.5h1M74 62.5h1M86 62.5h1M96 62.5h1M105 62.5h1M112 62.5h1M153 62.5h1M97 63.5h1M142 63.5h1M80 64.5h1M88 64.5h1M96 64.5h1M122 64.5h1M88 65.5h1M114 65.5h1M130 65.5h1M145 65.5h1M80 66.5h3M145 66.5h1M74 67.5h1M119 67.5h3M137 67.5h1M112 68.5h1M129 68.5h1M98 69.5h1M105 69.5h1M112 69.5h1M135 69.5h1M105 70.5h1M112 70.5h1M104 71.5h1M106 71.5h1M123 71.5h1M135 71.5h1M139 71.5h1M88 72.5h1M131 72.5h1M139 72.5h1M144 72.5h1M91 73.5h1M107 73.5h1M131 73.5h1M83 74.5h1M130 74.5h1M122 75.5h1M106 76.5h2M121 76.5h1M98 77.5h1M115 77.5h1M113 78.5h2M132 79.5h1M91 80.5h1M89 81.5h1M137 81.5h1M105 82.5h1M121 82.5h1M131 82.5h1M123 83.5h1M107 84.5h1M115 84.5h1M130 84.5h1M98 85.5h1M116 85.5h1M123 85.5h2M139 85.5h2M114 86.5h2M133 86.5h1M139 86.5h1M125 87.5h1M125 89.5h1M98 90.5h1M123 90.5h1M117 91.5h1M107 92.5h2M117 93.5h1M126 95.5h1M126 96.5h1M107 98.5h1"/>
<path stroke="#eda34c" d="M17 0.5h1M46 0.5h1M65 0.5h1M103 0.5h2M121 0.5h1M161 0.5h1M167 0.5h2M174 0.5h1M182 0.5h1M184 0.5h1M191 0.5h1M10 1.5h1M62 1.5h1M70 1.5h1M80 1.5h2M103 1.5h1M153 1.5h1M159 1.5h2M176 1.5h1M182 1.5h1M185 1.5h1M16 2.5h1M18 2.5h1M25 2.5h1M72 2.5h1M110 2.5h1M142 2.5h1M9 3.5h1M23 3.5h1M72 3.5h1M87 3.5h1M102 3.5h1M151 3.5h1M160 3.5h2M198 3.5h1M200 3.5h1M71 4.5h1M80 4.5h2M129 4.5h1M144 4.5h2M152 4.5h1M166 4.5h1M199 4.5h1M40 5.5h1M113 5.5h1M166 5.5h1M170 5.5h1M66 6.5h1M16 7.5h1M55 7.5h1M82 7.5h1M97 7.5h1M162 7.5h1M170 7.5h1M175 7.5h1M184 7.5h2M79 8.5h1M159 8.5h2M169 8.5h1M176 8.5h1M191 8.5h1M11 9.5h1M26 9.5h1M55 9.5h1M80 9.5h1M114 9.5h1M119 9.5h1M127 9.5h1M176 9.5h2M194 9.5h1M19 10.5h1M24 10.5h1M103 10.5h1M111 10.5h1M145 10.5h1M168 10.5h3M175 10.5h1M191 10.5h1M24 11.5h1M43 11.5h1M64 11.5h3M72 11.5h2M82 11.5h1M88 11.5h1M90 11.5h1M103 11.5h1M128 11.5h1M138 11.5h1M48 12.5h1M121 12.5h1M152 12.5h1M41 13.5h2M83 13.5h1M112 13.5h2M136 13.5h1M144 13.5h1M146 13.5h1M17 14.5h1M26 14.5h1M57 14.5h1M59 14.5h1M105 14.5h1M130 14.5h1M155 14.5h1M33 15.5h3M42 15.5h1M96 15.5h1M106 15.5h1M131 15.5h1M168 15.5h1M177 15.5h1M11 16.5h2M97 16.5h2M106 16.5h1M114 16.5h1M155 16.5h1M185 16.5h1M36 17.5h1M81 17.5h1M128 17.5h1M153 17.5h2M12 18.5h1M20 18.5h1M104 18.5h1M169 18.5h2M58 19.5h1M65 19.5h2M81 19.5h1M100 19.5h1M137 19.5h1M161 19.5h2M50 20.5h1M65 20.5h2M73 20.5h1M122 20.5h1M147 20.5h1M154 20.5h2M21 21.5h1M36 21.5h1M68 21.5h1M76 21.5h1M84 21.5h1M113 21.5h1M115 21.5h1M139 21.5h1M153 21.5h2M172 21.5h1M185 21.5h1M18 22.5h1M26 22.5h3M51 22.5h1M60 22.5h1M106 22.5h1M129 22.5h2M20 23.5h1M43 23.5h1M57 23.5h1M84 23.5h1M92 23.5h1M115 23.5h1M121 23.5h1M153 23.5h1M161 23.5h1M169 23.5h1M171 23.5h1M83 24.5h1M91 24.5h1M99 24.5h1M155 24.5h1M37 25.5h1M74 25.5h1M91 25.5h1M67 26.5h1M147 26.5h1M163 26.5h1M170 26.5h1M172 26.5h1M180 26.5h1M51 27.5h2M67 27.5h1M82 27.5h1M117 27.5h1M140 27.5h1M147 27.5h2M180 27.5h1M75 28.5h1M131 28.5h1M139 28.5h1M124 29.5h1M130 29.5h1M178 29.5h1M51 30.5h1M58 30.5h1M74 30.5h1M130 30.5h1M99 31.5h1M117 31.5h1M28 32.5h2M75 32.5h1M77 32.5h1M101 32.5h1M114 32.5h1M157 32.5h1M164 32.5h1M27 33.5h1M114 33.5h1M122 33.5h1M173 33.5h1M46 34.5h1M91 34.5h1M102 34.5h1M149 34.5h1M163 34.5h2M35 35.5h1M85 35.5h1M94 35.5h1M118 35.5h1M131 35.5h1M133 35.5h1M149 35.5h1M156 35.5h2M44 36.5h1M61 36.5h1M117 36.5h1M125 36.5h1M133 36.5h1M158 36.5h1M62 37.5h1M67 37.5h1M75 37.5h1M78 37.5h1M83 38.5h1M102 38.5h1M126 38.5h1M172 38.5h1M67 39.5h1M84 39.5h1M92 39.5h1M118 39.5h1M123 39.5h1M55 40.5h1M147 40.5h1M68 41.5h2M92 41.5h1M94 41.5h1M36 42.5h1M60 42.5h1M86 42.5h1M140 42.5h1M142 42.5h1M165 42.5h1M61 43.5h2M87 43.5h1M133 43.5h2M142 43.5h1M53 44.5h1M76 44.5h1M79 44.5h1M103 44.5h1M111 44.5h1M134 44.5h1M140 44.5h1M142 44.5h1M76 45.5h1M84 45.5h1M100 45.5h1M110 45.5h1M140 45.5h1M92 46.5h1M165 46.5h1M79 47.5h1M85 47.5h1M93 47.5h2M64 48.5h1M77 48.5h1M110 48.5h2M70 49.5h1M93 49.5h3M128 49.5h1M61 50.5h1M85 50.5h1M96 50.5h1M157 50.5h3M55 51.5h1M63 51.5h1M70 51.5h2M80 51.5h1M150 51.5h1M64 52.5h1M119 52.5h1M142 52.5h2M160 52.5h1M61 53.5h1M103 53.5h2M126 53.5h1M135 53.5h1M141 53.5h1M160 53.5h1M119 54.5h1M65 55.5h1M95 55.5h1M104 55.5h1M118 55.5h1M125 55.5h1M141 55.5h1M65 56.5h1M80 56.5h1M152 56.5h1M70 57.5h1M86 57.5h1M113 57.5h1M80 58.5h1M134 58.5h2M64 59.5h1M78 59.5h1M119 59.5h1M151 59.5h2M78 60.5h1M145 60.5h1M129 61.5h1M153 61.5h1M70 62.5h1M95 62.5h1M97 62.5h1M103 62.5h2M120 62.5h1M150 62.5h1M88 63.5h1M103 63.5h1M105 63.5h1M111 63.5h2M73 64.5h1M97 64.5h1M98 65.5h1M122 65.5h1M144 65.5h1M122 66.5h1M129 66.5h1M137 66.5h1M72 67.5h1M95 68.5h1M113 68.5h2M87 69.5h1M104 69.5h1M106 69.5h1M128 69.5h1M130 69.5h1M113 70.5h1M135 70.5h1M80 71.5h2M90 71.5h1M89 72.5h2M97 72.5h2M104 72.5h1M82 74.5h1M137 75.5h1M113 76.5h1M99 77.5h1M114 77.5h1M121 77.5h3M136 77.5h1M97 80.5h3M105 80.5h1M132 80.5h1M129 81.5h1M108 83.5h1M116 83.5h1M131 84.5h1M122 85.5h1M138 85.5h1M116 86.5h1M140 86.5h1M140 87.5h1M98 88.5h2M101 88.5h1M125 88.5h1M133 88.5h1M116 91.5h1M109 92.5h1M109 93.5h1M125 93.5h1M108 94.5h2M118 95.5h1"/>
<path stroke="#f1ae58" d="M16 0.5h1M39 0.5h1M57 0.5h1M73 0.5h1M88 0.5h1M175 0.5h1M183 0.5h1M65 1.5h1M73 1.5h1M105 1.5h1M112 1.5h1M193 1.5h1M34 2.5h1M63 2.5h1M71 2.5h1M73 2.5h1M102 2.5h1M145 2.5h1M151 2.5h1M168 2.5h1M10 3.5h1M56 3.5h1M88 3.5h1M118 3.5h1M126 3.5h1M137 3.5h1M174 3.5h1M48 4.5h1M72 4.5h2M79 4.5h1M135 4.5h1M143 4.5h1M151 4.5h1M174 4.5h1M41 5.5h1M136 5.5h1M182 5.5h1M191 5.5h1M193 5.5h1M26 6.5h1M63 6.5h2M90 6.5h1M170 6.5h1M34 7.5h1M49 7.5h2M90 7.5h1M96 7.5h1M104 7.5h1M128 7.5h1M177 7.5h1M183 7.5h1M9 8.5h1M42 8.5h1M55 8.5h1M63 8.5h1M120 8.5h1M127 8.5h1M130 8.5h1M161 8.5h1M168 8.5h1M185 8.5h1M193 8.5h1M63 9.5h1M106 9.5h1M120 9.5h3M129 9.5h1M27 10.5h1M66 10.5h1M74 10.5h1M135 10.5h1M144 10.5h1M194 10.5h1M74 11.5h1M89 11.5h1M121 11.5h1M129 11.5h1M136 11.5h2M175 11.5h1M183 11.5h1M99 12.5h1M154 12.5h1M175 12.5h1M183 12.5h1M192 12.5h1M17 13.5h1M145 13.5h1M162 13.5h1M27 14.5h1M33 14.5h2M50 14.5h1M58 14.5h1M104 14.5h1M184 14.5h1M56 15.5h1M88 15.5h1M90 15.5h1M139 15.5h1M147 15.5h1M160 15.5h1M162 15.5h1M169 15.5h1M185 15.5h2M33 16.5h1M56 16.5h1M113 16.5h1M144 16.5h1M186 16.5h1M27 17.5h1M97 17.5h1M99 17.5h1M112 17.5h1M120 17.5h1M147 17.5h1M177 17.5h1M184 17.5h1M18 18.5h2M26 18.5h1M89 18.5h2M112 18.5h1M139 18.5h1M171 18.5h1M11 19.5h2M28 19.5h1M67 19.5h1M83 19.5h1M129 19.5h1M184 19.5h1M67 20.5h1M100 20.5h1M108 20.5h1M121 20.5h1M123 20.5h1M187 20.5h1M26 21.5h1M114 21.5h1M137 21.5h1M100 22.5h1M154 22.5h2M164 22.5h1M172 22.5h1M179 22.5h1M73 23.5h1M81 23.5h1M89 23.5h1M99 23.5h1M129 23.5h1M154 23.5h1M170 23.5h1M43 24.5h2M107 24.5h1M29 25.5h1M121 25.5h1M148 25.5h1M60 26.5h1M91 26.5h1M113 26.5h1M121 26.5h1M146 26.5h1M171 26.5h1M26 27.5h1M50 27.5h1M131 27.5h2M139 27.5h1M34 28.5h1M67 28.5h1M93 28.5h1M122 28.5h1M138 28.5h1M140 28.5h1M178 28.5h2M36 29.5h1M59 29.5h2M93 29.5h1M114 29.5h3M149 29.5h1M165 29.5h1M27 30.5h2M82 30.5h1M93 30.5h1M101 30.5h1M133 30.5h1M44 31.5h2M51 31.5h1M74 31.5h1M115 31.5h2M122 31.5h1M162 31.5h1M165 31.5h1M37 32.5h1M66 32.5h1M76 32.5h1M130 33.5h1M27 34.5h1M67 34.5h1M92 34.5h2M126 34.5h1M148 34.5h1M165 34.5h1M132 35.5h1M140 35.5h1M68 36.5h1M83 36.5h1M85 36.5h1M94 36.5h1M107 36.5h1M115 36.5h1M123 36.5h2M141 36.5h1M166 36.5h1M61 37.5h1M86 37.5h1M91 37.5h1M94 37.5h1M108 37.5h2M125 37.5h1M133 37.5h1M166 37.5h1M173 37.5h1M67 38.5h1M78 38.5h1M84 38.5h1M86 38.5h1M100 38.5h2M51 39.5h1M76 39.5h1M78 39.5h1M116 39.5h1M164 39.5h3M37 40.5h1M131 40.5h1M156 40.5h2M47 41.5h1M102 41.5h1M150 41.5h1M47 42.5h1M55 42.5h1M61 42.5h1M111 42.5h1M141 42.5h1M44 43.5h1M47 43.5h1M54 43.5h1M84 43.5h2M103 43.5h1M111 43.5h1M124 43.5h1M132 43.5h1M148 43.5h3M158 43.5h1M54 44.5h1M61 44.5h2M69 44.5h1M78 44.5h1M84 44.5h1M141 44.5h1M151 44.5h1M53 45.5h1M60 45.5h1M79 45.5h1M102 45.5h1M109 45.5h1M133 45.5h1M135 45.5h1M143 45.5h1M45 46.5h2M60 46.5h1M77 46.5h1M87 46.5h1M95 46.5h1M127 46.5h1M140 46.5h1M156 46.5h1M56 47.5h1M77 47.5h1M87 47.5h1M124 47.5h1M140 47.5h1M48 48.5h1M109 48.5h1M132 48.5h1M69 49.5h1M141 49.5h1M48 50.5h1M135 50.5h1M62 51.5h1M77 51.5h1M109 51.5h1M125 51.5h3M56 52.5h1M101 52.5h1M104 52.5h1M110 52.5h1M149 52.5h1M134 53.5h1M136 53.5h1M149 53.5h1M61 54.5h1M77 54.5h1M85 54.5h1M94 54.5h2M136 54.5h1M141 54.5h1M57 55.5h1M112 55.5h1M86 56.5h3M102 56.5h2M151 56.5h1M87 57.5h1M94 57.5h2M142 57.5h2M64 58.5h1M113 58.5h1M73 59.5h1M153 60.5h1M127 61.5h1M142 61.5h1M150 61.5h1M66 62.5h1M121 62.5h1M134 62.5h1M142 62.5h1M79 63.5h1M87 63.5h1M89 63.5h1M104 63.5h1M71 64.5h2M89 65.5h1M143 65.5h1M114 66.5h1M127 66.5h2M136 66.5h1M73 67.5h1M79 67.5h1M95 67.5h1M111 67.5h1M114 67.5h1M144 67.5h2M79 68.5h1M103 68.5h1M143 68.5h1M97 69.5h1M114 70.5h1M120 70.5h3M82 71.5h1M105 72.5h1M123 72.5h1M88 73.5h1M96 73.5h1M81 74.5h1M104 74.5h1M107 74.5h1M123 74.5h1M129 74.5h1M137 74.5h2M96 75.5h1M104 75.5h1M107 75.5h1M121 75.5h1M138 75.5h1M114 76.5h1M97 77.5h1M131 77.5h1M124 79.5h1M116 80.5h1M139 80.5h1M90 81.5h1M100 81.5h1M105 81.5h1M108 81.5h1M97 82.5h1M113 82.5h1M106 83.5h2M114 83.5h2M132 84.5h1M138 86.5h1M106 87.5h2M139 87.5h1M98 89.5h1M114 89.5h1M122 89.5h1M124 89.5h1M106 90.5h1M114 90.5h1M123 93.5h2M115 97.5h1"/>
<path stroke="#f4b864" d="M8 0.5h1M40 0.5h1M64 0.5h1M70 0.5h1M81 0.5h1M86 0.5h2M119 0.5h2M39 1.5h1M46 1.5h1M55 1.5h1M63 1.5h1M79 1.5h1M111 1.5h1M113 1.5h1M118 1.5h1M183 1.5h1M190 1.5h3M24 2.5h1M113 2.5h1M55 3.5h1M89 3.5h1M97 3.5h1M190 3.5h1M111 4.5h1M120 4.5h1M127 4.5h1M161 4.5h1M111 5.5h2M137 5.5h1M143 5.5h2M151 5.5h1M192 5.5h1M19 6.5h1M25 6.5h1M95 6.5h1M103 6.5h1M185 6.5h1M18 7.5h1M32 7.5h2M48 7.5h1M66 7.5h1M79 7.5h1M87 7.5h1M176 7.5h1M47 8.5h1M80 8.5h2M121 8.5h1M151 8.5h1M184 8.5h1M192 8.5h1M71 9.5h1M113 9.5h1M130 9.5h1M183 9.5h1M186 9.5h1M191 9.5h1M26 10.5h1M65 10.5h1M73 10.5h1M97 10.5h1M121 10.5h2M129 10.5h2M12 11.5h1M56 11.5h1M120 11.5h1M122 11.5h1M193 11.5h1M19 12.5h1M42 12.5h1M49 12.5h1M88 12.5h1M153 12.5h1M160 12.5h2M64 13.5h2M89 13.5h2M19 14.5h1M25 14.5h1M35 14.5h1M83 14.5h1M90 14.5h1M99 14.5h1M106 14.5h1M136 14.5h2M144 14.5h1M160 14.5h1M185 14.5h2M59 15.5h1M97 15.5h1M128 15.5h1M146 15.5h1M161 15.5h1M34 16.5h1M42 16.5h1M48 16.5h1M83 16.5h1M123 16.5h1M136 16.5h1M145 16.5h1M147 16.5h1M75 17.5h1M98 17.5h1M105 17.5h3M123 17.5h1M136 17.5h1M145 17.5h2M28 18.5h1M58 18.5h1M91 18.5h1M137 18.5h1M184 18.5h1M130 19.5h1M28 20.5h1M42 20.5h1M161 20.5h1M65 21.5h1M138 21.5h1M145 21.5h1M155 21.5h1M19 22.5h2M58 22.5h2M81 22.5h1M84 22.5h1M131 22.5h1M148 22.5h1M153 22.5h1M161 22.5h1M178 22.5h1M52 23.5h1M60 23.5h1M65 23.5h1M82 23.5h1M98 23.5h1M122 23.5h1M124 23.5h1M155 23.5h1M162 23.5h2M34 24.5h2M42 24.5h1M59 24.5h1M65 24.5h1M75 24.5h1M121 24.5h1M145 24.5h1M42 25.5h2M106 25.5h2M113 25.5h1M129 25.5h1M146 25.5h1M19 26.5h2M26 26.5h1M37 26.5h1M42 26.5h1M44 26.5h1M58 26.5h2M66 26.5h1M68 26.5h1M37 27.5h1M42 27.5h3M83 27.5h2M101 27.5h1M130 27.5h1M163 27.5h1M179 27.5h1M68 28.5h1M74 28.5h1M76 28.5h1M101 28.5h1M123 28.5h1M146 28.5h3M154 28.5h2M35 29.5h1M66 29.5h1M74 29.5h1M77 29.5h1M85 29.5h1M106 29.5h1M132 29.5h1M157 29.5h1M90 30.5h1M98 30.5h1M123 30.5h2M170 30.5h1M172 30.5h1M58 31.5h1M77 31.5h1M85 31.5h1M154 31.5h1M35 32.5h1M52 32.5h1M100 32.5h1M155 32.5h2M30 33.5h1M52 33.5h2M108 33.5h1M138 33.5h1M148 33.5h2M38 34.5h1M52 34.5h1M59 34.5h3M147 34.5h1M38 35.5h1M43 35.5h1M102 35.5h1M139 35.5h1M141 35.5h1M69 36.5h1M76 36.5h2M91 36.5h1M108 36.5h1M116 36.5h1M139 36.5h2M147 36.5h1M173 36.5h1M60 37.5h1M70 37.5h1M102 37.5h1M142 37.5h1M52 38.5h3M76 38.5h2M92 38.5h1M124 38.5h2M131 38.5h1M134 38.5h1M163 38.5h1M44 39.5h2M77 39.5h1M131 39.5h1M155 39.5h1M36 40.5h1M38 40.5h1M117 40.5h1M36 41.5h1M55 41.5h1M100 41.5h2M148 41.5h2M62 42.5h1M134 42.5h1M164 42.5h1M166 42.5h1M46 43.5h1M86 43.5h1M95 43.5h1M100 43.5h1M116 43.5h1M126 43.5h1M156 43.5h1M70 44.5h1M77 44.5h1M87 44.5h1M100 44.5h1M159 44.5h1M55 45.5h1M78 45.5h1M87 45.5h1M134 45.5h1M156 45.5h1M166 45.5h1M47 46.5h1M79 46.5h1M132 46.5h1M159 46.5h1M60 47.5h1M78 47.5h1M117 47.5h2M148 47.5h1M157 47.5h3M56 48.5h1M101 49.5h1M109 49.5h1M142 49.5h2M56 50.5h1M62 50.5h2M120 50.5h1M55 52.5h1M62 52.5h2M111 52.5h1M93 53.5h1M102 53.5h1M151 53.5h1M69 54.5h1M134 54.5h2M151 54.5h1M88 55.5h1M119 55.5h1M152 55.5h1M135 56.5h2M62 57.5h1M64 57.5h1M71 57.5h1M96 57.5h1M105 57.5h1M134 57.5h3M118 58.5h1M71 59.5h2M80 59.5h2M113 59.5h1M70 60.5h1M111 60.5h1M143 60.5h1M70 61.5h1M105 61.5h1M80 63.5h2M113 63.5h1M65 64.5h1M95 65.5h2M106 65.5h1M90 66.5h1M73 68.5h1M87 68.5h1M106 68.5h1M136 68.5h3M146 68.5h1M73 69.5h2M96 69.5h1M129 69.5h1M143 69.5h1M88 70.5h3M145 71.5h1M106 72.5h1M90 73.5h1M136 73.5h1M98 74.5h2M105 74.5h1M112 75.5h1M88 76.5h1M105 76.5h1M129 77.5h2M89 78.5h3M115 78.5h1M106 80.5h2M124 80.5h1M138 80.5h1M91 81.5h1M106 81.5h1M116 81.5h1M131 81.5h1M92 82.5h1M107 82.5h2M122 82.5h2M97 83.5h1M114 87.5h1M122 87.5h1M124 87.5h1M133 87.5h1M106 88.5h1M117 88.5h1M124 88.5h1M101 91.5h1M115 94.5h1M123 94.5h1M107 95.5h1M123 96.5h1"/>
<path stroke="#f7c370" d="M10 0.5h1M55 0.5h2M63 0.5h1M198 0.5h1M200 0.5h1M57 1.5h1M64 1.5h1M71 1.5h1M104 1.5h1M121 1.5h1M56 2.5h1M111 2.5h1M118 2.5h1M134 2.5h1M175 2.5h1M177 2.5h1M190 2.5h1M193 2.5h1M198 2.5h1M200 2.5h1M16 3.5h1M25 3.5h2M95 3.5h1M111 3.5h1M136 3.5h1M182 3.5h1M25 4.5h2M39 4.5h1M41 4.5h1M47 4.5h1M49 4.5h1M112 4.5h2M119 4.5h1M160 4.5h1M182 4.5h1M26 5.5h1M80 5.5h2M145 5.5h1M153 5.5h1M161 5.5h1M16 6.5h1M24 6.5h1M32 6.5h1M34 6.5h1M65 6.5h1M79 6.5h1M104 6.5h1M136 6.5h1M151 6.5h1M153 6.5h1M159 6.5h1M17 7.5h1M56 7.5h3M63 7.5h1M151 7.5h2M160 7.5h1M40 8.5h2M66 8.5h1M128 8.5h2M146 8.5h1M152 8.5h1M56 9.5h1M104 9.5h2M112 9.5h1M128 9.5h1M146 9.5h1M192 9.5h1M25 10.5h1M56 10.5h1M58 10.5h1M64 10.5h1M72 10.5h1M96 10.5h1M98 10.5h1M113 10.5h1M120 10.5h1M128 10.5h1M10 11.5h1M17 11.5h1M50 11.5h1M114 11.5h1M168 11.5h1M17 12.5h1M40 12.5h2M72 12.5h3M89 12.5h2M162 12.5h1M18 13.5h2M32 13.5h1M75 13.5h1M88 13.5h1M99 13.5h1M160 13.5h2M18 14.5h1M88 14.5h1M161 14.5h1M178 14.5h1M51 15.5h1M57 15.5h1M89 15.5h1M98 15.5h1M129 15.5h1M136 15.5h1M144 15.5h2M155 15.5h1M170 15.5h1M41 16.5h1M43 16.5h1M82 16.5h1M122 16.5h1M139 16.5h1M152 16.5h3M64 17.5h1M74 17.5h1M36 18.5h1M65 18.5h1M67 18.5h1M19 19.5h1M43 19.5h1M121 19.5h2M131 19.5h1M13 20.5h1M27 20.5h1M33 20.5h1M74 20.5h2M83 20.5h1M92 20.5h1M162 20.5h2M186 20.5h1M12 21.5h1M18 21.5h1M27 21.5h1M66 21.5h1M83 21.5h1M100 21.5h1M107 21.5h1M163 21.5h1M73 22.5h1M76 22.5h1M140 22.5h1M163 22.5h1M51 23.5h1M83 23.5h1M90 23.5h1M148 23.5h1M58 24.5h1M60 24.5h1M74 24.5h1M76 24.5h1M27 25.5h1M58 25.5h3M68 25.5h1M98 25.5h3M137 25.5h1M147 25.5h1M43 26.5h1M92 26.5h1M139 26.5h1M178 26.5h2M34 27.5h1M91 27.5h1M19 28.5h1M37 28.5h1M90 28.5h1M124 28.5h1M156 28.5h1M19 29.5h1M69 29.5h1M82 29.5h1M90 29.5h1M101 29.5h1M107 29.5h2M170 29.5h1M77 30.5h1M83 30.5h2M91 30.5h2M131 30.5h1M157 30.5h1M52 31.5h2M75 31.5h1M84 31.5h1M36 32.5h1M44 32.5h1M51 32.5h1M130 32.5h1M146 32.5h1M35 33.5h2M69 33.5h1M100 33.5h1M109 33.5h1M35 34.5h1M51 34.5h1M53 34.5h1M140 34.5h1M44 35.5h1M109 35.5h1M164 35.5h1M173 35.5h1M36 36.5h2M84 36.5h1M155 36.5h1M69 37.5h1M76 37.5h1M84 37.5h2M92 37.5h1M158 37.5h1M163 37.5h1M171 37.5h2M85 38.5h1M93 38.5h1M132 38.5h1M158 38.5h1M166 38.5h1M46 39.5h1M108 40.5h1M139 40.5h1M38 41.5h1M117 41.5h1M39 42.5h1M92 42.5h2M102 42.5h1M118 42.5h1M38 43.5h1M45 43.5h1M53 43.5h1M101 43.5h1M117 43.5h2M125 43.5h1M157 43.5h1M85 44.5h2M102 44.5h1M108 44.5h1M148 44.5h1M54 45.5h1M69 45.5h1M77 45.5h1M86 45.5h1M101 45.5h1M141 45.5h1M151 45.5h1M71 46.5h1M85 46.5h1M94 46.5h1M125 46.5h2M143 46.5h1M148 46.5h1M70 47.5h1M119 47.5h1M69 48.5h2M149 48.5h3M111 49.5h1M101 50.5h2M133 50.5h2M79 51.5h1M110 51.5h2M117 51.5h3M157 51.5h1M77 52.5h1M93 52.5h1M103 52.5h1M151 52.5h1M96 53.5h1M150 53.5h1M152 53.5h1M126 54.5h1M157 54.5h1M159 54.5h1M87 55.5h1M120 55.5h1M135 55.5h1M150 55.5h2M104 56.5h1M56 57.5h1M63 57.5h1M88 57.5h1M118 57.5h1M120 57.5h1M89 58.5h1M97 58.5h1M119 58.5h1M128 58.5h1M79 59.5h1M63 60.5h1M80 60.5h2M112 60.5h1M144 60.5h1M150 60.5h1M103 61.5h2M137 61.5h1M80 62.5h1M128 62.5h1M152 62.5h1M66 63.5h1M120 63.5h1M151 63.5h1M63 64.5h1M119 65.5h1M136 65.5h2M87 66.5h1M95 66.5h1M98 66.5h1M106 66.5h1M119 66.5h1M121 66.5h1M82 67.5h1M87 67.5h1M98 67.5h1M112 67.5h1M72 68.5h1M74 68.5h1M146 69.5h1M72 70.5h3M145 70.5h2M112 71.5h1M115 72.5h1M89 73.5h1M98 73.5h1M104 73.5h2M115 73.5h1M123 73.5h1M130 73.5h1M138 73.5h1M96 74.5h1M120 74.5h1M83 75.5h1M97 75.5h1M99 75.5h1M105 75.5h1M114 75.5h2M97 76.5h1M99 76.5h1M139 76.5h1M121 78.5h2M129 78.5h2M130 79.5h1M131 80.5h1M97 81.5h1M113 81.5h1M130 81.5h1M92 83.5h1M98 84.5h1M122 86.5h3M108 87.5h1M123 87.5h1M138 87.5h1M100 88.5h1M109 88.5h1M115 88.5h1M123 88.5h1M101 89.5h1M117 89.5h1M123 89.5h1M100 90.5h1M116 90.5h2M109 91.5h1M116 94.5h2M124 94.5h1M110 95.5h1M117 95.5h1M123 95.5h1M115 96.5h1M107 97.5h1M118 97.5h1"/>
<path stroke="#face7c" d="M49 0.5h1M72 0.5h1M78 0.5h1M126 0.5h1M145 0.5h1M153 0.5h1M199 0.5h1M31 1.5h2M40 1.5h1M72 1.5h1M150 1.5h1M184 1.5h1M39 2.5h2M55 2.5h1M57 2.5h1M112 2.5h1M126 2.5h1M191 2.5h2M24 3.5h1M34 3.5h1M96 3.5h1M113 3.5h1M193 3.5h1M199 3.5h1M24 4.5h1M40 4.5h1M87 4.5h3M95 4.5h1M121 4.5h1M159 4.5h1M192 4.5h1M24 5.5h1M34 5.5h1M79 5.5h1M95 5.5h1M97 5.5h1M152 5.5h1M160 5.5h1M33 6.5h1M81 6.5h1M89 6.5h1M96 6.5h2M105 6.5h1M135 6.5h1M161 6.5h1M183 6.5h2M65 7.5h1M80 7.5h2M88 7.5h2M138 7.5h1M146 7.5h1M153 7.5h1M159 7.5h1M10 8.5h2M32 8.5h3M56 8.5h3M64 8.5h2M153 8.5h1M57 9.5h1M65 9.5h1M135 9.5h1M184 9.5h1M193 9.5h1M35 10.5h1M114 10.5h1M178 10.5h1M183 10.5h1M192 10.5h2M11 11.5h1M18 11.5h2M27 11.5h1M42 11.5h1M112 11.5h2M169 11.5h1M192 11.5h1M18 12.5h1M27 12.5h1M112 12.5h3M169 12.5h1M25 13.5h1M27 13.5h1M35 13.5h1M66 13.5h1M169 13.5h1M89 14.5h1M138 14.5h1M145 14.5h1M162 14.5h1M168 14.5h1M176 14.5h1M49 15.5h2M58 15.5h1M80 15.5h1M83 15.5h1M35 16.5h1M59 16.5h1M64 16.5h1M81 16.5h1M121 16.5h1M128 16.5h2M131 16.5h1M137 16.5h1M146 16.5h1M42 17.5h2M57 17.5h1M113 17.5h1M122 17.5h1M139 17.5h1M187 17.5h1M27 18.5h1M41 18.5h3M57 18.5h1M59 18.5h1M66 18.5h1M97 18.5h1M99 18.5h1M122 18.5h1M138 18.5h1M178 18.5h2M18 19.5h1M26 19.5h2M41 19.5h1M49 19.5h1M89 19.5h1M123 19.5h1M178 19.5h1M187 19.5h1M11 20.5h2M18 20.5h1M26 20.5h1M81 20.5h2M115 20.5h1M178 20.5h1M28 21.5h1M34 21.5h2M67 21.5h1M73 21.5h1M81 21.5h2M106 21.5h1M161 21.5h2M13 22.5h1M65 22.5h1M74 22.5h1M82 22.5h1M97 22.5h1M99 22.5h1M137 22.5h1M162 22.5h1M169 22.5h1M171 22.5h1M50 23.5h1M58 23.5h2M75 23.5h1M91 23.5h1M123 23.5h1M132 23.5h1M145 23.5h1M36 24.5h1M52 24.5h1M115 24.5h1M129 24.5h1M132 24.5h1M137 24.5h1M44 25.5h1M67 25.5h1M21 26.5h1M34 26.5h1M51 26.5h1M107 26.5h1M138 26.5h1M140 26.5h1M20 27.5h1M108 27.5h1M162 27.5h1M164 27.5h1M171 27.5h1M178 27.5h1M35 28.5h1M82 28.5h2M91 28.5h2M108 28.5h1M171 28.5h1M29 29.5h1M75 29.5h1M84 29.5h1M138 29.5h1M61 30.5h1M75 30.5h1M85 30.5h1M99 30.5h2M165 30.5h1M171 30.5h1M66 31.5h1M76 31.5h1M83 31.5h1M130 31.5h1M163 31.5h1M53 32.5h1M122 32.5h1M37 33.5h1M43 33.5h1M51 33.5h1M68 33.5h1M101 33.5h1M107 33.5h1M147 33.5h1M36 34.5h1M45 34.5h1M141 34.5h1M173 34.5h1M36 35.5h1M45 35.5h1M91 35.5h2M107 35.5h1M123 35.5h1M163 35.5h1M92 36.5h1M109 36.5h1M148 36.5h2M172 36.5h1M77 37.5h1M139 37.5h1M60 38.5h1M70 38.5h1M158 39.5h1M45 40.5h1M109 40.5h2M116 40.5h1M118 40.5h1M150 40.5h1M37 41.5h1M44 41.5h2M60 41.5h1M116 41.5h1M118 41.5h1M38 42.5h1M44 42.5h1M46 42.5h1M94 42.5h1M100 42.5h1M116 42.5h2M132 42.5h2M37 43.5h1M166 43.5h1M101 44.5h1M109 44.5h1M149 44.5h2M156 44.5h2M165 44.5h2M70 45.5h2M85 45.5h1M142 45.5h1M148 45.5h1M157 45.5h3M164 45.5h1M78 46.5h1M93 46.5h1M158 46.5h1M132 47.5h1M141 47.5h2M151 47.5h1M71 48.5h1M143 48.5h1M48 49.5h1M56 49.5h1M102 49.5h2M110 49.5h1M45 50.5h1M47 50.5h1M86 50.5h2M103 50.5h1M109 50.5h3M127 50.5h1M78 51.5h1M96 51.5h1M101 51.5h3M158 51.5h1M71 52.5h2M80 52.5h1M102 52.5h1M150 52.5h1M159 52.5h1M54 53.5h1M69 53.5h1M77 53.5h1M144 53.5h1M157 53.5h1M159 53.5h1M150 54.5h1M152 54.5h1M86 55.5h1M134 55.5h1M136 55.5h1M144 55.5h1M57 56.5h1M70 56.5h3M110 56.5h1M119 56.5h2M144 56.5h1M55 57.5h1M86 58.5h1M126 58.5h1M64 60.5h2M79 60.5h1M86 60.5h1M79 61.5h3M86 61.5h1M97 61.5h1M135 61.5h2M145 61.5h1M129 62.5h1M119 63.5h1M121 63.5h1M64 64.5h1M103 64.5h3M113 64.5h1M120 64.5h1M127 64.5h1M145 64.5h1M97 65.5h1M111 65.5h1M120 65.5h1M129 65.5h1M135 65.5h1M111 66.5h1M113 66.5h1M120 66.5h1M80 67.5h1M96 67.5h2M97 68.5h2M145 68.5h1M88 69.5h1M81 70.5h2M129 70.5h1M113 71.5h1M144 71.5h1M129 72.5h1M97 73.5h1M106 73.5h1M128 73.5h2M137 73.5h1M88 74.5h1M106 74.5h1M122 74.5h1M88 75.5h1M98 75.5h1M106 75.5h1M81 76.5h1M98 76.5h1M138 76.5h1M123 78.5h1M131 78.5h1M113 79.5h1M115 79.5h1M131 79.5h1M139 79.5h1M113 80.5h1M121 80.5h1M130 80.5h1M137 80.5h1M107 81.5h1M124 81.5h1M91 82.5h1M106 82.5h1M115 82.5h2M100 83.5h1M91 84.5h1M99 84.5h2M130 85.5h2M108 88.5h1M114 88.5h1M116 88.5h1M122 88.5h1M132 88.5h1M99 89.5h2M106 89.5h1M109 89.5h1M115 89.5h1M99 90.5h1M101 90.5h1M115 90.5h1M125 95.5h1M116 96.5h1M118 96.5h1M124 96.5h1M116 97.5h1"/>
<path stroke="#fcd78f" d="M47 0.5h1M71 0.5h1M79 0.5h2M129 0.5h1M137 0.5h1M158 0.5h3M33 1.5h1M41 1.5h1M49 1.5h1M56 1.5h1M120 1.5h1M134 1.5h1M137 1.5h1M142 1.5h1M145 1.5h1M152 1.5h1M198 1.5h1M200 1.5h1M121 2.5h1M143 2.5h2M176 2.5h1M182 2.5h1M199 2.5h1M17 3.5h2M40 3.5h1M112 3.5h1M119 3.5h1M121 3.5h1M135 3.5h1M167 3.5h1M169 3.5h1M9 4.5h1M18 4.5h1M96 4.5h2M191 4.5h1M193 4.5h1M25 5.5h1M31 5.5h1M71 5.5h1M73 5.5h1M88 5.5h1M96 5.5h1M159 5.5h1M74 6.5h1M80 6.5h1M88 6.5h1M137 6.5h1M143 6.5h1M152 6.5h1M161 7.5h1M167 7.5h1M71 8.5h1M138 8.5h1M41 9.5h1M50 9.5h1M58 9.5h1M66 9.5h1M74 9.5h1M143 9.5h1M185 9.5h1M41 10.5h1M57 10.5h1M106 10.5h1M112 10.5h1M138 10.5h1M177 10.5h1M25 11.5h2M35 11.5h1M40 11.5h1M49 11.5h1M25 12.5h2M80 12.5h3M26 13.5h1M105 13.5h2M168 13.5h1M64 14.5h1M75 14.5h1M80 14.5h1M98 14.5h1M146 14.5h1M152 14.5h2M12 15.5h1M82 15.5h1M130 15.5h1M72 16.5h1M58 17.5h1M73 17.5h1M114 17.5h2M121 17.5h1M130 17.5h1M138 17.5h1M185 17.5h1M49 18.5h1M107 18.5h1M121 18.5h1M123 18.5h1M130 18.5h1M177 18.5h1M20 19.5h1M33 19.5h1M36 19.5h1M42 19.5h1M50 19.5h2M90 19.5h1M170 19.5h1M177 19.5h1M179 19.5h1M186 19.5h1M19 20.5h2M36 20.5h1M113 20.5h1M11 21.5h1M13 21.5h1M19 21.5h2M74 21.5h2M92 21.5h1M105 21.5h1M146 21.5h2M177 21.5h3M11 22.5h2M75 22.5h1M83 22.5h1M98 22.5h1M145 22.5h1M74 23.5h1M76 23.5h1M130 23.5h2M140 23.5h1M146 23.5h1M51 24.5h1M114 24.5h1M116 24.5h1M148 24.5h1M28 25.5h1M51 25.5h2M66 25.5h1M108 25.5h1M50 26.5h1M52 26.5h1M108 26.5h1M132 26.5h1M21 27.5h1M90 27.5h1M92 27.5h1M124 27.5h1M170 27.5h1M172 27.5h1M20 28.5h1M36 28.5h1M106 28.5h1M115 28.5h2M162 28.5h1M172 28.5h1M28 29.5h1M83 29.5h1M91 29.5h1M139 29.5h1M146 29.5h1M154 29.5h1M162 29.5h1M172 29.5h1M59 30.5h1M76 30.5h1M154 30.5h1M125 31.5h1M146 31.5h1M157 31.5h1M164 31.5h1M43 32.5h1M45 32.5h1M115 32.5h3M138 32.5h1M28 33.5h1M44 33.5h2M99 33.5h1M117 33.5h1M30 34.5h1M37 34.5h1M43 34.5h2M107 34.5h3M132 34.5h2M139 34.5h1M171 34.5h2M93 35.5h1M108 35.5h1M117 35.5h1M165 35.5h1M93 36.5h1M102 36.5h1M156 36.5h2M164 36.5h2M68 37.5h1M93 37.5h1M141 37.5h1M150 37.5h1M156 37.5h1M164 37.5h2M62 38.5h1M133 38.5h1M147 38.5h1M150 38.5h1M155 38.5h1M164 38.5h2M62 39.5h1M69 39.5h2M124 39.5h2M133 39.5h1M147 39.5h1M156 39.5h1M46 40.5h1M62 40.5h1M69 40.5h2M149 40.5h1M62 41.5h1M133 41.5h2M142 41.5h1M37 42.5h1M52 42.5h1M101 42.5h1M125 42.5h1M102 43.5h1M164 43.5h1M92 44.5h1M95 44.5h1M110 44.5h1M164 44.5h1M62 45.5h1M92 45.5h1M95 45.5h1M165 45.5h1M69 46.5h2M86 46.5h1M157 46.5h1M45 47.5h2M69 47.5h1M71 47.5h1M149 47.5h1M117 48.5h1M142 48.5h1M63 49.5h1M54 50.5h1M93 50.5h2M126 50.5h1M93 51.5h1M95 51.5h1M159 51.5h1M70 52.5h1M96 52.5h1M55 53.5h2M63 53.5h1M72 53.5h1M85 53.5h1M95 53.5h1M142 53.5h2M127 54.5h2M158 54.5h1M79 55.5h2M128 55.5h1M112 56.5h1M118 56.5h1M134 56.5h1M143 56.5h1M110 57.5h3M119 57.5h1M87 58.5h1M94 58.5h1M105 58.5h1M120 58.5h1M127 58.5h1M86 59.5h1M94 59.5h1M97 59.5h1M105 59.5h1M112 59.5h1M94 60.5h1M102 60.5h1M96 61.5h1M143 61.5h1M152 61.5h1M79 62.5h1M81 62.5h1M88 62.5h2M127 62.5h1M137 62.5h1M151 62.5h1M72 63.5h1M128 63.5h1M111 64.5h1M119 64.5h1M121 64.5h1M129 64.5h1M143 64.5h2M113 65.5h1M121 65.5h1M128 65.5h1M88 66.5h1M88 67.5h1M103 67.5h1M106 67.5h1M113 67.5h1M80 68.5h2M89 68.5h1M104 68.5h2M144 68.5h1M72 69.5h1M80 69.5h3M89 69.5h2M137 69.5h1M144 69.5h1M80 70.5h1M128 70.5h1M130 70.5h1M114 71.5h1M121 71.5h1M128 71.5h1M130 71.5h1M120 72.5h1M91 74.5h1M97 74.5h1M112 74.5h1M115 74.5h1M121 74.5h1M81 75.5h1M137 76.5h1M81 77.5h3M91 77.5h1M139 78.5h1M114 79.5h1M129 79.5h1M138 79.5h1M114 80.5h1M129 80.5h1M99 81.5h1M115 81.5h1M121 81.5h1M90 82.5h1M99 82.5h2M114 82.5h1M90 83.5h2M99 83.5h1M92 84.5h1M132 85.5h1M115 87.5h2M107 90.5h1M99 91.5h2M107 91.5h2M125 94.5h1M108 95.5h1M115 95.5h1M107 96.5h1M117 96.5h1M125 96.5h1"/>
<path stroke="#fce0a4" d="M9 0.5h1M48 0.5h1M119 1.5h1M126 1.5h1M199 1.5h1M41 2.5h1M49 2.5h1M103 2.5h1M105 2.5h1M119 2.5h1M129 2.5h1M137 2.5h1M185 2.5h1M39 3.5h1M41 3.5h1M127 3.5h3M168 3.5h1M177 3.5h1M192 3.5h1M16 4.5h1M34 4.5h1M11 5.5h1M18 5.5h1M72 5.5h1M87 5.5h1M89 5.5h1M175 5.5h1M87 6.5h1M145 6.5h1M160 6.5h1M175 6.5h1M177 6.5h1M9 7.5h1M64 7.5h1M74 7.5h1M135 7.5h1M168 7.5h2M50 8.5h1M135 8.5h1M32 9.5h1M40 9.5h1M42 9.5h1M48 9.5h2M64 9.5h1M73 9.5h1M144 9.5h2M40 10.5h1M104 10.5h1M137 10.5h1M176 10.5h1M186 10.5h1M41 11.5h1M106 11.5h1M170 11.5h1M178 11.5h1M12 12.5h1M35 12.5h1M106 12.5h1M168 12.5h1M170 12.5h1M152 13.5h1M154 13.5h1M185 13.5h2M10 14.5h1M67 14.5h1M96 14.5h1M169 14.5h2M177 14.5h1M10 15.5h1M64 15.5h1M72 15.5h1M137 15.5h2M152 15.5h2M50 16.5h1M57 16.5h2M138 16.5h1M34 17.5h1M129 17.5h1M131 17.5h1M137 17.5h1M51 18.5h1M98 18.5h1M113 18.5h1M115 18.5h1M187 18.5h1M105 19.5h1M107 19.5h1M114 19.5h2M34 20.5h2M114 20.5h1M177 20.5h1M179 20.5h1M98 21.5h1M169 21.5h3M68 22.5h1M89 22.5h1M92 22.5h1M138 22.5h2M146 22.5h1M170 22.5h1M137 23.5h1M139 23.5h1M147 23.5h1M50 24.5h1M124 24.5h1M131 24.5h1M147 24.5h1M50 25.5h1M132 25.5h1M28 26.5h2M106 26.5h1M131 26.5h1M19 27.5h1M29 27.5h1M36 27.5h1M106 27.5h2M21 28.5h1M84 28.5h1M107 28.5h1M114 28.5h1M163 28.5h1M170 28.5h1M20 29.5h2M27 29.5h1M67 29.5h1M76 29.5h1M92 29.5h1M98 29.5h1M140 29.5h1M147 29.5h1M155 29.5h1M164 29.5h1M171 29.5h1M60 30.5h1M66 30.5h1M138 30.5h1M146 30.5h1M149 30.5h1M155 30.5h1M162 30.5h1M60 31.5h1M123 31.5h1M133 31.5h1M138 31.5h1M149 31.5h1M155 31.5h1M60 32.5h1M149 32.5h1M29 33.5h1M67 33.5h1M141 33.5h1M117 34.5h1M131 34.5h1M37 35.5h1M125 35.5h1M171 35.5h2M163 36.5h1M171 36.5h1M99 37.5h1M101 37.5h1M155 37.5h1M61 38.5h1M68 38.5h2M156 38.5h1M60 39.5h1M68 39.5h1M126 39.5h1M132 39.5h1M134 39.5h1M139 39.5h1M157 39.5h1M44 40.5h1M61 40.5h1M68 40.5h1M125 40.5h1M132 40.5h1M46 41.5h1M61 41.5h1M110 41.5h1M141 41.5h1M45 42.5h1M54 42.5h1M124 42.5h1M94 43.5h1M165 43.5h1M158 44.5h1M61 45.5h1M63 45.5h1M94 45.5h1M149 45.5h2M135 46.5h1M141 46.5h1M151 46.5h1M125 47.5h1M127 47.5h1M143 47.5h1M150 47.5h1M118 48.5h1M125 48.5h2M141 48.5h1M45 49.5h1M61 49.5h1M118 49.5h2M125 49.5h1M53 50.5h1M55 50.5h1M95 50.5h1M118 50.5h1M125 50.5h1M85 51.5h1M88 51.5h1M94 51.5h1M79 52.5h1M157 52.5h1M78 53.5h1M54 54.5h1M78 54.5h2M142 54.5h1M144 54.5h1M64 55.5h1M71 55.5h2M78 55.5h1M126 55.5h1M142 55.5h1M63 56.5h2M111 56.5h1M127 56.5h1M142 56.5h1M54 57.5h1M127 57.5h1M88 58.5h1M89 59.5h1M95 59.5h1M110 59.5h2M71 60.5h3M96 60.5h2M105 60.5h1M151 60.5h2M95 61.5h1M151 61.5h1M87 62.5h1M135 62.5h2M73 63.5h1M127 63.5h1M129 63.5h1M144 63.5h1M112 64.5h1M103 65.5h1M112 65.5h1M127 65.5h1M89 66.5h1M96 66.5h2M103 66.5h1M112 66.5h1M81 67.5h1M89 67.5h2M82 68.5h1M88 68.5h1M90 68.5h1M96 68.5h1M138 69.5h1M145 69.5h1M144 70.5h1M120 71.5h1M129 71.5h1M112 72.5h1M121 72.5h2M128 72.5h1M130 72.5h1M120 73.5h1M114 74.5h1M82 75.5h1M91 75.5h1M113 75.5h1M82 76.5h2M90 77.5h1M123 79.5h1M123 80.5h1M98 81.5h1M114 81.5h1M123 81.5h1M98 82.5h1M98 83.5h1M90 84.5h1M131 86.5h2M131 87.5h1M107 88.5h1M130 88.5h2M107 89.5h2M116 89.5h1M109 90.5h1M109 95.5h1M116 95.5h1M124 95.5h1M117 97.5h1"/>
<path stroke="#fde9b9" d="M127 0.5h1M135 0.5h1M144 0.5h1M48 1.5h1M129 1.5h1M135 1.5h1M151 1.5h1M104 2.5h1M120 2.5h1M128 2.5h1M135 2.5h1M47 3.5h3M120 3.5h1M176 3.5h1M185 3.5h1M191 3.5h1M10 4.5h2M176 4.5h1M16 5.5h2M32 5.5h2M103 5.5h2M176 5.5h1M184 5.5h1M17 6.5h2M144 6.5h1M176 6.5h1M10 7.5h2M71 7.5h1M48 8.5h2M74 8.5h1M136 8.5h1M143 8.5h1M145 8.5h1M34 9.5h1M72 9.5h1M42 10.5h1M48 10.5h3M105 10.5h1M184 10.5h1M48 11.5h1M98 11.5h1M104 11.5h1M185 11.5h1M97 12.5h1M104 12.5h2M186 12.5h1M34 13.5h1M72 13.5h1M104 13.5h1M153 13.5h1M170 13.5h1M12 14.5h1M72 14.5h1M82 14.5h1M97 14.5h1M154 14.5h1M11 15.5h1M75 15.5h1M81 15.5h1M154 15.5h1M49 16.5h1M51 16.5h1M75 16.5h1M130 16.5h1M33 17.5h1M35 17.5h1M41 17.5h1M49 17.5h3M59 17.5h1M186 17.5h1M33 18.5h3M50 18.5h1M105 18.5h2M114 18.5h1M129 18.5h1M131 18.5h1M34 19.5h1M98 19.5h2M113 19.5h1M169 19.5h1M171 19.5h1M98 20.5h1M105 20.5h3M169 20.5h2M185 20.5h1M66 22.5h2M147 22.5h1M68 23.5h1M138 23.5h1M68 24.5h1M122 24.5h1M130 24.5h1M139 24.5h2M146 24.5h1M34 25.5h3M116 25.5h1M122 25.5h1M130 25.5h1M140 25.5h1M27 26.5h1M98 26.5h1M116 26.5h1M130 26.5h1M116 27.5h1M123 27.5h1M28 28.5h1M99 28.5h2M164 28.5h1M68 29.5h1M99 29.5h1M148 29.5h1M156 29.5h1M163 29.5h1M69 30.5h1M132 30.5h1M141 30.5h1M156 30.5h1M163 30.5h1M59 31.5h1M61 31.5h1M124 31.5h1M156 31.5h1M61 32.5h1M148 32.5h1M60 33.5h2M116 33.5h1M29 34.5h1M29 35.5h2M115 35.5h2M124 35.5h1M30 36.5h1M140 37.5h1M157 37.5h1M139 38.5h1M142 38.5h1M149 38.5h1M157 38.5h1M52 39.5h3M61 39.5h1M142 39.5h1M52 40.5h1M60 40.5h1M126 40.5h1M133 40.5h2M148 40.5h1M108 41.5h2M125 41.5h2M132 41.5h1M140 41.5h1M53 42.5h1M110 42.5h1M126 42.5h1M92 43.5h2M108 43.5h1M93 44.5h2M53 46.5h3M142 46.5h1M149 46.5h2M126 47.5h1M45 48.5h1M47 48.5h1M127 48.5h1M46 49.5h1M62 49.5h1M117 49.5h1M126 49.5h1M135 49.5h1M46 50.5h1M117 50.5h1M119 50.5h1M87 51.5h1M78 52.5h1M85 52.5h1M88 52.5h1M94 52.5h2M158 52.5h1M62 53.5h1M64 53.5h1M71 53.5h1M79 53.5h1M94 53.5h1M158 53.5h1M64 54.5h1M71 54.5h2M80 54.5h1M86 54.5h1M88 54.5h1M143 54.5h1M62 55.5h2M70 55.5h1M143 55.5h1M62 56.5h1M128 56.5h1M102 57.5h2M126 57.5h1M102 58.5h1M110 58.5h3M96 59.5h1M102 59.5h1M89 60.5h1M95 60.5h1M103 60.5h1M71 61.5h2M71 62.5h2M143 62.5h3M137 63.5h1M145 63.5h1M128 64.5h1M135 64.5h1M104 65.5h1M105 66.5h1M104 67.5h1M136 69.5h1M122 71.5h1M138 72.5h1M121 73.5h2M113 74.5h1M90 76.5h2M137 77.5h1M139 77.5h1M137 78.5h1M121 79.5h2M137 79.5h1M115 80.5h1M122 80.5h1M122 81.5h1M130 86.5h1M130 87.5h1M108 90.5h1M110 96.5h1"/>
<path stroke="#fef2cf" d="M128 0.5h1M134 0.5h1M142 0.5h1M150 0.5h1M47 1.5h1M31 2.5h2M47 2.5h2M127 2.5h1M136 2.5h1M183 2.5h2M103 3.5h3M175 3.5h1M183 3.5h1M17 4.5h1M31 4.5h1M103 4.5h1M105 4.5h1M167 4.5h3M175 4.5h1M177 4.5h1M183 4.5h1M185 4.5h1M10 5.5h1M105 5.5h1M167 5.5h1M177 5.5h1M185 5.5h1M9 6.5h2M167 6.5h1M143 7.5h3M144 8.5h1M33 9.5h1M137 9.5h2M136 10.5h1M32 11.5h1M97 11.5h1M105 11.5h1M184 11.5h1M10 12.5h2M32 12.5h1M98 12.5h1M177 12.5h1M184 12.5h1M12 13.5h1M33 13.5h1M73 13.5h2M80 13.5h3M96 13.5h1M176 13.5h1M178 13.5h1M184 13.5h1M11 14.5h1M65 14.5h1M81 14.5h1M67 15.5h1M74 16.5h1M66 17.5h1M185 18.5h2M35 19.5h1M91 19.5h1M97 19.5h1M106 19.5h1M185 19.5h1M90 20.5h1M97 20.5h1M99 20.5h1M171 20.5h1M89 21.5h1M91 21.5h1M97 21.5h1M99 21.5h1M66 23.5h2M66 24.5h2M138 24.5h1M123 25.5h1M131 25.5h1M139 25.5h1M35 26.5h2M99 26.5h2M114 26.5h2M122 26.5h2M28 27.5h1M35 27.5h1M99 27.5h1M114 27.5h1M122 27.5h1M27 28.5h1M29 28.5h1M98 28.5h1M100 29.5h1M67 30.5h1M164 30.5h1M69 31.5h1M131 31.5h2M141 31.5h1M147 31.5h1M59 32.5h1M67 32.5h2M123 32.5h1M131 32.5h1M59 33.5h1M115 33.5h1M131 33.5h1M139 33.5h1M28 34.5h1M115 34.5h2M123 34.5h1M125 34.5h1M28 35.5h1M101 35.5h1M29 36.5h1M100 37.5h1M147 37.5h3M140 39.5h2M149 39.5h2M54 40.5h1M124 40.5h1M53 41.5h1M124 41.5h1M108 42.5h2M109 43.5h1M93 45.5h1M133 46.5h1M47 47.5h1M133 47.5h1M62 48.5h2M119 48.5h1M133 48.5h1M127 49.5h1M133 49.5h2M86 51.5h1M86 52.5h2M70 53.5h1M80 53.5h1M88 53.5h1M55 54.5h1M62 54.5h2M70 54.5h1M55 55.5h1M127 55.5h1M126 56.5h1M104 57.5h1M128 57.5h1M95 58.5h2M104 58.5h1M87 59.5h1M87 60.5h2M104 60.5h1M63 61.5h1M73 61.5h1M144 61.5h1M73 62.5h1M63 63.5h1M71 63.5h1M135 63.5h2M143 63.5h1M136 64.5h2M105 65.5h1M105 67.5h1M136 70.5h3M136 71.5h2M113 72.5h2M136 72.5h2M112 73.5h1M114 73.5h1M89 74.5h1M89 76.5h1M89 77.5h1M138 78.5h1M132 87.5h1M108 97.5h3M108 98.5h1M110 98.5h1"/>
<path stroke="#fffbe4" d="M136 0.5h1M143 0.5h1M151 0.5h2M127 1.5h2M136 1.5h1M143 1.5h2M33 2.5h1M31 3.5h3M184 3.5h1M32 4.5h2M104 4.5h1M184 4.5h1M9 5.5h1M168 5.5h2M183 5.5h1M11 6.5h1M71 6.5h3M168 6.5h2M72 7.5h2M136 7.5h2M72 8.5h2M137 8.5h1M136 9.5h1M32 10.5h3M185 10.5h1M33 11.5h2M96 11.5h1M176 11.5h2M186 11.5h1M33 12.5h2M96 12.5h1M176 12.5h1M178 12.5h1M185 12.5h1M10 13.5h2M97 13.5h2M177 13.5h1M66 14.5h1M73 14.5h2M65 15.5h2M73 15.5h2M65 16.5h3M73 16.5h1M65 17.5h1M67 17.5h1M89 20.5h1M91 20.5h1M90 21.5h1M90 22.5h2M123 24.5h1M114 25.5h2M124 25.5h1M138 25.5h1M124 26.5h1M27 27.5h1M98 27.5h1M100 27.5h1M115 27.5h1M68 30.5h1M139 30.5h2M147 30.5h2M67 31.5h2M139 31.5h2M148 31.5h1M69 32.5h1M124 32.5h2M132 32.5h2M139 32.5h3M147 32.5h1M123 33.5h3M132 33.5h2M140 33.5h1M99 34.5h3M124 34.5h1M99 35.5h2M28 36.5h1M99 36.5h3M140 38.5h2M148 38.5h1M148 39.5h1M53 40.5h1M140 40.5h3M52 41.5h1M54 41.5h1M110 43.5h1M61 46.5h3M134 46.5h1M53 47.5h3M61 47.5h3M134 47.5h2M46 48.5h1M53 48.5h3M61 48.5h1M134 48.5h2M47 49.5h1M53 49.5h3M86 53.5h2M56 54.5h1M87 54.5h1M54 55.5h1M56 55.5h1M54 56.5h3M103 58.5h1M88 59.5h1M103 59.5h2M64 61.5h2M87 61.5h3M63 62.5h3M64 63.5h2M104 66.5h1M138 71.5h1M113 73.5h1M90 74.5h1M89 75.5h2M138 77.5h1M108 96.5h2M109 98.5h1"/>
</g>
<path d="M85 177.4H883" stroke="#8a8a80" stroke-opacity=".55" stroke-width="0.8" fill="none"/>
<path d="M85.2 177.4H880" stroke="#fbee12" stroke-width="6.8" stroke-dasharray="27.3 27.1" fill="none"/>
<path d="M177.5 73.4L192.1 71.9M204.6 70.7L219.2 69.2M231.6 67.9L246.2 66.4M258.7 65.2L273.3 63.7M285.8 62.4L300.4 60.9M312.8 59.7L327.4 58.2M339.9 56.9L354.5 55.5M367.0 54.2L381.6 52.7M394.1 51.4L408.7 50.0M421.1 48.7L435.7 47.2M448.2 46.0L462.8 44.5M475.3 43.2L489.9 41.7M502.3 40.5L516.9 39.0M529.4 37.7L544.0 36.2M556.5 35.0L571.1 33.5M583.6 32.2L598.2 30.7M610.6 29.5L625.2 28.0M637.7 26.7L652.3 25.3M664.8 24.0L679.4 22.5M691.8 21.2L706.4 19.8M718.9 18.5L733.5 17.0M746.0 15.8L760.6 14.3M773.0 13.0L787.6 11.5M800.1 10.3L811.5 9.1" stroke="#fff" stroke-width="6.4" fill="none"/>
<path d="M109.8 250.6L124.4 249.1M136.8 247.9L151.4 246.4M163.7 245.2L178.3 243.7M190.7 242.5L205.3 241.0M217.6 239.8L232.2 238.3M244.6 237.0L259.2 235.6M271.6 234.3L286.2 232.9M298.5 231.6L313.1 230.1M325.5 228.9L340.1 227.4M352.4 226.2L367.0 224.7M379.4 223.5L394.0 222.0M406.4 220.8L421.0 219.3M433.3 218.1L447.9 216.6M460.3 215.3L474.9 213.9M487.2 212.6L501.8 211.2M514.2 209.9L528.8 208.4M541.2 207.2L555.8 205.7M568.1 204.5L582.7 203.0M595.1 201.8L609.7 200.3M622.0 199.1L636.6 197.6M649.0 196.4L663.6 194.9M676.0 193.6L690.6 192.2M702.9 190.9L717.5 189.5M729.9 188.2L738.0 187.4" stroke="#000" stroke-width="6.4" fill="none"/>
<g fill="#fff"><path d="M86 77.2L116 74.6L116.6 82.2L86.6 84.6z"/><path d="M170 75C150 72 128 68 111 61.5C114 72 114 86 112.5 97.5C128 89 150 79 170 75z"/></g>
<g fill="#000"><path d="M2.5 256.5L32 253.8L32.7 261.6L3.2 264.5z"/><path d="M83 254.5C62 251 44 247 28.5 240.5C31.5 252 31.5 264 30 276C45 268 63 259 83 254.5z"/></g>
<text x="761" y="129" font-size="38" font-weight="bold" fill="#efdbe2" stroke="#7a5a6a" stroke-width="0.8" paint-order="stroke" textLength="116" lengthAdjust="spacingAndGlyphs">PtIr tip</text>
<text x="740" y="375.9" font-size="40" font-weight="bold" fill="#d6eaf6" stroke="#6a8494" stroke-width="0.8" paint-order="stroke" textLength="137" lengthAdjust="spacingAndGlyphs">NaCl tip</text>
<g stroke="#000" stroke-width="2.3" fill="none" stroke-linecap="butt">
<path d="M147.6 894.5V548.5H804.5V894.5"/>
<path d="M216.6 548.5v7.5"/>
<path d="M285.7 548.5v14.5"/>
<path d="M354.8 548.5v7.5"/>
<path d="M423.8 548.5v14.5"/>
<path d="M492.8 548.5v7.5"/>
<path d="M561.9 548.5v14.5"/>
<path d="M631.0 548.5v7.5"/>
<path d="M700.0 548.5v14.5"/>
<path d="M769.1 548.5v7.5"/>
<path d="M147.6 591.7h15.0"/>
<path d="M804.5 591.7h-15.0"/>
<path d="M147.6 634.9h8.0"/>
<path d="M804.5 634.9h-8.0"/>
<path d="M147.6 678.1h15.0"/>
<path d="M804.5 678.1h-15.0"/>
<path d="M147.6 721.4h8.0"/>
<path d="M804.5 721.4h-8.0"/>
<path d="M147.6 764.6h15.0"/>
<path d="M804.5 764.6h-15.0"/>
<path d="M147.6 807.7h8.0"/>
<path d="M804.5 807.7h-8.0"/>
</g>
<path fill="#829ca6" d="M146.6 895V815.5L148.3 815.0L152.0 807.6Q153.0 805.5 154.1 801.6L156.7 791.7Q157.8 787.8 158.8 786.2L161.5 782.3Q162.5 780.7 163.5 780.9L166.2 781.6Q167.2 781.8 168.3 783.1L170.9 786.5Q172.0 787.8 173.6 790.4L177.5 797.0Q179.1 799.6 180.1 798.0L182.8 794.1Q183.8 792.5 184.8 792.0L187.5 790.6Q188.5 790.1 189.6 791.2L192.2 793.8Q193.3 794.9 194.6 797.2L197.9 803.2Q199.2 805.5 200.2 807.1L202.9 811.0Q203.9 812.6 205.2 811.0L208.6 807.1Q209.9 805.5 210.9 804.9L213.6 803.3Q214.6 802.7 215.6 803.6L218.3 805.8Q219.3 806.7 220.6 808.8L223.9 814.1Q225.2 816.2 226.5 817.8L229.9 821.7Q231.2 823.3 232.2 821.5L234.9 816.8Q235.9 815.0 236.9 814.6L239.6 813.5Q240.6 813.1 241.1 812.6L242.5 811.2Q243.0 810.7 243.8 812.2L245.8 815.9Q246.6 817.4 248.4 819.7L253.0 825.7Q254.8 828.0 256.1 826.4L259.5 822.5Q260.8 820.9 262.1 819.1L265.4 814.4Q266.7 812.6 267.7 813.9L270.4 817.2Q271.4 818.5 273.2 821.3L277.9 828.3Q279.7 831.1 280.7 830.2L283.4 827.7Q284.4 826.8 285.5 825.3L288.1 821.7Q289.2 820.2 290.0 820.0L291.9 819.5Q292.7 819.3 293.8 820.2L296.4 822.4Q297.5 823.3 298.8 825.4L302.1 830.7Q303.4 832.8 304.7 835.1L308.0 841.1Q309.3 843.4 310.1 842.9L312.1 841.5Q312.9 841.0 313.9 838.7L316.6 832.7Q317.6 830.4 318.4 829.8L320.3 828.1Q321.1 827.5 321.9 828.4L323.9 830.7Q324.7 831.6 325.7 833.9L328.4 839.9Q329.4 842.2 330.5 844.0L333.1 848.7Q334.2 850.5 335.2 848.4L337.9 843.1Q338.9 841.0 339.9 838.7L342.6 832.7Q343.6 830.4 344.7 831.4L347.3 834.1Q348.4 835.1 349.4 837.0L352.1 842.0Q353.1 843.9 354.4 844.2L357.7 845.0Q359.0 845.3 359.6 846.2L361.2 848.4Q361.8 849.3 362.9 847.5L365.5 842.8Q366.6 841.0 367.9 839.5L371.2 835.9Q372.5 834.4 373.5 835.6L376.2 838.7Q377.2 839.9 379.3 843.4L384.6 852.2Q386.7 855.7 388.0 852.5L391.3 844.2Q392.6 841.0 393.7 840.6L396.3 839.8Q397.4 839.4 398.5 839.2L401.5 838.9Q402.6 838.7 403.5 840.5L405.9 845.2Q406.8 847.0 408.0 848.7L411.1 853.1Q412.3 854.8 413.7 851.8L417.3 844.0Q418.7 841.0 420.3 838.9L424.2 833.7Q425.8 831.6 426.6 832.1L428.5 833.4Q429.3 833.9 430.1 836.5L432.1 843.2Q432.9 845.8 434.4 846.8L438.0 849.5Q439.5 850.5 440.4 849.7L442.6 847.8Q443.5 847.0 444.3 844.9L446.3 839.6Q447.1 837.5 448.1 836.6L450.8 834.4Q451.8 833.5 452.9 834.6L455.5 837.6Q456.6 838.7 458.7 841.1L463.9 847.4Q466.0 849.8 467.3 847.6L470.7 842.1Q472.0 839.9 473.3 839.0L476.6 836.7Q477.9 835.8 478.9 836.4L481.6 838.1Q482.6 838.7 484.8 841.3L490.6 847.9Q492.8 850.5 494.2 847.9L497.8 841.3Q499.2 838.7 500.6 836.8L504.2 831.8Q505.6 829.9 506.8 832.1L509.8 837.7Q511.0 839.9 512.8 842.0L517.5 847.2Q519.3 849.3 520.3 847.7L523.0 843.8Q524.0 842.2 525.1 840.6L527.7 836.7Q528.8 835.1 530.6 835.9L535.3 837.9Q537.1 838.7 538.4 841.7L541.7 849.2Q543.0 852.2 544.3 850.8L547.6 847.2Q548.9 845.8 550.2 844.3L553.5 840.6Q554.8 839.1 555.6 839.3L557.6 839.7Q558.4 839.9 559.4 841.7L562.1 846.3Q563.1 848.1 564.3 849.2L567.3 851.8Q568.5 852.9 570.0 850.3L573.9 843.6Q575.4 841.0 576.7 840.0L580.0 837.3Q581.3 836.3 582.2 835.9L584.7 834.8Q585.6 834.4 586.7 836.9L589.7 843.3Q590.8 845.8 592.1 846.8L595.4 849.5Q596.7 850.5 598.0 847.9L601.3 841.3Q602.6 838.7 603.9 836.9L607.2 832.2Q608.5 830.4 609.2 830.6L610.9 830.9Q611.6 831.1 612.7 834.1L615.7 841.6Q616.8 844.6 617.9 846.9L620.5 852.9Q621.6 855.2 622.9 854.2L626.2 851.5Q627.5 850.5 628.3 849.5L630.2 846.8Q631.0 845.8 631.8 845.0L633.8 843.0Q634.6 842.2 635.9 844.0L639.2 848.7Q640.5 850.5 641.8 853.9L645.1 862.5Q646.4 865.9 648.0 864.1L651.9 859.4Q653.5 857.6 654.9 855.5L658.5 850.2Q659.9 848.1 661.1 849.2L664.2 851.8Q665.4 852.9 667.1 857.4L671.3 869.0Q673.0 873.5 674.2 870.5L677.2 863.0Q678.4 860.0 679.4 858.7L682.1 855.4Q683.1 854.1 684.2 852.0L686.8 846.7Q687.9 844.6 688.7 845.9L690.6 849.2Q691.4 850.5 692.2 853.1L694.2 859.8Q695.0 862.4 695.5 862.1L696.8 861.5Q697.3 861.2 698.2 862.2L700.7 864.9Q701.6 865.9 702.7 863.5L705.7 857.6Q706.8 855.2 708.3 853.2L712.0 848.0Q713.5 846.0 714.4 847.6L716.9 851.8Q717.8 853.4 718.7 855.4L721.2 860.4Q722.1 862.4 723.1 862.4L725.8 862.4Q726.8 862.4 727.9 859.2L730.5 851.1Q731.6 847.9 732.4 847.6L734.3 846.9Q735.1 846.6 736.0 845.3L738.1 841.9Q739.0 840.6 740.2 842.1L743.4 846.1Q744.6 847.6 745.9 849.1L749.2 852.8Q750.5 854.3 751.8 851.9L755.1 845.8Q756.4 843.4 757.7 841.8L761.1 837.9Q762.4 836.3 763.2 836.1L765.4 835.6Q766.2 835.4 767.1 836.0L769.3 837.6Q770.2 838.2 771.1 839.8L773.6 843.7Q774.5 845.3 775.6 843.2L778.4 837.8Q779.5 835.7 780.7 834.0L783.6 829.7Q784.8 828.0 785.6 826.3L787.5 822.1Q788.3 820.4 789.0 820.6L790.7 821.2Q791.4 821.4 791.9 823.6L793.3 829.4Q793.8 831.6 794.4 833.4L796.0 838.1Q796.6 839.9 797.4 839.1L799.4 837.1Q800.2 836.3 800.7 837.3L802.0 840.0Q802.5 841.0 803.0 841.3L804.9 842.2L805.4 842.2V895z"/>
<path d="M147 815V894M805 894V842" fill="none" stroke="#4a5458" stroke-width="0.9"/>
<path d="M146.4 895.1H805.6" fill="none" stroke="#111" stroke-width="1.4"/>
<path fill="none" stroke="#50646c" stroke-width="0.6" d="M148.3 815.0L152.0 807.6Q153.0 805.5 154.1 801.6L156.7 791.7Q157.8 787.8 158.8 786.2L161.5 782.3Q162.5 780.7 163.5 780.9L166.2 781.6Q167.2 781.8 168.3 783.1L170.9 786.5Q172.0 787.8 173.6 790.4L177.5 797.0Q179.1 799.6 180.1 798.0L182.8 794.1Q183.8 792.5 184.8 792.0L187.5 790.6Q188.5 790.1 189.6 791.2L192.2 793.8Q193.3 794.9 194.6 797.2L197.9 803.2Q199.2 805.5 200.2 807.1L202.9 811.0Q203.9 812.6 205.2 811.0L208.6 807.1Q209.9 805.5 210.9 804.9L213.6 803.3Q214.6 802.7 215.6 803.6L218.3 805.8Q219.3 806.7 220.6 808.8L223.9 814.1Q225.2 816.2 226.5 817.8L229.9 821.7Q231.2 823.3 232.2 821.5L234.9 816.8Q235.9 815.0 236.9 814.6L239.6 813.5Q240.6 813.1 241.1 812.6L242.5 811.2Q243.0 810.7 243.8 812.2L245.8 815.9Q246.6 817.4 248.4 819.7L253.0 825.7Q254.8 828.0 256.1 826.4L259.5 822.5Q260.8 820.9 262.1 819.1L265.4 814.4Q266.7 812.6 267.7 813.9L270.4 817.2Q271.4 818.5 273.2 821.3L277.9 828.3Q279.7 831.1 280.7 830.2L283.4 827.7Q284.4 826.8 285.5 825.3L288.1 821.7Q289.2 820.2 290.0 820.0L291.9 819.5Q292.7 819.3 293.8 820.2L296.4 822.4Q297.5 823.3 298.8 825.4L302.1 830.7Q303.4 832.8 304.7 835.1L308.0 841.1Q309.3 843.4 310.1 842.9L312.1 841.5Q312.9 841.0 313.9 838.7L316.6 832.7Q317.6 830.4 318.4 829.8L320.3 828.1Q321.1 827.5 321.9 828.4L323.9 830.7Q324.7 831.6 325.7 833.9L328.4 839.9Q329.4 842.2 330.5 844.0L333.1 848.7Q334.2 850.5 335.2 848.4L337.9 843.1Q338.9 841.0 339.9 838.7L342.6 832.7Q343.6 830.4 344.7 831.4L347.3 834.1Q348.4 835.1 349.4 837.0L352.1 842.0Q353.1 843.9 354.4 844.2L357.7 845.0Q359.0 845.3 359.6 846.2L361.2 848.4Q361.8 849.3 362.9 847.5L365.5 842.8Q366.6 841.0 367.9 839.5L371.2 835.9Q372.5 834.4 373.5 835.6L376.2 838.7Q377.2 839.9 379.3 843.4L384.6 852.2Q386.7 855.7 388.0 852.5L391.3 844.2Q392.6 841.0 393.7 840.6L396.3 839.8Q397.4 839.4 398.5 839.2L401.5 838.9Q402.6 838.7 403.5 840.5L405.9 845.2Q406.8 847.0 408.0 848.7L411.1 853.1Q412.3 854.8 413.7 851.8L417.3 844.0Q418.7 841.0 420.3 838.9L424.2 833.7Q425.8 831.6 426.6 832.1L428.5 833.4Q429.3 833.9 430.1 836.5L432.1 843.2Q432.9 845.8 434.4 846.8L438.0 849.5Q439.5 850.5 440.4 849.7L442.6 847.8Q443.5 847.0 444.3 844.9L446.3 839.6Q447.1 837.5 448.1 836.6L450.8 834.4Q451.8 833.5 452.9 834.6L455.5 837.6Q456.6 838.7 458.7 841.1L463.9 847.4Q466.0 849.8 467.3 847.6L470.7 842.1Q472.0 839.9 473.3 839.0L476.6 836.7Q477.9 835.8 478.9 836.4L481.6 838.1Q482.6 838.7 484.8 841.3L490.6 847.9Q492.8 850.5 494.2 847.9L497.8 841.3Q499.2 838.7 500.6 836.8L504.2 831.8Q505.6 829.9 506.8 832.1L509.8 837.7Q511.0 839.9 512.8 842.0L517.5 847.2Q519.3 849.3 520.3 847.7L523.0 843.8Q524.0 842.2 525.1 840.6L527.7 836.7Q528.8 835.1 530.6 835.9L535.3 837.9Q537.1 838.7 538.4 841.7L541.7 849.2Q543.0 852.2 544.3 850.8L547.6 847.2Q548.9 845.8 550.2 844.3L553.5 840.6Q554.8 839.1 555.6 839.3L557.6 839.7Q558.4 839.9 559.4 841.7L562.1 846.3Q563.1 848.1 564.3 849.2L567.3 851.8Q568.5 852.9 570.0 850.3L573.9 843.6Q575.4 841.0 576.7 840.0L580.0 837.3Q581.3 836.3 582.2 835.9L584.7 834.8Q585.6 834.4 586.7 836.9L589.7 843.3Q590.8 845.8 592.1 846.8L595.4 849.5Q596.7 850.5 598.0 847.9L601.3 841.3Q602.6 838.7 603.9 836.9L607.2 832.2Q608.5 830.4 609.2 830.6L610.9 830.9Q611.6 831.1 612.7 834.1L615.7 841.6Q616.8 844.6 617.9 846.9L620.5 852.9Q621.6 855.2 622.9 854.2L626.2 851.5Q627.5 850.5 628.3 849.5L630.2 846.8Q631.0 845.8 631.8 845.0L633.8 843.0Q634.6 842.2 635.9 844.0L639.2 848.7Q640.5 850.5 641.8 853.9L645.1 862.5Q646.4 865.9 648.0 864.1L651.9 859.4Q653.5 857.6 654.9 855.5L658.5 850.2Q659.9 848.1 661.1 849.2L664.2 851.8Q665.4 852.9 667.1 857.4L671.3 869.0Q673.0 873.5 674.2 870.5L677.2 863.0Q678.4 860.0 679.4 858.7L682.1 855.4Q683.1 854.1 684.2 852.0L686.8 846.7Q687.9 844.6 688.7 845.9L690.6 849.2Q691.4 850.5 692.2 853.1L694.2 859.8Q695.0 862.4 695.5 862.1L696.8 861.5Q697.3 861.2 698.2 862.2L700.7 864.9Q701.6 865.9 702.7 863.5L705.7 857.6Q706.8 855.2 708.3 853.2L712.0 848.0Q713.5 846.0 714.4 847.6L716.9 851.8Q717.8 853.4 718.7 855.4L721.2 860.4Q722.1 862.4 723.1 862.4L725.8 862.4Q726.8 862.4 727.9 859.2L730.5 851.1Q731.6 847.9 732.4 847.6L734.3 846.9Q735.1 846.6 736.0 845.3L738.1 841.9Q739.0 840.6 740.2 842.1L743.4 846.1Q744.6 847.6 745.9 849.1L749.2 852.8Q750.5 854.3 751.8 851.9L755.1 845.8Q756.4 843.4 757.7 841.8L761.1 837.9Q762.4 836.3 763.2 836.1L765.4 835.6Q766.2 835.4 767.1 836.0L769.3 837.6Q770.2 838.2 771.1 839.8L773.6 843.7Q774.5 845.3 775.6 843.2L778.4 837.8Q779.5 835.7 780.7 834.0L783.6 829.7Q784.8 828.0 785.6 826.3L787.5 822.1Q788.3 820.4 789.0 820.6L790.7 821.2Q791.4 821.4 791.9 823.6L793.3 829.4Q793.8 831.6 794.4 833.4L796.0 838.1Q796.6 839.9 797.4 839.1L799.4 837.1Q800.2 836.3 800.7 837.3L802.0 840.0Q802.5 841.0 803.0 841.3L804.9 842.2"/>
<polyline fill="none" stroke="#000" stroke-width="2.3" stroke-linejoin="round" points="147.6,754.6 150.1,739.5 160.7,562.7 164.0,563.2 172.8,773.6 188.7,598.8 191.8,600.0 201.4,733.0 203.9,735.7 214.5,637.0 217.5,632.0 220.6,650.0 227.1,757.0 229.7,762.0 238.5,661.0 241.8,661.0 244.3,668.8 252.4,774.8 267.3,660.0 269.3,653.6 271.5,662.0 280.7,782.4 292.8,670.0 294.8,663.7 297.0,672.0 306.2,768.5 320.7,654.0 323.2,656.0 330.3,747.0 332.3,757.0 346.0,654.9 348.7,654.0 358.1,753.4 360.1,756.0 371.5,668.8 374.5,667.5 384.6,757.0 386.6,766.0 397.2,671.3 400.3,663.2 403.1,671.3 409.9,754.7 412.4,764.3 423.0,666.2 425.8,657.4 428.8,668.8 435.1,759.7 437.7,768.5 449.0,668.8 451.6,662.5 454.6,673.8 461.7,762.2 463.5,769.5 474.8,677.0 477.2,671.3 480.7,681.4 489.0,777.9 491.6,772.3 500.6,680.0 502.9,673.8 506.7,686.5 514.8,766.0 518.1,766.8 528.2,666.2 531.5,658.2 534.5,671.3 540.3,752.1 543.4,766.0 554.0,668.8 557.2,661.7 560.3,673.8 566.1,752.1 569.1,759.2 579.5,652.3 583.0,646.8 585.5,661.2 594.4,763.5 605.2,666.2 608.5,656.1 611.6,663.7 620.3,769.8 631.2,672.0 633.9,664.2 636.9,671.3 646.0,766.0 648.5,761.0 659.2,675.8 662.9,676.3 671.8,766.8 674.3,767.3 685.2,676.3 688.2,676.3 697.5,766.0 700.3,762.2 710.9,678.9 714.0,673.3 717.2,683.9 725.6,768.5 737.5,656.1 740.0,654.1 748.8,759.7 751.3,757.9 762.7,646.0 766.0,646.0 775.3,762.2 777.9,758.4 788.0,663.7 791.1,654.1 794.4,668.8 803.2,776.0"/>
<text x="134" y="599.5" font-size="29.6" text-anchor="end">1,2</text>
<text x="819.3" y="599.5" font-size="29.6">1,2</text>
<text x="134" y="685.9" font-size="29.6" text-anchor="end">0,8</text>
<text x="819.3" y="685.9" font-size="29.6">0,8</text>
<text x="134" y="772.4" font-size="29.6" text-anchor="end">0,4</text>
<text x="819.3" y="772.4" font-size="29.6">0,4</text>
<text x="134" y="858.8" font-size="29.6" text-anchor="end">0,0</text>
<text x="819.3" y="858.8" font-size="29.6">0,0</text>
<text x="147.6" y="931.2" font-size="29.6" text-anchor="middle">0</text>
<text x="285.7" y="931.2" font-size="29.6" text-anchor="middle">2</text>
<text x="423.8" y="931.2" font-size="29.6" text-anchor="middle">4</text>
<text x="561.9" y="931.2" font-size="29.6" text-anchor="middle">6</text>
<text x="700.0" y="931.2" font-size="29.6" text-anchor="middle">8</text>
<text x="403" y="995.8" font-size="44" textLength="142.6" lengthAdjust="spacingAndGlyphs">Length</text>
<text transform="translate(51.9 726.4) rotate(-90)" font-size="45.5" text-anchor="middle" textLength="199" lengthAdjust="spacingAndGlyphs">Height (Å)</text>
<text x="896.6" y="603.1" font-size="51" textLength="32" lengthAdjust="spacingAndGlyphs">b</text>
<text x="895.2" y="55.6" font-size="50" textLength="25.2" lengthAdjust="spacingAndGlyphs">a</text>
<text x="238.3" y="644" font-size="36" fill="#2b72d8" textLength="134" lengthAdjust="spacingAndGlyphs">NaCl tip</text>
<text x="162" y="876.1" font-size="36" fill="#6b22b8" textLength="113" lengthAdjust="spacingAndGlyphs">PtIr tip</text>
</svg></body></html>
